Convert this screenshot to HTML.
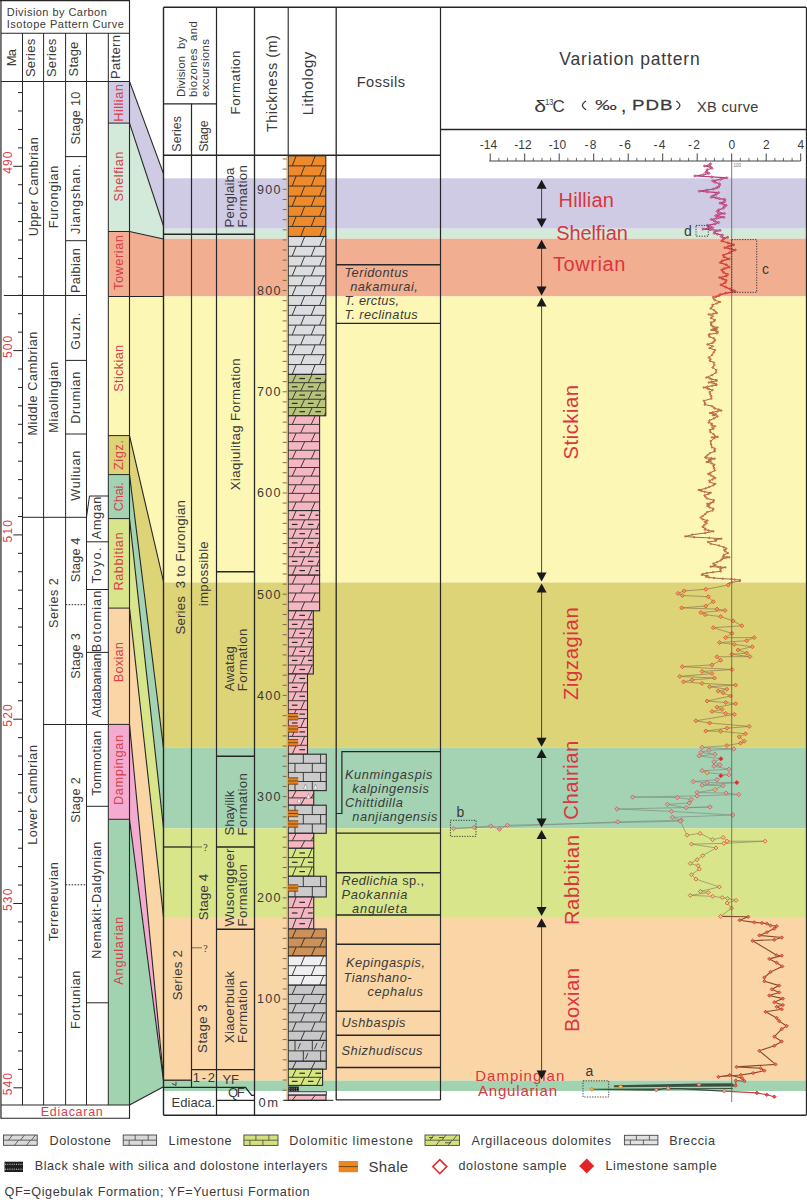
<!DOCTYPE html>
<html><head><meta charset="utf-8"><style>
html,body{margin:0;padding:0;background:#fff;}
svg{display:block;font-family:"Liberation Sans",sans-serif;}
</style></head><body>
<svg width="807" height="1200" viewBox="0 0 807 1200">
<rect width="807" height="1200" fill="#fff"/>
<rect x="163.50" y="178.30" width="642.50" height="50.40" fill="#cfcbe5" />
<rect x="163.50" y="228.70" width="642.50" height="10.00" fill="#d3eadb" />
<rect x="163.50" y="238.70" width="642.50" height="57.70" fill="#f2ae90" />
<rect x="163.50" y="296.40" width="642.50" height="286.10" fill="#fdf7b5" />
<rect x="163.50" y="582.50" width="642.50" height="165.30" fill="#ddd377" />
<rect x="163.50" y="747.80" width="642.50" height="80.50" fill="#a3d3b3" />
<rect x="163.50" y="828.30" width="642.50" height="88.70" fill="#d9e58b" />
<rect x="163.50" y="917.00" width="642.50" height="163.60" fill="#fad5a6" />
<rect x="163.50" y="1080.60" width="642.50" height="10.40" fill="#a2d3b0" />
<rect x="108.30" y="81.40" width="21.20" height="41.70" fill="#cfcbe5" />
<rect x="108.30" y="123.10" width="21.20" height="108.40" fill="#d3eadb" />
<rect x="108.30" y="231.50" width="21.20" height="65.00" fill="#f2ae90" />
<rect x="108.30" y="296.50" width="21.20" height="139.10" fill="#fdf7b5" />
<rect x="108.30" y="435.60" width="21.20" height="39.00" fill="#ddd377" />
<rect x="108.30" y="474.60" width="21.20" height="44.00" fill="#a3d3b3" />
<rect x="108.30" y="518.60" width="21.20" height="89.50" fill="#d9e58b" />
<rect x="108.30" y="608.10" width="21.20" height="116.30" fill="#fad5a6" />
<rect x="108.30" y="724.40" width="21.20" height="94.90" fill="#f3acd0" />
<rect x="108.30" y="819.30" width="21.20" height="285.70" fill="#a2d3b0" />
<polygon points="129.5,81.4 163.5,173.6 163.5,226.0 129.5,123.1" fill="#cfcbe5"/>
<polygon points="129.5,123.1 163.5,226.0 163.5,239.0 129.5,231.5" fill="#d3eadb"/>
<polygon points="129.5,231.5 163.5,239.0 163.5,296.5 129.5,296.5" fill="#f2ae90"/>
<polygon points="129.5,296.5 163.5,296.5 163.5,581.5 129.5,435.6" fill="#fdf7b5"/>
<polygon points="129.5,435.6 163.5,581.5 163.5,748.0 129.5,474.6" fill="#ddd377"/>
<polygon points="129.5,474.6 163.5,748.0 163.5,828.0 129.5,518.6" fill="#a3d3b3"/>
<polygon points="129.5,518.6 163.5,828.0 163.5,917.0 129.5,608.1" fill="#d9e58b"/>
<polygon points="129.5,608.1 163.5,917.0 163.5,1078.0 129.5,724.4" fill="#fad5a6"/>
<polygon points="129.5,724.4 163.5,1078.0 163.5,1081.0 129.5,819.3" fill="#f3acd0"/>
<polygon points="129.5,819.3 163.5,1081.0 163.5,1086.7 129.5,1105" fill="#a2d3b0"/>
<line x1="129.50" y1="81.40" x2="163.50" y2="173.60" stroke="#262626" stroke-width="1.1" />
<line x1="129.50" y1="123.10" x2="163.50" y2="226.00" stroke="#262626" stroke-width="1.1" />
<line x1="129.50" y1="231.50" x2="163.50" y2="239.00" stroke="#262626" stroke-width="1.1" />
<line x1="129.50" y1="296.50" x2="163.50" y2="296.50" stroke="#262626" stroke-width="1.1" />
<line x1="129.50" y1="435.60" x2="163.50" y2="581.50" stroke="#262626" stroke-width="1.1" />
<line x1="129.50" y1="474.60" x2="163.50" y2="748.00" stroke="#262626" stroke-width="1.1" />
<line x1="129.50" y1="518.60" x2="163.50" y2="828.00" stroke="#262626" stroke-width="1.1" />
<line x1="129.50" y1="608.10" x2="163.50" y2="917.00" stroke="#262626" stroke-width="1.1" />
<line x1="129.50" y1="724.40" x2="163.50" y2="1078.00" stroke="#262626" stroke-width="1.1" />
<line x1="129.50" y1="819.30" x2="163.50" y2="1081.00" stroke="#262626" stroke-width="1.1" />
<line x1="129.50" y1="1105.00" x2="163.50" y2="1086.70" stroke="#262626" stroke-width="1.1" />
<line x1="108.30" y1="123.10" x2="129.50" y2="123.10" stroke="#262626" stroke-width="1.0" />
<line x1="108.30" y1="231.50" x2="129.50" y2="231.50" stroke="#262626" stroke-width="1.0" />
<line x1="108.30" y1="296.50" x2="129.50" y2="296.50" stroke="#262626" stroke-width="1.0" />
<line x1="108.30" y1="435.60" x2="129.50" y2="435.60" stroke="#262626" stroke-width="1.0" />
<line x1="108.30" y1="474.60" x2="129.50" y2="474.60" stroke="#262626" stroke-width="1.0" />
<line x1="108.30" y1="518.60" x2="129.50" y2="518.60" stroke="#262626" stroke-width="1.0" />
<line x1="108.30" y1="608.10" x2="129.50" y2="608.10" stroke="#262626" stroke-width="1.0" />
<line x1="108.30" y1="724.40" x2="129.50" y2="724.40" stroke="#262626" stroke-width="1.0" />
<line x1="108.30" y1="819.30" x2="129.50" y2="819.30" stroke="#262626" stroke-width="1.0" />
<line x1="0.90" y1="0.00" x2="0.90" y2="1118.80" stroke="#707070" stroke-width="1.9" />
<line x1="0.00" y1="0.60" x2="130.00" y2="0.60" stroke="#262626" stroke-width="1.2" />
<line x1="1.00" y1="33.20" x2="130.00" y2="33.20" stroke="#262626" stroke-width="1.1" />
<line x1="1.00" y1="81.50" x2="130.00" y2="81.50" stroke="#262626" stroke-width="1.1" />
<line x1="129.50" y1="0.00" x2="129.50" y2="1118.80" stroke="#262626" stroke-width="1.1" />
<line x1="22.50" y1="33.20" x2="22.50" y2="1105.00" stroke="#262626" stroke-width="1.0" />
<line x1="43.60" y1="33.20" x2="43.60" y2="1105.00" stroke="#262626" stroke-width="1.0" />
<line x1="65.60" y1="33.20" x2="65.60" y2="1105.00" stroke="#262626" stroke-width="1.0" />
<line x1="86.50" y1="33.20" x2="86.50" y2="1105.00" stroke="#262626" stroke-width="1.0" />
<line x1="108.30" y1="33.20" x2="108.30" y2="1105.00" stroke="#262626" stroke-width="1.0" />
<line x1="1.00" y1="1105.00" x2="130.00" y2="1105.00" stroke="#262626" stroke-width="1.1" />
<line x1="1.00" y1="1118.20" x2="130.00" y2="1118.20" stroke="#262626" stroke-width="1.1" />
<text x="6.80" y="16.10" text-anchor="start" font-size="11" fill="#3a3a3a" letter-spacing="0.452" >Division by Carbon</text>
<text x="6.80" y="28.30" text-anchor="start" font-size="11" fill="#3a3a3a" letter-spacing="0.5" >Isotope Pattern Curve</text>
<text transform="translate(11.60,57.97) rotate(-90)" text-anchor="middle" dominant-baseline="central" font-size="13" fill="#3a3a3a" letter-spacing="-0.658" >Ma</text>
<text transform="translate(30.60,57.76) rotate(-90)" text-anchor="middle" dominant-baseline="central" font-size="13" fill="#3a3a3a" letter-spacing="0.311" >Series</text>
<text transform="translate(51.00,57.76) rotate(-90)" text-anchor="middle" dominant-baseline="central" font-size="13" fill="#3a3a3a" letter-spacing="0.311" >Series</text>
<text transform="translate(73.30,58.99) rotate(-90)" text-anchor="middle" dominant-baseline="central" font-size="13" fill="#3a3a3a" letter-spacing="0.182" >Stage</text>
<text transform="translate(115.50,56.87) rotate(-90)" text-anchor="middle" dominant-baseline="central" font-size="13" fill="#3a3a3a" letter-spacing="0.348" >Pattern</text>
<line x1="18.00" y1="92.58" x2="22.50" y2="92.58" stroke="#262626" stroke-width="1.0" />
<line x1="18.00" y1="111.01" x2="22.50" y2="111.01" stroke="#262626" stroke-width="1.0" />
<line x1="18.00" y1="129.44" x2="22.50" y2="129.44" stroke="#262626" stroke-width="1.0" />
<line x1="18.00" y1="147.87" x2="22.50" y2="147.87" stroke="#262626" stroke-width="1.0" />
<line x1="13.30" y1="166.30" x2="22.50" y2="166.30" stroke="#262626" stroke-width="1.0" />
<text transform="translate(7.90,162.07) rotate(-90)" text-anchor="middle" dominant-baseline="central" font-size="12" fill="#d9404c" letter-spacing="1.14" >490</text>
<line x1="18.00" y1="184.73" x2="22.50" y2="184.73" stroke="#262626" stroke-width="1.0" />
<line x1="18.00" y1="203.16" x2="22.50" y2="203.16" stroke="#262626" stroke-width="1.0" />
<line x1="18.00" y1="221.59" x2="22.50" y2="221.59" stroke="#262626" stroke-width="1.0" />
<line x1="18.00" y1="240.02" x2="22.50" y2="240.02" stroke="#262626" stroke-width="1.0" />
<line x1="18.00" y1="258.45" x2="22.50" y2="258.45" stroke="#262626" stroke-width="1.0" />
<line x1="18.00" y1="276.88" x2="22.50" y2="276.88" stroke="#262626" stroke-width="1.0" />
<line x1="18.00" y1="295.31" x2="22.50" y2="295.31" stroke="#262626" stroke-width="1.0" />
<line x1="18.00" y1="313.74" x2="22.50" y2="313.74" stroke="#262626" stroke-width="1.0" />
<line x1="18.00" y1="332.17" x2="22.50" y2="332.17" stroke="#262626" stroke-width="1.0" />
<line x1="13.30" y1="350.60" x2="22.50" y2="350.60" stroke="#262626" stroke-width="1.0" />
<text transform="translate(7.90,346.37) rotate(-90)" text-anchor="middle" dominant-baseline="central" font-size="12" fill="#d9404c" letter-spacing="1.14" >500</text>
<line x1="18.00" y1="369.03" x2="22.50" y2="369.03" stroke="#262626" stroke-width="1.0" />
<line x1="18.00" y1="387.46" x2="22.50" y2="387.46" stroke="#262626" stroke-width="1.0" />
<line x1="18.00" y1="405.89" x2="22.50" y2="405.89" stroke="#262626" stroke-width="1.0" />
<line x1="18.00" y1="424.32" x2="22.50" y2="424.32" stroke="#262626" stroke-width="1.0" />
<line x1="18.00" y1="442.75" x2="22.50" y2="442.75" stroke="#262626" stroke-width="1.0" />
<line x1="18.00" y1="461.18" x2="22.50" y2="461.18" stroke="#262626" stroke-width="1.0" />
<line x1="18.00" y1="479.61" x2="22.50" y2="479.61" stroke="#262626" stroke-width="1.0" />
<line x1="18.00" y1="498.04" x2="22.50" y2="498.04" stroke="#262626" stroke-width="1.0" />
<line x1="18.00" y1="516.47" x2="22.50" y2="516.47" stroke="#262626" stroke-width="1.0" />
<line x1="13.30" y1="534.90" x2="22.50" y2="534.90" stroke="#262626" stroke-width="1.0" />
<text transform="translate(7.90,530.67) rotate(-90)" text-anchor="middle" dominant-baseline="central" font-size="12" fill="#d9404c" letter-spacing="1.14" >510</text>
<line x1="18.00" y1="553.33" x2="22.50" y2="553.33" stroke="#262626" stroke-width="1.0" />
<line x1="18.00" y1="571.76" x2="22.50" y2="571.76" stroke="#262626" stroke-width="1.0" />
<line x1="18.00" y1="590.19" x2="22.50" y2="590.19" stroke="#262626" stroke-width="1.0" />
<line x1="18.00" y1="608.62" x2="22.50" y2="608.62" stroke="#262626" stroke-width="1.0" />
<line x1="18.00" y1="627.05" x2="22.50" y2="627.05" stroke="#262626" stroke-width="1.0" />
<line x1="18.00" y1="645.48" x2="22.50" y2="645.48" stroke="#262626" stroke-width="1.0" />
<line x1="18.00" y1="663.91" x2="22.50" y2="663.91" stroke="#262626" stroke-width="1.0" />
<line x1="18.00" y1="682.34" x2="22.50" y2="682.34" stroke="#262626" stroke-width="1.0" />
<line x1="18.00" y1="700.77" x2="22.50" y2="700.77" stroke="#262626" stroke-width="1.0" />
<line x1="13.30" y1="719.20" x2="22.50" y2="719.20" stroke="#262626" stroke-width="1.0" />
<text transform="translate(7.90,714.97) rotate(-90)" text-anchor="middle" dominant-baseline="central" font-size="12" fill="#d9404c" letter-spacing="1.14" >520</text>
<line x1="18.00" y1="737.63" x2="22.50" y2="737.63" stroke="#262626" stroke-width="1.0" />
<line x1="18.00" y1="756.06" x2="22.50" y2="756.06" stroke="#262626" stroke-width="1.0" />
<line x1="18.00" y1="774.49" x2="22.50" y2="774.49" stroke="#262626" stroke-width="1.0" />
<line x1="18.00" y1="792.92" x2="22.50" y2="792.92" stroke="#262626" stroke-width="1.0" />
<line x1="18.00" y1="811.35" x2="22.50" y2="811.35" stroke="#262626" stroke-width="1.0" />
<line x1="18.00" y1="829.78" x2="22.50" y2="829.78" stroke="#262626" stroke-width="1.0" />
<line x1="18.00" y1="848.21" x2="22.50" y2="848.21" stroke="#262626" stroke-width="1.0" />
<line x1="18.00" y1="866.64" x2="22.50" y2="866.64" stroke="#262626" stroke-width="1.0" />
<line x1="18.00" y1="885.07" x2="22.50" y2="885.07" stroke="#262626" stroke-width="1.0" />
<line x1="13.30" y1="903.50" x2="22.50" y2="903.50" stroke="#262626" stroke-width="1.0" />
<text transform="translate(7.90,899.27) rotate(-90)" text-anchor="middle" dominant-baseline="central" font-size="12" fill="#d9404c" letter-spacing="1.14" >530</text>
<line x1="18.00" y1="921.93" x2="22.50" y2="921.93" stroke="#262626" stroke-width="1.0" />
<line x1="18.00" y1="940.36" x2="22.50" y2="940.36" stroke="#262626" stroke-width="1.0" />
<line x1="18.00" y1="958.79" x2="22.50" y2="958.79" stroke="#262626" stroke-width="1.0" />
<line x1="18.00" y1="977.22" x2="22.50" y2="977.22" stroke="#262626" stroke-width="1.0" />
<line x1="18.00" y1="995.65" x2="22.50" y2="995.65" stroke="#262626" stroke-width="1.0" />
<line x1="18.00" y1="1014.08" x2="22.50" y2="1014.08" stroke="#262626" stroke-width="1.0" />
<line x1="18.00" y1="1032.51" x2="22.50" y2="1032.51" stroke="#262626" stroke-width="1.0" />
<line x1="18.00" y1="1050.94" x2="22.50" y2="1050.94" stroke="#262626" stroke-width="1.0" />
<line x1="18.00" y1="1069.37" x2="22.50" y2="1069.37" stroke="#262626" stroke-width="1.0" />
<line x1="13.30" y1="1087.80" x2="22.50" y2="1087.80" stroke="#262626" stroke-width="1.0" />
<text transform="translate(7.90,1083.57) rotate(-90)" text-anchor="middle" dominant-baseline="central" font-size="12" fill="#d9404c" letter-spacing="1.14" >540</text>
<line x1="3.80" y1="295.50" x2="86.50" y2="295.50" stroke="#262626" stroke-width="1.0" />
<line x1="22.50" y1="517.30" x2="86.50" y2="517.30" stroke="#262626" stroke-width="1.0" />
<line x1="43.60" y1="724.50" x2="108.30" y2="724.50" stroke="#262626" stroke-width="1.0" />
<line x1="65.60" y1="156.60" x2="86.50" y2="156.60" stroke="#262626" stroke-width="1.0" />
<line x1="65.60" y1="240.70" x2="86.50" y2="240.70" stroke="#262626" stroke-width="1.0" />
<line x1="65.60" y1="360.40" x2="86.50" y2="360.40" stroke="#262626" stroke-width="1.0" />
<line x1="65.60" y1="434.00" x2="86.50" y2="434.00" stroke="#262626" stroke-width="1.0" />
<line x1="65.60" y1="604.70" x2="86.50" y2="604.70" stroke="#262626" stroke-width="1.0" stroke-dasharray="1.6,1.4"/>
<line x1="65.60" y1="884.80" x2="86.50" y2="884.80" stroke="#262626" stroke-width="1.0" stroke-dasharray="1.6,1.4"/>
<polyline points="86.5,517.3 89.5,496 108.3,496" fill="none" stroke="#262626" stroke-width="1"/>
<line x1="86.50" y1="541.80" x2="108.30" y2="541.80" stroke="#262626" stroke-width="1.0" />
<line x1="86.50" y1="589.50" x2="108.30" y2="589.50" stroke="#262626" stroke-width="1.0" />
<line x1="86.50" y1="652.40" x2="108.30" y2="652.40" stroke="#262626" stroke-width="1.0" />
<line x1="86.50" y1="806.30" x2="108.30" y2="806.30" stroke="#262626" stroke-width="1.0" />
<line x1="86.50" y1="1002.80" x2="108.30" y2="1002.80" stroke="#262626" stroke-width="1.0" />
<text transform="translate(33.60,186.55) rotate(-90)" text-anchor="middle" dominant-baseline="central" font-size="12.6" fill="#3a3a3a" letter-spacing="0.505" >Upper Cambrian</text>
<text transform="translate(53.60,196.61) rotate(-90)" text-anchor="middle" dominant-baseline="central" font-size="12.6" fill="#3a3a3a" letter-spacing="0.721" >Furongian</text>
<text transform="translate(75.60,117.91) rotate(-90)" text-anchor="middle" dominant-baseline="central" font-size="12.6" fill="#3a3a3a" letter-spacing="0.323" >Stage 10</text>
<text transform="translate(75.60,198.68) rotate(-90)" text-anchor="middle" dominant-baseline="central" font-size="12.6" fill="#3a3a3a" letter-spacing="0.962" >Jiangshan.</text>
<text transform="translate(75.60,270.39) rotate(-90)" text-anchor="middle" dominant-baseline="central" font-size="12.6" fill="#3a3a3a" letter-spacing="0.478" >Paibian</text>
<text transform="translate(32.60,383.31) rotate(-90)" text-anchor="middle" dominant-baseline="central" font-size="12.6" fill="#3a3a3a" letter-spacing="0.626" >Middle Cambrian</text>
<text transform="translate(53.60,396.86) rotate(-90)" text-anchor="middle" dominant-baseline="central" font-size="12.6" fill="#3a3a3a" letter-spacing="0.727" >Miaolingian</text>
<text transform="translate(75.60,330.92) rotate(-90)" text-anchor="middle" dominant-baseline="central" font-size="12.6" fill="#3a3a3a" letter-spacing="0.846" >Guzh.</text>
<text transform="translate(75.60,397.37) rotate(-90)" text-anchor="middle" dominant-baseline="central" font-size="12.6" fill="#3a3a3a" letter-spacing="0.732" >Drumian</text>
<text transform="translate(75.60,475.39) rotate(-90)" text-anchor="middle" dominant-baseline="central" font-size="12.6" fill="#3a3a3a" letter-spacing="0.785" >Wuliuan</text>
<text transform="translate(53.60,602.81) rotate(-90)" text-anchor="middle" dominant-baseline="central" font-size="12.6" fill="#3a3a3a" letter-spacing="0.526" >Series 2</text>
<text transform="translate(75.60,559.84) rotate(-90)" text-anchor="middle" dominant-baseline="central" font-size="12.6" fill="#3a3a3a" letter-spacing="0.178" >Stage 4</text>
<text transform="translate(75.60,655.86) rotate(-90)" text-anchor="middle" dominant-baseline="central" font-size="12.6" fill="#3a3a3a" letter-spacing="0.328" >Stage 3</text>
<text transform="translate(96.80,517.57) rotate(-90)" text-anchor="middle" dominant-baseline="central" font-size="12.6" fill="#3a3a3a" letter-spacing="0.645" >Amgan</text>
<text transform="translate(96.80,564.74) rotate(-90)" text-anchor="middle" dominant-baseline="central" font-size="12.6" fill="#3a3a3a" letter-spacing="1.471" >Toyo.</text>
<text transform="translate(96.80,620.84) rotate(-90)" text-anchor="middle" dominant-baseline="central" font-size="12.6" fill="#3a3a3a" letter-spacing="1.182" >Botomian</text>
<text transform="translate(96.80,685.51) rotate(-90)" text-anchor="middle" dominant-baseline="central" font-size="12.6" fill="#3a3a3a" letter-spacing="0.028" >Atdabanian</text>
<text transform="translate(32.60,794.63) rotate(-90)" text-anchor="middle" dominant-baseline="central" font-size="12.6" fill="#3a3a3a" letter-spacing="0.559" >Lower Cambrian</text>
<text transform="translate(54.40,901.43) rotate(-90)" text-anchor="middle" dominant-baseline="central" font-size="12.6" fill="#3a3a3a" letter-spacing="0.569" >Terreneuvian</text>
<text transform="translate(75.60,799.92) rotate(-90)" text-anchor="middle" dominant-baseline="central" font-size="12.6" fill="#3a3a3a" letter-spacing="0.345" >Stage 2</text>
<text transform="translate(96.80,763.11) rotate(-90)" text-anchor="middle" dominant-baseline="central" font-size="12.6" fill="#3a3a3a" letter-spacing="0.423" >Tommotian</text>
<text transform="translate(96.80,899.83) rotate(-90)" text-anchor="middle" dominant-baseline="central" font-size="12.6" fill="#3a3a3a" letter-spacing="0.66" >Nemakit-Daldynian</text>
<text transform="translate(75.80,999.52) rotate(-90)" text-anchor="middle" dominant-baseline="central" font-size="12.6" fill="#3a3a3a" letter-spacing="0.647" >Fortunian</text>
<text x="72.14" y="1116.20" text-anchor="middle" font-size="12.5" fill="#d9404c" letter-spacing="0.715" >Ediacaran</text>
<text transform="translate(118.80,102.72) rotate(-90)" text-anchor="middle" dominant-baseline="central" font-size="12.8" fill="#d9404c" letter-spacing="0.441" >Hillian</text>
<text transform="translate(118.80,176.27) rotate(-90)" text-anchor="middle" dominant-baseline="central" font-size="12.8" fill="#d9404c" letter-spacing="0.535" >Shelfian</text>
<text transform="translate(118.80,262.27) rotate(-90)" text-anchor="middle" dominant-baseline="central" font-size="12.8" fill="#d9404c" letter-spacing="0.54" >Towerian</text>
<text transform="translate(118.80,368.16) rotate(-90)" text-anchor="middle" dominant-baseline="central" font-size="12.8" fill="#d9404c" letter-spacing="0.312" >Stickian</text>
<text transform="translate(118.80,454.78) rotate(-90)" text-anchor="middle" dominant-baseline="central" font-size="12.8" fill="#d9404c" letter-spacing="0.566" >Zigz.</text>
<text transform="translate(118.80,496.89) rotate(-90)" text-anchor="middle" dominant-baseline="central" font-size="12.8" fill="#d9404c" letter-spacing="-0.22" >Chai.</text>
<text transform="translate(118.80,561.25) rotate(-90)" text-anchor="middle" dominant-baseline="central" font-size="12.8" fill="#d9404c" letter-spacing="0.49" >Rabbitian</text>
<text transform="translate(118.80,662.09) rotate(-90)" text-anchor="middle" dominant-baseline="central" font-size="12.8" fill="#d9404c" letter-spacing="0.173" >Boxian</text>
<text transform="translate(118.80,769.68) rotate(-90)" text-anchor="middle" dominant-baseline="central" font-size="12.8" fill="#d9404c" letter-spacing="0.568" >Dampingan</text>
<text transform="translate(118.80,950.38) rotate(-90)" text-anchor="middle" dominant-baseline="central" font-size="12.8" fill="#d9404c" letter-spacing="0.756" >Angularian</text>
<rect x="288.2" y="155.80" width="37.60" height="80.70" fill="#ef8a2a"/>
<line x1="292.20" y1="165.89" x2="296.20" y2="155.80" stroke="#2a2a2a" stroke-width="0.9"/>
<line x1="311.20" y1="165.89" x2="315.20" y2="155.80" stroke="#2a2a2a" stroke-width="0.9"/>
<line x1="288.20" y1="165.89" x2="325.80" y2="165.89" stroke="#2a2a2a" stroke-width="0.9"/>
<line x1="300.70" y1="175.98" x2="304.70" y2="165.89" stroke="#2a2a2a" stroke-width="0.9"/>
<line x1="319.70" y1="175.98" x2="323.70" y2="165.89" stroke="#2a2a2a" stroke-width="0.9"/>
<line x1="288.20" y1="175.98" x2="325.80" y2="175.98" stroke="#2a2a2a" stroke-width="0.9"/>
<line x1="292.20" y1="186.06" x2="296.20" y2="175.98" stroke="#2a2a2a" stroke-width="0.9"/>
<line x1="311.20" y1="186.06" x2="315.20" y2="175.98" stroke="#2a2a2a" stroke-width="0.9"/>
<line x1="288.20" y1="186.06" x2="325.80" y2="186.06" stroke="#2a2a2a" stroke-width="0.9"/>
<line x1="300.70" y1="196.15" x2="304.70" y2="186.06" stroke="#2a2a2a" stroke-width="0.9"/>
<line x1="319.70" y1="196.15" x2="323.70" y2="186.06" stroke="#2a2a2a" stroke-width="0.9"/>
<line x1="288.20" y1="196.15" x2="325.80" y2="196.15" stroke="#2a2a2a" stroke-width="0.9"/>
<line x1="292.20" y1="206.24" x2="296.20" y2="196.15" stroke="#2a2a2a" stroke-width="0.9"/>
<line x1="311.20" y1="206.24" x2="315.20" y2="196.15" stroke="#2a2a2a" stroke-width="0.9"/>
<line x1="288.20" y1="206.24" x2="325.80" y2="206.24" stroke="#2a2a2a" stroke-width="0.9"/>
<line x1="300.70" y1="216.32" x2="304.70" y2="206.24" stroke="#2a2a2a" stroke-width="0.9"/>
<line x1="319.70" y1="216.32" x2="323.70" y2="206.24" stroke="#2a2a2a" stroke-width="0.9"/>
<line x1="288.20" y1="216.32" x2="325.80" y2="216.32" stroke="#2a2a2a" stroke-width="0.9"/>
<line x1="292.20" y1="226.41" x2="296.20" y2="216.32" stroke="#2a2a2a" stroke-width="0.9"/>
<line x1="311.20" y1="226.41" x2="315.20" y2="216.32" stroke="#2a2a2a" stroke-width="0.9"/>
<line x1="288.20" y1="226.41" x2="325.80" y2="226.41" stroke="#2a2a2a" stroke-width="0.9"/>
<line x1="300.70" y1="236.50" x2="304.70" y2="226.41" stroke="#2a2a2a" stroke-width="0.9"/>
<line x1="319.70" y1="236.50" x2="323.70" y2="226.41" stroke="#2a2a2a" stroke-width="0.9"/>
<rect x="288.2" y="155.80" width="37.60" height="80.70" fill="none" stroke="#2a2a2a" stroke-width="1.1"/>
<rect x="288.2" y="236.50" width="37.60" height="137.90" fill="#dcdde1"/>
<line x1="300.70" y1="246.35" x2="304.70" y2="236.50" stroke="#2a2a2a" stroke-width="0.9"/>
<line x1="319.70" y1="246.35" x2="323.70" y2="236.50" stroke="#2a2a2a" stroke-width="0.9"/>
<line x1="288.20" y1="246.35" x2="325.80" y2="246.35" stroke="#2a2a2a" stroke-width="0.9"/>
<line x1="292.20" y1="256.20" x2="296.20" y2="246.35" stroke="#2a2a2a" stroke-width="0.9"/>
<line x1="311.20" y1="256.20" x2="315.20" y2="246.35" stroke="#2a2a2a" stroke-width="0.9"/>
<line x1="288.20" y1="256.20" x2="325.80" y2="256.20" stroke="#2a2a2a" stroke-width="0.9"/>
<line x1="300.70" y1="266.05" x2="304.70" y2="256.20" stroke="#2a2a2a" stroke-width="0.9"/>
<line x1="319.70" y1="266.05" x2="323.70" y2="256.20" stroke="#2a2a2a" stroke-width="0.9"/>
<line x1="288.20" y1="266.05" x2="325.80" y2="266.05" stroke="#2a2a2a" stroke-width="0.9"/>
<line x1="292.20" y1="275.90" x2="296.20" y2="266.05" stroke="#2a2a2a" stroke-width="0.9"/>
<line x1="311.20" y1="275.90" x2="315.20" y2="266.05" stroke="#2a2a2a" stroke-width="0.9"/>
<line x1="288.20" y1="275.90" x2="325.80" y2="275.90" stroke="#2a2a2a" stroke-width="0.9"/>
<line x1="300.70" y1="285.75" x2="304.70" y2="275.90" stroke="#2a2a2a" stroke-width="0.9"/>
<line x1="319.70" y1="285.75" x2="323.70" y2="275.90" stroke="#2a2a2a" stroke-width="0.9"/>
<line x1="288.20" y1="285.75" x2="325.80" y2="285.75" stroke="#2a2a2a" stroke-width="0.9"/>
<line x1="292.20" y1="295.60" x2="296.20" y2="285.75" stroke="#2a2a2a" stroke-width="0.9"/>
<line x1="311.20" y1="295.60" x2="315.20" y2="285.75" stroke="#2a2a2a" stroke-width="0.9"/>
<line x1="288.20" y1="295.60" x2="325.80" y2="295.60" stroke="#2a2a2a" stroke-width="0.9"/>
<line x1="300.70" y1="305.45" x2="304.70" y2="295.60" stroke="#2a2a2a" stroke-width="0.9"/>
<line x1="319.70" y1="305.45" x2="323.70" y2="295.60" stroke="#2a2a2a" stroke-width="0.9"/>
<line x1="288.20" y1="305.45" x2="325.80" y2="305.45" stroke="#2a2a2a" stroke-width="0.9"/>
<line x1="292.20" y1="315.30" x2="296.20" y2="305.45" stroke="#2a2a2a" stroke-width="0.9"/>
<line x1="311.20" y1="315.30" x2="315.20" y2="305.45" stroke="#2a2a2a" stroke-width="0.9"/>
<line x1="288.20" y1="315.30" x2="325.80" y2="315.30" stroke="#2a2a2a" stroke-width="0.9"/>
<line x1="300.70" y1="325.15" x2="304.70" y2="315.30" stroke="#2a2a2a" stroke-width="0.9"/>
<line x1="319.70" y1="325.15" x2="323.70" y2="315.30" stroke="#2a2a2a" stroke-width="0.9"/>
<line x1="288.20" y1="325.15" x2="325.80" y2="325.15" stroke="#2a2a2a" stroke-width="0.9"/>
<line x1="292.20" y1="335.00" x2="296.20" y2="325.15" stroke="#2a2a2a" stroke-width="0.9"/>
<line x1="311.20" y1="335.00" x2="315.20" y2="325.15" stroke="#2a2a2a" stroke-width="0.9"/>
<line x1="288.20" y1="335.00" x2="325.80" y2="335.00" stroke="#2a2a2a" stroke-width="0.9"/>
<line x1="300.70" y1="344.85" x2="304.70" y2="335.00" stroke="#2a2a2a" stroke-width="0.9"/>
<line x1="319.70" y1="344.85" x2="323.70" y2="335.00" stroke="#2a2a2a" stroke-width="0.9"/>
<line x1="288.20" y1="344.85" x2="325.80" y2="344.85" stroke="#2a2a2a" stroke-width="0.9"/>
<line x1="292.20" y1="354.70" x2="296.20" y2="344.85" stroke="#2a2a2a" stroke-width="0.9"/>
<line x1="311.20" y1="354.70" x2="315.20" y2="344.85" stroke="#2a2a2a" stroke-width="0.9"/>
<line x1="288.20" y1="354.70" x2="325.80" y2="354.70" stroke="#2a2a2a" stroke-width="0.9"/>
<line x1="300.70" y1="364.55" x2="304.70" y2="354.70" stroke="#2a2a2a" stroke-width="0.9"/>
<line x1="319.70" y1="364.55" x2="323.70" y2="354.70" stroke="#2a2a2a" stroke-width="0.9"/>
<line x1="288.20" y1="364.55" x2="325.80" y2="364.55" stroke="#2a2a2a" stroke-width="0.9"/>
<line x1="292.20" y1="374.40" x2="296.20" y2="364.55" stroke="#2a2a2a" stroke-width="0.9"/>
<line x1="311.20" y1="374.40" x2="315.20" y2="364.55" stroke="#2a2a2a" stroke-width="0.9"/>
<rect x="288.2" y="236.50" width="37.60" height="137.90" fill="none" stroke="#2a2a2a" stroke-width="1.1"/>
<rect x="288.2" y="374.40" width="37.60" height="41.40" fill="#b8c47b"/>
<line x1="292.20" y1="382.68" x2="296.20" y2="374.40" stroke="#2a2a2a" stroke-width="0.9"/>
<line x1="308.20" y1="382.68" x2="312.20" y2="374.40" stroke="#2a2a2a" stroke-width="0.9"/>
<line x1="324.20" y1="382.68" x2="325.80" y2="379.37" stroke="#2a2a2a" stroke-width="0.9"/>
<line x1="299.40" y1="378.54" x2="305.00" y2="378.54" stroke="#2a2a2a" stroke-width="1.2"/>
<line x1="315.40" y1="378.54" x2="321.00" y2="378.54" stroke="#2a2a2a" stroke-width="1.2"/>
<line x1="288.20" y1="382.68" x2="325.80" y2="382.68" stroke="#2a2a2a" stroke-width="0.9"/>
<line x1="300.70" y1="390.96" x2="304.70" y2="382.68" stroke="#2a2a2a" stroke-width="0.9"/>
<line x1="316.70" y1="390.96" x2="320.70" y2="382.68" stroke="#2a2a2a" stroke-width="0.9"/>
<line x1="291.90" y1="386.82" x2="297.50" y2="386.82" stroke="#2a2a2a" stroke-width="1.2"/>
<line x1="307.90" y1="386.82" x2="313.50" y2="386.82" stroke="#2a2a2a" stroke-width="1.2"/>
<line x1="288.20" y1="390.96" x2="325.80" y2="390.96" stroke="#2a2a2a" stroke-width="0.9"/>
<line x1="292.20" y1="399.24" x2="296.20" y2="390.96" stroke="#2a2a2a" stroke-width="0.9"/>
<line x1="308.20" y1="399.24" x2="312.20" y2="390.96" stroke="#2a2a2a" stroke-width="0.9"/>
<line x1="324.20" y1="399.24" x2="325.80" y2="395.93" stroke="#2a2a2a" stroke-width="0.9"/>
<line x1="299.40" y1="395.10" x2="305.00" y2="395.10" stroke="#2a2a2a" stroke-width="1.2"/>
<line x1="315.40" y1="395.10" x2="321.00" y2="395.10" stroke="#2a2a2a" stroke-width="1.2"/>
<line x1="288.20" y1="399.24" x2="325.80" y2="399.24" stroke="#2a2a2a" stroke-width="0.9"/>
<line x1="300.70" y1="407.52" x2="304.70" y2="399.24" stroke="#2a2a2a" stroke-width="0.9"/>
<line x1="316.70" y1="407.52" x2="320.70" y2="399.24" stroke="#2a2a2a" stroke-width="0.9"/>
<line x1="291.90" y1="403.38" x2="297.50" y2="403.38" stroke="#2a2a2a" stroke-width="1.2"/>
<line x1="307.90" y1="403.38" x2="313.50" y2="403.38" stroke="#2a2a2a" stroke-width="1.2"/>
<line x1="288.20" y1="407.52" x2="325.80" y2="407.52" stroke="#2a2a2a" stroke-width="0.9"/>
<line x1="292.20" y1="415.80" x2="296.20" y2="407.52" stroke="#2a2a2a" stroke-width="0.9"/>
<line x1="308.20" y1="415.80" x2="312.20" y2="407.52" stroke="#2a2a2a" stroke-width="0.9"/>
<line x1="324.20" y1="415.80" x2="325.80" y2="412.49" stroke="#2a2a2a" stroke-width="0.9"/>
<line x1="299.40" y1="411.66" x2="305.00" y2="411.66" stroke="#2a2a2a" stroke-width="1.2"/>
<line x1="315.40" y1="411.66" x2="321.00" y2="411.66" stroke="#2a2a2a" stroke-width="1.2"/>
<rect x="288.2" y="374.40" width="37.60" height="41.40" fill="none" stroke="#2a2a2a" stroke-width="1.1"/>
<rect x="288.2" y="415.80" width="31.40" height="94.80" fill="#f4b7c1"/>
<line x1="292.20" y1="424.42" x2="296.20" y2="415.80" stroke="#2a2a2a" stroke-width="0.9"/>
<line x1="311.20" y1="424.42" x2="315.20" y2="415.80" stroke="#2a2a2a" stroke-width="0.9"/>
<line x1="288.20" y1="424.42" x2="319.60" y2="424.42" stroke="#2a2a2a" stroke-width="0.9"/>
<line x1="300.70" y1="433.04" x2="304.70" y2="424.42" stroke="#2a2a2a" stroke-width="0.9"/>
<line x1="288.20" y1="433.04" x2="319.60" y2="433.04" stroke="#2a2a2a" stroke-width="0.9"/>
<line x1="292.20" y1="441.65" x2="296.20" y2="433.04" stroke="#2a2a2a" stroke-width="0.9"/>
<line x1="311.20" y1="441.65" x2="315.20" y2="433.04" stroke="#2a2a2a" stroke-width="0.9"/>
<line x1="288.20" y1="441.65" x2="319.60" y2="441.65" stroke="#2a2a2a" stroke-width="0.9"/>
<line x1="300.70" y1="450.27" x2="304.70" y2="441.65" stroke="#2a2a2a" stroke-width="0.9"/>
<line x1="288.20" y1="450.27" x2="319.60" y2="450.27" stroke="#2a2a2a" stroke-width="0.9"/>
<line x1="292.20" y1="458.89" x2="296.20" y2="450.27" stroke="#2a2a2a" stroke-width="0.9"/>
<line x1="311.20" y1="458.89" x2="315.20" y2="450.27" stroke="#2a2a2a" stroke-width="0.9"/>
<line x1="288.20" y1="458.89" x2="319.60" y2="458.89" stroke="#2a2a2a" stroke-width="0.9"/>
<line x1="300.70" y1="467.51" x2="304.70" y2="458.89" stroke="#2a2a2a" stroke-width="0.9"/>
<line x1="288.20" y1="467.51" x2="319.60" y2="467.51" stroke="#2a2a2a" stroke-width="0.9"/>
<line x1="292.20" y1="476.13" x2="296.20" y2="467.51" stroke="#2a2a2a" stroke-width="0.9"/>
<line x1="311.20" y1="476.13" x2="315.20" y2="467.51" stroke="#2a2a2a" stroke-width="0.9"/>
<line x1="288.20" y1="476.13" x2="319.60" y2="476.13" stroke="#2a2a2a" stroke-width="0.9"/>
<line x1="300.70" y1="484.75" x2="304.70" y2="476.13" stroke="#2a2a2a" stroke-width="0.9"/>
<line x1="288.20" y1="484.75" x2="319.60" y2="484.75" stroke="#2a2a2a" stroke-width="0.9"/>
<line x1="292.20" y1="493.36" x2="296.20" y2="484.75" stroke="#2a2a2a" stroke-width="0.9"/>
<line x1="311.20" y1="493.36" x2="315.20" y2="484.75" stroke="#2a2a2a" stroke-width="0.9"/>
<line x1="288.20" y1="493.36" x2="319.60" y2="493.36" stroke="#2a2a2a" stroke-width="0.9"/>
<line x1="300.70" y1="501.98" x2="304.70" y2="493.36" stroke="#2a2a2a" stroke-width="0.9"/>
<line x1="288.20" y1="501.98" x2="319.60" y2="501.98" stroke="#2a2a2a" stroke-width="0.9"/>
<line x1="292.20" y1="510.60" x2="296.20" y2="501.98" stroke="#2a2a2a" stroke-width="0.9"/>
<line x1="311.20" y1="510.60" x2="315.20" y2="501.98" stroke="#2a2a2a" stroke-width="0.9"/>
<rect x="288.2" y="415.80" width="31.40" height="94.80" fill="none" stroke="#2a2a2a" stroke-width="1.1"/>
<rect x="288.2" y="510.60" width="31.40" height="64.60" fill="#f4b7c1"/>
<line x1="292.20" y1="519.83" x2="296.20" y2="510.60" stroke="#2a2a2a" stroke-width="0.9"/>
<line x1="308.20" y1="519.83" x2="312.20" y2="510.60" stroke="#2a2a2a" stroke-width="0.9"/>
<line x1="299.40" y1="515.21" x2="305.00" y2="515.21" stroke="#2a2a2a" stroke-width="1.2"/>
<line x1="315.40" y1="515.21" x2="318.60" y2="515.21" stroke="#2a2a2a" stroke-width="1.2"/>
<line x1="288.20" y1="519.83" x2="319.60" y2="519.83" stroke="#2a2a2a" stroke-width="0.9"/>
<line x1="300.70" y1="529.06" x2="304.70" y2="519.83" stroke="#2a2a2a" stroke-width="0.9"/>
<line x1="316.70" y1="529.06" x2="319.60" y2="522.37" stroke="#2a2a2a" stroke-width="0.9"/>
<line x1="291.90" y1="524.44" x2="297.50" y2="524.44" stroke="#2a2a2a" stroke-width="1.2"/>
<line x1="307.90" y1="524.44" x2="313.50" y2="524.44" stroke="#2a2a2a" stroke-width="1.2"/>
<line x1="288.20" y1="529.06" x2="319.60" y2="529.06" stroke="#2a2a2a" stroke-width="0.9"/>
<line x1="292.20" y1="538.29" x2="296.20" y2="529.06" stroke="#2a2a2a" stroke-width="0.9"/>
<line x1="308.20" y1="538.29" x2="312.20" y2="529.06" stroke="#2a2a2a" stroke-width="0.9"/>
<line x1="299.40" y1="533.67" x2="305.00" y2="533.67" stroke="#2a2a2a" stroke-width="1.2"/>
<line x1="315.40" y1="533.67" x2="318.60" y2="533.67" stroke="#2a2a2a" stroke-width="1.2"/>
<line x1="288.20" y1="538.29" x2="319.60" y2="538.29" stroke="#2a2a2a" stroke-width="0.9"/>
<line x1="300.70" y1="547.51" x2="304.70" y2="538.29" stroke="#2a2a2a" stroke-width="0.9"/>
<line x1="316.70" y1="547.51" x2="319.60" y2="540.82" stroke="#2a2a2a" stroke-width="0.9"/>
<line x1="291.90" y1="542.90" x2="297.50" y2="542.90" stroke="#2a2a2a" stroke-width="1.2"/>
<line x1="307.90" y1="542.90" x2="313.50" y2="542.90" stroke="#2a2a2a" stroke-width="1.2"/>
<line x1="288.20" y1="547.51" x2="319.60" y2="547.51" stroke="#2a2a2a" stroke-width="0.9"/>
<line x1="292.20" y1="556.74" x2="296.20" y2="547.51" stroke="#2a2a2a" stroke-width="0.9"/>
<line x1="308.20" y1="556.74" x2="312.20" y2="547.51" stroke="#2a2a2a" stroke-width="0.9"/>
<line x1="299.40" y1="552.13" x2="305.00" y2="552.13" stroke="#2a2a2a" stroke-width="1.2"/>
<line x1="315.40" y1="552.13" x2="318.60" y2="552.13" stroke="#2a2a2a" stroke-width="1.2"/>
<line x1="288.20" y1="556.74" x2="319.60" y2="556.74" stroke="#2a2a2a" stroke-width="0.9"/>
<line x1="300.70" y1="565.97" x2="304.70" y2="556.74" stroke="#2a2a2a" stroke-width="0.9"/>
<line x1="316.70" y1="565.97" x2="319.60" y2="559.28" stroke="#2a2a2a" stroke-width="0.9"/>
<line x1="291.90" y1="561.36" x2="297.50" y2="561.36" stroke="#2a2a2a" stroke-width="1.2"/>
<line x1="307.90" y1="561.36" x2="313.50" y2="561.36" stroke="#2a2a2a" stroke-width="1.2"/>
<line x1="288.20" y1="565.97" x2="319.60" y2="565.97" stroke="#2a2a2a" stroke-width="0.9"/>
<line x1="292.20" y1="575.20" x2="296.20" y2="565.97" stroke="#2a2a2a" stroke-width="0.9"/>
<line x1="308.20" y1="575.20" x2="312.20" y2="565.97" stroke="#2a2a2a" stroke-width="0.9"/>
<line x1="299.40" y1="570.59" x2="305.00" y2="570.59" stroke="#2a2a2a" stroke-width="1.2"/>
<line x1="315.40" y1="570.59" x2="318.60" y2="570.59" stroke="#2a2a2a" stroke-width="1.2"/>
<rect x="288.2" y="510.60" width="31.40" height="64.60" fill="none" stroke="#2a2a2a" stroke-width="1.1"/>
<rect x="288.2" y="575.20" width="31.40" height="35.60" fill="#f4b7c1"/>
<line x1="292.20" y1="584.10" x2="296.20" y2="575.20" stroke="#2a2a2a" stroke-width="0.9"/>
<line x1="311.20" y1="584.10" x2="315.20" y2="575.20" stroke="#2a2a2a" stroke-width="0.9"/>
<line x1="288.20" y1="584.10" x2="319.60" y2="584.10" stroke="#2a2a2a" stroke-width="0.9"/>
<line x1="300.70" y1="593.00" x2="304.70" y2="584.10" stroke="#2a2a2a" stroke-width="0.9"/>
<line x1="288.20" y1="593.00" x2="319.60" y2="593.00" stroke="#2a2a2a" stroke-width="0.9"/>
<line x1="292.20" y1="601.90" x2="296.20" y2="593.00" stroke="#2a2a2a" stroke-width="0.9"/>
<line x1="311.20" y1="601.90" x2="315.20" y2="593.00" stroke="#2a2a2a" stroke-width="0.9"/>
<line x1="288.20" y1="601.90" x2="319.60" y2="601.90" stroke="#2a2a2a" stroke-width="0.9"/>
<line x1="300.70" y1="610.80" x2="304.70" y2="601.90" stroke="#2a2a2a" stroke-width="0.9"/>
<rect x="288.2" y="575.20" width="31.40" height="35.60" fill="none" stroke="#2a2a2a" stroke-width="1.1"/>
<rect x="288.2" y="610.80" width="25.10" height="63.20" fill="#f4b7c1"/>
<line x1="292.20" y1="619.83" x2="296.20" y2="610.80" stroke="#2a2a2a" stroke-width="0.9"/>
<line x1="308.20" y1="619.83" x2="312.20" y2="610.80" stroke="#2a2a2a" stroke-width="0.9"/>
<line x1="299.40" y1="615.31" x2="305.00" y2="615.31" stroke="#2a2a2a" stroke-width="1.2"/>
<line x1="288.20" y1="619.83" x2="313.30" y2="619.83" stroke="#2a2a2a" stroke-width="0.9"/>
<line x1="300.70" y1="628.86" x2="304.70" y2="619.83" stroke="#2a2a2a" stroke-width="0.9"/>
<line x1="291.90" y1="624.34" x2="297.50" y2="624.34" stroke="#2a2a2a" stroke-width="1.2"/>
<line x1="307.90" y1="624.34" x2="312.30" y2="624.34" stroke="#2a2a2a" stroke-width="1.2"/>
<line x1="288.20" y1="628.86" x2="313.30" y2="628.86" stroke="#2a2a2a" stroke-width="0.9"/>
<line x1="292.20" y1="637.89" x2="296.20" y2="628.86" stroke="#2a2a2a" stroke-width="0.9"/>
<line x1="308.20" y1="637.89" x2="312.20" y2="628.86" stroke="#2a2a2a" stroke-width="0.9"/>
<line x1="299.40" y1="633.37" x2="305.00" y2="633.37" stroke="#2a2a2a" stroke-width="1.2"/>
<line x1="288.20" y1="637.89" x2="313.30" y2="637.89" stroke="#2a2a2a" stroke-width="0.9"/>
<line x1="300.70" y1="646.91" x2="304.70" y2="637.89" stroke="#2a2a2a" stroke-width="0.9"/>
<line x1="291.90" y1="642.40" x2="297.50" y2="642.40" stroke="#2a2a2a" stroke-width="1.2"/>
<line x1="307.90" y1="642.40" x2="312.30" y2="642.40" stroke="#2a2a2a" stroke-width="1.2"/>
<line x1="288.20" y1="646.91" x2="313.30" y2="646.91" stroke="#2a2a2a" stroke-width="0.9"/>
<line x1="292.20" y1="655.94" x2="296.20" y2="646.91" stroke="#2a2a2a" stroke-width="0.9"/>
<line x1="308.20" y1="655.94" x2="312.20" y2="646.91" stroke="#2a2a2a" stroke-width="0.9"/>
<line x1="299.40" y1="651.43" x2="305.00" y2="651.43" stroke="#2a2a2a" stroke-width="1.2"/>
<line x1="288.20" y1="655.94" x2="313.30" y2="655.94" stroke="#2a2a2a" stroke-width="0.9"/>
<line x1="300.70" y1="664.97" x2="304.70" y2="655.94" stroke="#2a2a2a" stroke-width="0.9"/>
<line x1="291.90" y1="660.46" x2="297.50" y2="660.46" stroke="#2a2a2a" stroke-width="1.2"/>
<line x1="307.90" y1="660.46" x2="312.30" y2="660.46" stroke="#2a2a2a" stroke-width="1.2"/>
<line x1="288.20" y1="664.97" x2="313.30" y2="664.97" stroke="#2a2a2a" stroke-width="0.9"/>
<line x1="292.20" y1="674.00" x2="296.20" y2="664.97" stroke="#2a2a2a" stroke-width="0.9"/>
<line x1="308.20" y1="674.00" x2="312.20" y2="664.97" stroke="#2a2a2a" stroke-width="0.9"/>
<line x1="299.40" y1="669.49" x2="305.00" y2="669.49" stroke="#2a2a2a" stroke-width="1.2"/>
<rect x="288.2" y="610.80" width="25.10" height="63.20" fill="none" stroke="#2a2a2a" stroke-width="1.1"/>
<rect x="288.2" y="674.00" width="19.30" height="80.20" fill="#f4b7c1"/>
<line x1="292.20" y1="682.91" x2="296.20" y2="674.00" stroke="#2a2a2a" stroke-width="0.9"/>
<line x1="299.40" y1="678.46" x2="305.00" y2="678.46" stroke="#2a2a2a" stroke-width="1.2"/>
<line x1="288.20" y1="682.91" x2="307.50" y2="682.91" stroke="#2a2a2a" stroke-width="0.9"/>
<line x1="300.70" y1="691.82" x2="304.70" y2="682.91" stroke="#2a2a2a" stroke-width="0.9"/>
<line x1="291.90" y1="687.37" x2="297.50" y2="687.37" stroke="#2a2a2a" stroke-width="1.2"/>
<line x1="288.20" y1="691.82" x2="307.50" y2="691.82" stroke="#2a2a2a" stroke-width="0.9"/>
<line x1="292.20" y1="700.73" x2="296.20" y2="691.82" stroke="#2a2a2a" stroke-width="0.9"/>
<line x1="299.40" y1="696.28" x2="305.00" y2="696.28" stroke="#2a2a2a" stroke-width="1.2"/>
<line x1="288.20" y1="700.73" x2="307.50" y2="700.73" stroke="#2a2a2a" stroke-width="0.9"/>
<line x1="300.70" y1="709.64" x2="304.70" y2="700.73" stroke="#2a2a2a" stroke-width="0.9"/>
<line x1="291.90" y1="705.19" x2="297.50" y2="705.19" stroke="#2a2a2a" stroke-width="1.2"/>
<line x1="288.20" y1="709.64" x2="307.50" y2="709.64" stroke="#2a2a2a" stroke-width="0.9"/>
<line x1="292.20" y1="718.56" x2="296.20" y2="709.64" stroke="#2a2a2a" stroke-width="0.9"/>
<line x1="299.40" y1="714.10" x2="305.00" y2="714.10" stroke="#2a2a2a" stroke-width="1.2"/>
<line x1="288.20" y1="718.56" x2="307.50" y2="718.56" stroke="#2a2a2a" stroke-width="0.9"/>
<line x1="300.70" y1="727.47" x2="304.70" y2="718.56" stroke="#2a2a2a" stroke-width="0.9"/>
<line x1="291.90" y1="723.01" x2="297.50" y2="723.01" stroke="#2a2a2a" stroke-width="1.2"/>
<line x1="288.20" y1="727.47" x2="307.50" y2="727.47" stroke="#2a2a2a" stroke-width="0.9"/>
<line x1="292.20" y1="736.38" x2="296.20" y2="727.47" stroke="#2a2a2a" stroke-width="0.9"/>
<line x1="299.40" y1="731.92" x2="305.00" y2="731.92" stroke="#2a2a2a" stroke-width="1.2"/>
<line x1="288.20" y1="736.38" x2="307.50" y2="736.38" stroke="#2a2a2a" stroke-width="0.9"/>
<line x1="300.70" y1="745.29" x2="304.70" y2="736.38" stroke="#2a2a2a" stroke-width="0.9"/>
<line x1="291.90" y1="740.83" x2="297.50" y2="740.83" stroke="#2a2a2a" stroke-width="1.2"/>
<line x1="288.20" y1="745.29" x2="307.50" y2="745.29" stroke="#2a2a2a" stroke-width="0.9"/>
<line x1="292.20" y1="754.20" x2="296.20" y2="745.29" stroke="#2a2a2a" stroke-width="0.9"/>
<line x1="299.40" y1="749.74" x2="305.00" y2="749.74" stroke="#2a2a2a" stroke-width="1.2"/>
<rect x="288.2" y="674.00" width="19.30" height="80.20" fill="none" stroke="#2a2a2a" stroke-width="1.1"/>
<rect x="288.2" y="713.50" width="10" height="6.4" fill="#e8821e"/>
<line x1="288.20" y1="713.50" x2="298.20" y2="713.50" stroke="#5a3a10" stroke-width="0.8"/>
<line x1="288.20" y1="716.70" x2="298.20" y2="716.70" stroke="#5a3a10" stroke-width="0.8"/>
<line x1="288.20" y1="719.90" x2="298.20" y2="719.90" stroke="#5a3a10" stroke-width="0.8"/>
<rect x="288.2" y="725.80" width="10" height="6.4" fill="#e8821e"/>
<line x1="288.20" y1="725.80" x2="298.20" y2="725.80" stroke="#5a3a10" stroke-width="0.8"/>
<line x1="288.20" y1="729.00" x2="298.20" y2="729.00" stroke="#5a3a10" stroke-width="0.8"/>
<line x1="288.20" y1="732.20" x2="298.20" y2="732.20" stroke="#5a3a10" stroke-width="0.8"/>
<rect x="288.2" y="739.50" width="10" height="6.4" fill="#e8821e"/>
<line x1="288.20" y1="739.50" x2="298.20" y2="739.50" stroke="#5a3a10" stroke-width="0.8"/>
<line x1="288.20" y1="742.70" x2="298.20" y2="742.70" stroke="#5a3a10" stroke-width="0.8"/>
<line x1="288.20" y1="745.90" x2="298.20" y2="745.90" stroke="#5a3a10" stroke-width="0.8"/>
<rect x="288.2" y="754.20" width="38.05" height="36.40" fill="#cbcbcc"/>
<line x1="303.30" y1="754.20" x2="303.30" y2="763.30" stroke="#2a2a2a" stroke-width="0.9"/>
<line x1="320.60" y1="754.20" x2="320.60" y2="763.30" stroke="#2a2a2a" stroke-width="0.9"/>
<line x1="288.20" y1="763.30" x2="326.25" y2="763.30" stroke="#2a2a2a" stroke-width="0.9"/>
<line x1="295.00" y1="763.30" x2="295.00" y2="772.40" stroke="#2a2a2a" stroke-width="0.9"/>
<line x1="312.30" y1="763.30" x2="312.30" y2="772.40" stroke="#2a2a2a" stroke-width="0.9"/>
<line x1="288.20" y1="772.40" x2="326.25" y2="772.40" stroke="#2a2a2a" stroke-width="0.9"/>
<line x1="303.30" y1="772.40" x2="303.30" y2="781.50" stroke="#2a2a2a" stroke-width="0.9"/>
<line x1="320.60" y1="772.40" x2="320.60" y2="781.50" stroke="#2a2a2a" stroke-width="0.9"/>
<line x1="288.20" y1="781.50" x2="326.25" y2="781.50" stroke="#2a2a2a" stroke-width="0.9"/>
<line x1="295.00" y1="781.50" x2="295.00" y2="790.60" stroke="#2a2a2a" stroke-width="0.9"/>
<line x1="312.30" y1="781.50" x2="312.30" y2="790.60" stroke="#2a2a2a" stroke-width="0.9"/>
<rect x="288.2" y="754.20" width="38.05" height="36.40" fill="none" stroke="#2a2a2a" stroke-width="1.1"/>
<rect x="288.2" y="777.80" width="10" height="6.4" fill="#e8821e"/>
<line x1="288.20" y1="777.80" x2="298.20" y2="777.80" stroke="#5a3a10" stroke-width="0.8"/>
<line x1="288.20" y1="781.00" x2="298.20" y2="781.00" stroke="#5a3a10" stroke-width="0.8"/>
<line x1="288.20" y1="784.20" x2="298.20" y2="784.20" stroke="#5a3a10" stroke-width="0.8"/>
<rect x="288.2" y="790.60" width="25.55" height="14.60" fill="#f4b7c1"/>
<line x1="292.20" y1="797.90" x2="296.20" y2="790.60" stroke="#2a2a2a" stroke-width="0.9"/>
<line x1="311.20" y1="797.90" x2="313.75" y2="793.25" stroke="#2a2a2a" stroke-width="0.9"/>
<line x1="288.20" y1="797.90" x2="313.75" y2="797.90" stroke="#2a2a2a" stroke-width="0.9"/>
<line x1="300.70" y1="805.20" x2="304.70" y2="797.90" stroke="#2a2a2a" stroke-width="0.9"/>
<rect x="288.2" y="790.60" width="25.55" height="14.60" fill="none" stroke="#2a2a2a" stroke-width="1.1"/>
<rect x="288.2" y="805.20" width="38.05" height="28.10" fill="#cbcbcc"/>
<line x1="295.00" y1="805.20" x2="295.00" y2="814.57" stroke="#2a2a2a" stroke-width="0.9"/>
<line x1="312.30" y1="805.20" x2="312.30" y2="814.57" stroke="#2a2a2a" stroke-width="0.9"/>
<line x1="288.20" y1="814.57" x2="326.25" y2="814.57" stroke="#2a2a2a" stroke-width="0.9"/>
<line x1="303.30" y1="814.57" x2="303.30" y2="823.93" stroke="#2a2a2a" stroke-width="0.9"/>
<line x1="320.60" y1="814.57" x2="320.60" y2="823.93" stroke="#2a2a2a" stroke-width="0.9"/>
<line x1="288.20" y1="823.93" x2="326.25" y2="823.93" stroke="#2a2a2a" stroke-width="0.9"/>
<line x1="295.00" y1="823.93" x2="295.00" y2="833.30" stroke="#2a2a2a" stroke-width="0.9"/>
<line x1="312.30" y1="823.93" x2="312.30" y2="833.30" stroke="#2a2a2a" stroke-width="0.9"/>
<rect x="288.2" y="805.20" width="38.05" height="28.10" fill="none" stroke="#2a2a2a" stroke-width="1.1"/>
<rect x="288.2" y="810.30" width="10" height="6.4" fill="#e8821e"/>
<line x1="288.20" y1="810.30" x2="298.20" y2="810.30" stroke="#5a3a10" stroke-width="0.8"/>
<line x1="288.20" y1="813.50" x2="298.20" y2="813.50" stroke="#5a3a10" stroke-width="0.8"/>
<line x1="288.20" y1="816.70" x2="298.20" y2="816.70" stroke="#5a3a10" stroke-width="0.8"/>
<rect x="288.2" y="820.80" width="10" height="6.4" fill="#e8821e"/>
<line x1="288.20" y1="820.80" x2="298.20" y2="820.80" stroke="#5a3a10" stroke-width="0.8"/>
<line x1="288.20" y1="824.00" x2="298.20" y2="824.00" stroke="#5a3a10" stroke-width="0.8"/>
<line x1="288.20" y1="827.20" x2="298.20" y2="827.20" stroke="#5a3a10" stroke-width="0.8"/>
<path d="M305.5,784.0 L307.3,788.7 Q305.5,790.1 303.7,788.7 Z" fill="#fff" stroke="#555" stroke-width="0.4"/>
<path d="M315.5,784.0 L317.3,788.7 Q315.5,790.1 313.7,788.7 Z" fill="#fff" stroke="#555" stroke-width="0.4"/>
<path d="M299,797.5 L300.8,802.2 Q299,803.6 297.2,802.2 Z" fill="#fff" stroke="#555" stroke-width="0.4"/>
<path d="M308.5,793.5 L310.3,798.2 Q308.5,799.6 306.7,798.2 Z" fill="#fff" stroke="#555" stroke-width="0.4"/>
<rect x="288.2" y="833.30" width="25.55" height="15.00" fill="#f4b7c1"/>
<line x1="292.20" y1="840.80" x2="296.20" y2="833.30" stroke="#2a2a2a" stroke-width="0.9"/>
<line x1="311.20" y1="840.80" x2="313.75" y2="836.02" stroke="#2a2a2a" stroke-width="0.9"/>
<line x1="288.20" y1="840.80" x2="313.75" y2="840.80" stroke="#2a2a2a" stroke-width="0.9"/>
<line x1="300.70" y1="848.30" x2="304.70" y2="840.80" stroke="#2a2a2a" stroke-width="0.9"/>
<rect x="288.2" y="833.30" width="25.55" height="15.00" fill="none" stroke="#2a2a2a" stroke-width="1.1"/>
<rect x="288.2" y="848.30" width="25.55" height="27.95" fill="#d6e683"/>
<line x1="292.20" y1="857.62" x2="296.20" y2="848.30" stroke="#2a2a2a" stroke-width="0.9"/>
<line x1="308.20" y1="857.62" x2="312.20" y2="848.30" stroke="#2a2a2a" stroke-width="0.9"/>
<line x1="299.40" y1="852.96" x2="305.00" y2="852.96" stroke="#2a2a2a" stroke-width="1.2"/>
<line x1="288.20" y1="857.62" x2="313.75" y2="857.62" stroke="#2a2a2a" stroke-width="0.9"/>
<line x1="300.70" y1="866.93" x2="304.70" y2="857.62" stroke="#2a2a2a" stroke-width="0.9"/>
<line x1="291.90" y1="862.27" x2="297.50" y2="862.27" stroke="#2a2a2a" stroke-width="1.2"/>
<line x1="307.90" y1="862.27" x2="312.75" y2="862.27" stroke="#2a2a2a" stroke-width="1.2"/>
<line x1="288.20" y1="866.93" x2="313.75" y2="866.93" stroke="#2a2a2a" stroke-width="0.9"/>
<line x1="292.20" y1="876.25" x2="296.20" y2="866.93" stroke="#2a2a2a" stroke-width="0.9"/>
<line x1="308.20" y1="876.25" x2="312.20" y2="866.93" stroke="#2a2a2a" stroke-width="0.9"/>
<line x1="299.40" y1="871.59" x2="305.00" y2="871.59" stroke="#2a2a2a" stroke-width="1.2"/>
<rect x="288.2" y="848.30" width="25.55" height="27.95" fill="none" stroke="#2a2a2a" stroke-width="1.1"/>
<rect x="288.2" y="876.25" width="38.05" height="20.75" fill="#cbcbcc"/>
<line x1="303.30" y1="876.25" x2="303.30" y2="886.62" stroke="#2a2a2a" stroke-width="0.9"/>
<line x1="320.60" y1="876.25" x2="320.60" y2="886.62" stroke="#2a2a2a" stroke-width="0.9"/>
<line x1="288.20" y1="886.62" x2="326.25" y2="886.62" stroke="#2a2a2a" stroke-width="0.9"/>
<line x1="295.00" y1="886.62" x2="295.00" y2="897.00" stroke="#2a2a2a" stroke-width="0.9"/>
<line x1="312.30" y1="886.62" x2="312.30" y2="897.00" stroke="#2a2a2a" stroke-width="0.9"/>
<rect x="288.2" y="876.25" width="38.05" height="20.75" fill="none" stroke="#2a2a2a" stroke-width="1.1"/>
<rect x="288.2" y="884.80" width="10" height="6.4" fill="#e8821e"/>
<line x1="288.20" y1="884.80" x2="298.20" y2="884.80" stroke="#5a3a10" stroke-width="0.8"/>
<line x1="288.20" y1="888.00" x2="298.20" y2="888.00" stroke="#5a3a10" stroke-width="0.8"/>
<line x1="288.20" y1="891.20" x2="298.20" y2="891.20" stroke="#5a3a10" stroke-width="0.8"/>
<rect x="288.2" y="897.00" width="25.55" height="32.00" fill="#f4b7c1"/>
<line x1="292.20" y1="907.67" x2="296.20" y2="897.00" stroke="#2a2a2a" stroke-width="0.9"/>
<line x1="308.20" y1="907.67" x2="312.20" y2="897.00" stroke="#2a2a2a" stroke-width="0.9"/>
<line x1="299.40" y1="902.33" x2="305.00" y2="902.33" stroke="#2a2a2a" stroke-width="1.2"/>
<line x1="288.20" y1="907.67" x2="313.75" y2="907.67" stroke="#2a2a2a" stroke-width="0.9"/>
<line x1="300.70" y1="918.33" x2="304.70" y2="907.67" stroke="#2a2a2a" stroke-width="0.9"/>
<line x1="291.90" y1="913.00" x2="297.50" y2="913.00" stroke="#2a2a2a" stroke-width="1.2"/>
<line x1="307.90" y1="913.00" x2="312.75" y2="913.00" stroke="#2a2a2a" stroke-width="1.2"/>
<line x1="288.20" y1="918.33" x2="313.75" y2="918.33" stroke="#2a2a2a" stroke-width="0.9"/>
<line x1="292.20" y1="929.00" x2="296.20" y2="918.33" stroke="#2a2a2a" stroke-width="0.9"/>
<line x1="308.20" y1="929.00" x2="312.20" y2="918.33" stroke="#2a2a2a" stroke-width="0.9"/>
<line x1="299.40" y1="923.67" x2="305.00" y2="923.67" stroke="#2a2a2a" stroke-width="1.2"/>
<rect x="288.2" y="897.00" width="25.55" height="32.00" fill="none" stroke="#2a2a2a" stroke-width="1.1"/>
<rect x="288.2" y="929.00" width="38.05" height="27.00" fill="#cd9058"/>
<line x1="292.20" y1="938.00" x2="296.20" y2="929.00" stroke="#2a2a2a" stroke-width="0.9"/>
<line x1="311.20" y1="938.00" x2="315.20" y2="929.00" stroke="#2a2a2a" stroke-width="0.9"/>
<line x1="288.20" y1="938.00" x2="326.25" y2="938.00" stroke="#2a2a2a" stroke-width="0.9"/>
<line x1="300.70" y1="947.00" x2="304.70" y2="938.00" stroke="#2a2a2a" stroke-width="0.9"/>
<line x1="319.70" y1="947.00" x2="323.70" y2="938.00" stroke="#2a2a2a" stroke-width="0.9"/>
<line x1="288.20" y1="947.00" x2="326.25" y2="947.00" stroke="#2a2a2a" stroke-width="0.9"/>
<line x1="292.20" y1="956.00" x2="296.20" y2="947.00" stroke="#2a2a2a" stroke-width="0.9"/>
<line x1="311.20" y1="956.00" x2="315.20" y2="947.00" stroke="#2a2a2a" stroke-width="0.9"/>
<rect x="288.2" y="929.00" width="38.05" height="27.00" fill="none" stroke="#2a2a2a" stroke-width="1.1"/>
<rect x="288.2" y="956.00" width="38.05" height="29.20" fill="#efeff1"/>
<line x1="300.70" y1="965.73" x2="304.70" y2="956.00" stroke="#2a2a2a" stroke-width="0.9"/>
<line x1="319.70" y1="965.73" x2="323.70" y2="956.00" stroke="#2a2a2a" stroke-width="0.9"/>
<line x1="288.20" y1="965.73" x2="326.25" y2="965.73" stroke="#2a2a2a" stroke-width="0.9"/>
<line x1="292.20" y1="975.47" x2="296.20" y2="965.73" stroke="#2a2a2a" stroke-width="0.9"/>
<line x1="311.20" y1="975.47" x2="315.20" y2="965.73" stroke="#2a2a2a" stroke-width="0.9"/>
<line x1="288.20" y1="975.47" x2="326.25" y2="975.47" stroke="#2a2a2a" stroke-width="0.9"/>
<line x1="300.70" y1="985.20" x2="304.70" y2="975.47" stroke="#2a2a2a" stroke-width="0.9"/>
<line x1="319.70" y1="985.20" x2="323.70" y2="975.47" stroke="#2a2a2a" stroke-width="0.9"/>
<rect x="288.2" y="956.00" width="38.05" height="29.20" fill="none" stroke="#2a2a2a" stroke-width="1.1"/>
<rect x="288.2" y="985.20" width="38.05" height="55.20" fill="#c7c7c9"/>
<line x1="292.20" y1="994.40" x2="296.20" y2="985.20" stroke="#2a2a2a" stroke-width="0.9"/>
<line x1="311.20" y1="994.40" x2="315.20" y2="985.20" stroke="#2a2a2a" stroke-width="0.9"/>
<line x1="288.20" y1="994.40" x2="326.25" y2="994.40" stroke="#2a2a2a" stroke-width="0.9"/>
<line x1="300.70" y1="1003.60" x2="304.70" y2="994.40" stroke="#2a2a2a" stroke-width="0.9"/>
<line x1="319.70" y1="1003.60" x2="323.70" y2="994.40" stroke="#2a2a2a" stroke-width="0.9"/>
<line x1="288.20" y1="1003.60" x2="326.25" y2="1003.60" stroke="#2a2a2a" stroke-width="0.9"/>
<line x1="292.20" y1="1012.80" x2="296.20" y2="1003.60" stroke="#2a2a2a" stroke-width="0.9"/>
<line x1="311.20" y1="1012.80" x2="315.20" y2="1003.60" stroke="#2a2a2a" stroke-width="0.9"/>
<line x1="288.20" y1="1012.80" x2="326.25" y2="1012.80" stroke="#2a2a2a" stroke-width="0.9"/>
<line x1="300.70" y1="1022.00" x2="304.70" y2="1012.80" stroke="#2a2a2a" stroke-width="0.9"/>
<line x1="319.70" y1="1022.00" x2="323.70" y2="1012.80" stroke="#2a2a2a" stroke-width="0.9"/>
<line x1="288.20" y1="1022.00" x2="326.25" y2="1022.00" stroke="#2a2a2a" stroke-width="0.9"/>
<line x1="292.20" y1="1031.20" x2="296.20" y2="1022.00" stroke="#2a2a2a" stroke-width="0.9"/>
<line x1="311.20" y1="1031.20" x2="315.20" y2="1022.00" stroke="#2a2a2a" stroke-width="0.9"/>
<line x1="288.20" y1="1031.20" x2="326.25" y2="1031.20" stroke="#2a2a2a" stroke-width="0.9"/>
<line x1="300.70" y1="1040.40" x2="304.70" y2="1031.20" stroke="#2a2a2a" stroke-width="0.9"/>
<line x1="319.70" y1="1040.40" x2="323.70" y2="1031.20" stroke="#2a2a2a" stroke-width="0.9"/>
<rect x="288.2" y="985.20" width="38.05" height="55.20" fill="none" stroke="#2a2a2a" stroke-width="1.1"/>
<rect x="288.2" y="1040.40" width="38.05" height="20.85" fill="#c7c7c9"/>
<line x1="295.00" y1="1040.40" x2="295.00" y2="1050.83" stroke="#2a2a2a" stroke-width="0.9"/>
<line x1="312.30" y1="1040.40" x2="312.30" y2="1050.83" stroke="#2a2a2a" stroke-width="0.9"/>
<line x1="288.20" y1="1050.83" x2="326.25" y2="1050.83" stroke="#2a2a2a" stroke-width="0.9"/>
<line x1="303.30" y1="1050.83" x2="303.30" y2="1061.25" stroke="#2a2a2a" stroke-width="0.9"/>
<line x1="320.60" y1="1050.83" x2="320.60" y2="1061.25" stroke="#2a2a2a" stroke-width="0.9"/>
<rect x="288.2" y="1040.40" width="38.05" height="20.85" fill="none" stroke="#2a2a2a" stroke-width="1.1"/>
<line x1="298.00" y1="1049.00" x2="300.50" y2="1043.00" stroke="#2a2a2a" stroke-width="0.8"/>
<line x1="314.50" y1="1049.00" x2="317.00" y2="1043.00" stroke="#2a2a2a" stroke-width="0.8"/>
<line x1="305.50" y1="1059.00" x2="308.00" y2="1053.00" stroke="#2a2a2a" stroke-width="0.8"/>
<line x1="321.50" y1="1048.00" x2="324.00" y2="1042.00" stroke="#2a2a2a" stroke-width="0.8"/>
<rect x="288.2" y="1061.25" width="38.05" height="7.95" fill="#c7c7c9"/>
<line x1="292.20" y1="1069.20" x2="296.20" y2="1061.25" stroke="#2a2a2a" stroke-width="0.9"/>
<line x1="311.20" y1="1069.20" x2="315.20" y2="1061.25" stroke="#2a2a2a" stroke-width="0.9"/>
<rect x="288.2" y="1061.25" width="38.05" height="7.95" fill="none" stroke="#2a2a2a" stroke-width="1.1"/>
<rect x="288.2" y="1069.20" width="34.40" height="16.20" fill="#d6e683"/>
<line x1="292.20" y1="1077.30" x2="296.20" y2="1069.20" stroke="#2a2a2a" stroke-width="0.9"/>
<line x1="308.20" y1="1077.30" x2="312.20" y2="1069.20" stroke="#2a2a2a" stroke-width="0.9"/>
<line x1="299.40" y1="1073.25" x2="305.00" y2="1073.25" stroke="#2a2a2a" stroke-width="1.2"/>
<line x1="315.40" y1="1073.25" x2="321.00" y2="1073.25" stroke="#2a2a2a" stroke-width="1.2"/>
<line x1="288.20" y1="1077.30" x2="322.60" y2="1077.30" stroke="#2a2a2a" stroke-width="0.9"/>
<line x1="300.70" y1="1085.40" x2="304.70" y2="1077.30" stroke="#2a2a2a" stroke-width="0.9"/>
<line x1="316.70" y1="1085.40" x2="320.70" y2="1077.30" stroke="#2a2a2a" stroke-width="0.9"/>
<line x1="291.90" y1="1081.35" x2="297.50" y2="1081.35" stroke="#2a2a2a" stroke-width="1.2"/>
<line x1="307.90" y1="1081.35" x2="313.50" y2="1081.35" stroke="#2a2a2a" stroke-width="1.2"/>
<rect x="288.2" y="1069.20" width="34.40" height="16.20" fill="none" stroke="#2a2a2a" stroke-width="1.1"/>
<rect x="288.2" y="1086.5" width="10.6" height="4.9" fill="#1e1e1e"/>
<line x1="289.2" y1="1088.2" x2="298.2" y2="1088.2" stroke="#ddd" stroke-width="0.7" stroke-dasharray="1,1.3"/>
<line x1="289.2" y1="1090.2" x2="298.2" y2="1090.2" stroke="#ddd" stroke-width="0.7" stroke-dasharray="1,1.3"/>
<rect x="288.2" y="1091.7" width="38.10" height="3.3" fill="#e6e6e6" stroke="#2a2a2a" stroke-width="0.9"/>
<rect x="288.2" y="1095.20" width="37.80" height="5.20" fill="#f4b7c1"/>
<line x1="292.20" y1="1100.40" x2="296.20" y2="1095.20" stroke="#2a2a2a" stroke-width="0.9"/>
<line x1="311.20" y1="1100.40" x2="315.20" y2="1095.20" stroke="#2a2a2a" stroke-width="0.9"/>
<rect x="288.2" y="1095.20" width="37.80" height="5.20" fill="none" stroke="#2a2a2a" stroke-width="1.1"/>
<line x1="163.50" y1="7.30" x2="806.00" y2="7.30" stroke="#262626" stroke-width="1.4" />
<line x1="163.50" y1="7.30" x2="163.50" y2="1115.30" stroke="#262626" stroke-width="1.4" />
<line x1="806.50" y1="7.30" x2="806.50" y2="1115.30" stroke="#262626" stroke-width="1.3" />
<line x1="163.50" y1="1115.30" x2="806.00" y2="1115.30" stroke="#262626" stroke-width="1.4" />
<line x1="163.50" y1="103.80" x2="216.50" y2="103.80" stroke="#262626" stroke-width="1.3" />
<line x1="163.50" y1="155.20" x2="440.50" y2="155.20" stroke="#262626" stroke-width="1.5" />
<line x1="440.50" y1="129.50" x2="806.00" y2="129.50" stroke="#262626" stroke-width="1.5" />
<line x1="191.50" y1="103.80" x2="191.50" y2="1087.30" stroke="#262626" stroke-width="1.2" />
<line x1="216.50" y1="7.30" x2="216.50" y2="1115.30" stroke="#262626" stroke-width="1.2" />
<line x1="254.50" y1="7.30" x2="254.50" y2="1115.30" stroke="#262626" stroke-width="1.3" />
<line x1="288.20" y1="7.30" x2="288.20" y2="155.20" stroke="#262626" stroke-width="1.1" />
<line x1="336.20" y1="7.30" x2="336.20" y2="1100.00" stroke="#262626" stroke-width="1.3" />
<line x1="440.50" y1="7.30" x2="440.50" y2="1100.00" stroke="#262626" stroke-width="1.2" />
<text transform="translate(181.20,97.00) rotate(-90)" text-anchor="start" dominant-baseline="central" font-size="11.4" fill="#3a3a3a" letter-spacing="0.174" >Division&#160; by</text>
<text transform="translate(193.00,97.00) rotate(-90)" text-anchor="start" dominant-baseline="central" font-size="11.4" fill="#3a3a3a" letter-spacing="0.418" >biozones&#160; and</text>
<text transform="translate(204.60,97.00) rotate(-90)" text-anchor="start" dominant-baseline="central" font-size="11.4" fill="#3a3a3a" letter-spacing="0.39" >excursions</text>
<text transform="translate(177.40,151.70) rotate(-90)" text-anchor="start" dominant-baseline="central" font-size="12.3" fill="#3a3a3a" letter-spacing="0.167" >Series</text>
<text transform="translate(204.00,151.70) rotate(-90)" text-anchor="start" dominant-baseline="central" font-size="12.3" fill="#3a3a3a" letter-spacing="-0.235" >Stage</text>
<text transform="translate(235.80,82.27) rotate(-90)" text-anchor="middle" dominant-baseline="central" font-size="13.2" fill="#3a3a3a" letter-spacing="0.548" >Formation</text>
<text transform="translate(271.50,83.35) rotate(-90)" text-anchor="middle" dominant-baseline="central" font-size="14.5" fill="#3a3a3a" letter-spacing="0.497" >Thickness (m)</text>
<text transform="translate(307.20,83.32) rotate(-90)" text-anchor="middle" dominant-baseline="central" font-size="15" fill="#3a3a3a" letter-spacing="0.445" >Lithology</text>
<text x="356.70" y="86.60" text-anchor="start" font-size="14.6" fill="#3a3a3a" letter-spacing="0.479" >Fossils</text>
<text x="559.30" y="64.70" text-anchor="start" font-size="17.5" fill="#3a3a3a" letter-spacing="0.831" >Variation pattern</text>
<text transform="translate(534.2,111.6) scale(1.25,1)" font-size="17" fill="#3a3a3a">δ</text>
<text transform="translate(545.2,104.8) scale(0.8,1)" font-size="9" fill="#3a3a3a">13</text>
<text x="552.5" y="111.6" font-size="17" fill="#3a3a3a">C</text>
<path d="M586,100.9 Q578.8,105.3 586,109.7" fill="none" stroke="#3a3a3a" stroke-width="1.2"/>
<text transform="translate(595,110) scale(1.42,1)" font-size="15.5" fill="#3a3a3a">‰</text>
<text transform="translate(620.5,111.5) scale(1.3,1.2)" font-size="17" fill="#3a3a3a">,</text>
<text transform="translate(632,109.8) scale(1.36,1.05)" font-size="13.8" fill="#3a3a3a" letter-spacing="0.7" stroke="#3a3a3a" stroke-width="0.25">PDB</text>
<path d="M676.3,100.9 Q683.5,105.3 676.3,109.7" fill="none" stroke="#3a3a3a" stroke-width="1.2"/>
<text x="697.00" y="111.60" text-anchor="start" font-size="14.5" fill="#3a3a3a" letter-spacing="0.368" >XB curve</text>
<line x1="163.50" y1="234.20" x2="255.00" y2="234.20" stroke="#262626" stroke-width="1.5" />
<line x1="163.50" y1="847.00" x2="191.00" y2="847.00" stroke="#262626" stroke-width="1.3" />
<line x1="191.00" y1="847.00" x2="202.00" y2="847.00" stroke="#262626" stroke-width="0.6" />
<text x="205.50" y="851.00" text-anchor="middle" font-size="10" fill="#3a3a3a" letter-spacing="0" font-family="Liberation Serif">?</text>
<line x1="191.00" y1="947.80" x2="202.00" y2="947.80" stroke="#262626" stroke-width="0.6" />
<text x="205.50" y="951.50" text-anchor="middle" font-size="10" fill="#3a3a3a" letter-spacing="0" font-family="Liberation Serif">?</text>
<line x1="216.50" y1="571.80" x2="255.00" y2="571.80" stroke="#262626" stroke-width="1.5" />
<line x1="216.50" y1="756.30" x2="255.00" y2="756.30" stroke="#262626" stroke-width="1.5" />
<line x1="216.50" y1="847.00" x2="255.00" y2="847.00" stroke="#262626" stroke-width="1.5" />
<line x1="216.50" y1="929.20" x2="255.00" y2="929.20" stroke="#262626" stroke-width="1.5" />
<line x1="191.00" y1="1069.70" x2="255.00" y2="1069.70" stroke="#262626" stroke-width="1.3" />
<line x1="163.50" y1="1080.20" x2="191.00" y2="1080.20" stroke="#262626" stroke-width="1.3" />
<polyline points="172,1083.5 176,1085.5 176,1081.8" fill="none" stroke="#333" stroke-width="0.9"/>
<polyline points="163.5,1087.3 245.5,1087.3 251.7,1095.3 255,1095.3" fill="none" stroke="#262626" stroke-width="1.3"/>
<line x1="216.50" y1="1100.30" x2="255.00" y2="1100.30" stroke="#262626" stroke-width="1.3" />
<text transform="translate(180.50,567.29) rotate(-90)" text-anchor="middle" dominant-baseline="central" font-size="13.3" fill="#3a3a3a" letter-spacing="0.174" >Series&#160; 3 to Furongian</text>
<text transform="translate(203.80,573.62) rotate(-90)" text-anchor="middle" dominant-baseline="central" font-size="13.3" fill="#3a3a3a" letter-spacing="0.241" >impossible</text>
<text transform="translate(177.00,975.11) rotate(-90)" text-anchor="middle" dominant-baseline="central" font-size="13.3" fill="#3a3a3a" letter-spacing="0.216" >Series 2</text>
<text transform="translate(203.80,897.05) rotate(-90)" text-anchor="middle" dominant-baseline="central" font-size="13.3" fill="#3a3a3a" letter-spacing="0.109" >Stage 4</text>
<text transform="translate(202.80,1028.42) rotate(-90)" text-anchor="middle" dominant-baseline="central" font-size="13.3" fill="#3a3a3a" letter-spacing="0.442" >Stage 3</text>
<text x="192.80" y="1081.80" text-anchor="start" font-size="13" fill="#3a3a3a" letter-spacing="1.706" >1-2</text>
<text x="222.50" y="1083.60" text-anchor="start" font-size="13" fill="#3a3a3a" letter-spacing="-0.112" >YF</text>
<text x="228.00" y="1096.60" text-anchor="start" font-size="13" fill="#3a3a3a" letter-spacing="-1.252" >QF</text>
<text x="171.60" y="1107.20" text-anchor="start" font-size="13" fill="#3a3a3a" letter-spacing="0.007" >Ediaca.</text>
<text transform="translate(229.50,227.50) rotate(-90)" text-anchor="start" dominant-baseline="central" font-size="13.3" fill="#3a3a3a" letter-spacing="0.105" >Penglaiba</text>
<text transform="translate(242.50,227.50) rotate(-90)" text-anchor="start" dominant-baseline="central" font-size="13.3" fill="#3a3a3a" letter-spacing="0.329" >Formation</text>
<text transform="translate(235.80,424.18) rotate(-90)" text-anchor="middle" dominant-baseline="central" font-size="13.3" fill="#3a3a3a" letter-spacing="0.354" >Xiaqiulitag Formation</text>
<text transform="translate(229.50,691.20) rotate(-90)" text-anchor="start" dominant-baseline="central" font-size="13.3" fill="#3a3a3a" letter-spacing="0.216" >Awatag</text>
<text transform="translate(242.50,691.20) rotate(-90)" text-anchor="start" dominant-baseline="central" font-size="13.3" fill="#3a3a3a" letter-spacing="0.329" >Formation</text>
<text transform="translate(229.50,835.50) rotate(-90)" text-anchor="start" dominant-baseline="central" font-size="13.3" fill="#3a3a3a" letter-spacing="-0.118" >Shayilik</text>
<text transform="translate(242.50,835.50) rotate(-90)" text-anchor="start" dominant-baseline="central" font-size="13.3" fill="#3a3a3a" letter-spacing="0.329" >Formation</text>
<text transform="translate(229.50,926.50) rotate(-90)" text-anchor="start" dominant-baseline="central" font-size="13.3" fill="#3a3a3a" letter-spacing="0.315" >Wusonggeer</text>
<text transform="translate(242.50,926.50) rotate(-90)" text-anchor="start" dominant-baseline="central" font-size="13.3" fill="#3a3a3a" letter-spacing="0.329" >Formation</text>
<text transform="translate(229.50,1043.00) rotate(-90)" text-anchor="start" dominant-baseline="central" font-size="13.3" fill="#3a3a3a" letter-spacing="0.176" >Xiaoerbulak</text>
<text transform="translate(242.50,1043.00) rotate(-90)" text-anchor="start" dominant-baseline="central" font-size="13.3" fill="#3a3a3a" letter-spacing="0.329" >Formation</text>
<line x1="282.70" y1="1100.30" x2="288.20" y2="1100.30" stroke="#6a6040" stroke-width="0.9" />
<line x1="282.70" y1="1090.18" x2="288.20" y2="1090.18" stroke="#6a6040" stroke-width="0.9" />
<line x1="282.70" y1="1080.06" x2="288.20" y2="1080.06" stroke="#6a6040" stroke-width="0.9" />
<line x1="282.70" y1="1069.93" x2="288.20" y2="1069.93" stroke="#6a6040" stroke-width="0.9" />
<line x1="282.70" y1="1059.81" x2="288.20" y2="1059.81" stroke="#6a6040" stroke-width="0.9" />
<line x1="282.70" y1="1049.69" x2="288.20" y2="1049.69" stroke="#6a6040" stroke-width="0.9" />
<line x1="282.70" y1="1039.57" x2="288.20" y2="1039.57" stroke="#6a6040" stroke-width="0.9" />
<line x1="282.70" y1="1029.45" x2="288.20" y2="1029.45" stroke="#6a6040" stroke-width="0.9" />
<line x1="282.70" y1="1019.32" x2="288.20" y2="1019.32" stroke="#6a6040" stroke-width="0.9" />
<line x1="282.70" y1="1009.20" x2="288.20" y2="1009.20" stroke="#6a6040" stroke-width="0.9" />
<line x1="282.70" y1="999.08" x2="288.20" y2="999.08" stroke="#6a6040" stroke-width="0.9" />
<text x="281.80" y="1003.48" text-anchor="end" font-size="12.5" fill="#3a3a3a" letter-spacing="1.323" >100</text>
<line x1="282.70" y1="988.96" x2="288.20" y2="988.96" stroke="#6a6040" stroke-width="0.9" />
<line x1="282.70" y1="978.84" x2="288.20" y2="978.84" stroke="#6a6040" stroke-width="0.9" />
<line x1="282.70" y1="968.71" x2="288.20" y2="968.71" stroke="#6a6040" stroke-width="0.9" />
<line x1="282.70" y1="958.59" x2="288.20" y2="958.59" stroke="#6a6040" stroke-width="0.9" />
<line x1="282.70" y1="948.47" x2="288.20" y2="948.47" stroke="#6a6040" stroke-width="0.9" />
<line x1="282.70" y1="938.35" x2="288.20" y2="938.35" stroke="#6a6040" stroke-width="0.9" />
<line x1="282.70" y1="928.23" x2="288.20" y2="928.23" stroke="#6a6040" stroke-width="0.9" />
<line x1="282.70" y1="918.10" x2="288.20" y2="918.10" stroke="#6a6040" stroke-width="0.9" />
<line x1="282.70" y1="907.98" x2="288.20" y2="907.98" stroke="#6a6040" stroke-width="0.9" />
<line x1="282.70" y1="897.86" x2="288.20" y2="897.86" stroke="#6a6040" stroke-width="0.9" />
<text x="281.80" y="902.26" text-anchor="end" font-size="12.5" fill="#3a3a3a" letter-spacing="1.323" >200</text>
<line x1="282.70" y1="887.74" x2="288.20" y2="887.74" stroke="#6a6040" stroke-width="0.9" />
<line x1="282.70" y1="877.62" x2="288.20" y2="877.62" stroke="#6a6040" stroke-width="0.9" />
<line x1="282.70" y1="867.49" x2="288.20" y2="867.49" stroke="#6a6040" stroke-width="0.9" />
<line x1="282.70" y1="857.37" x2="288.20" y2="857.37" stroke="#6a6040" stroke-width="0.9" />
<line x1="282.70" y1="847.25" x2="288.20" y2="847.25" stroke="#6a6040" stroke-width="0.9" />
<line x1="282.70" y1="837.13" x2="288.20" y2="837.13" stroke="#6a6040" stroke-width="0.9" />
<line x1="282.70" y1="827.01" x2="288.20" y2="827.01" stroke="#6a6040" stroke-width="0.9" />
<line x1="282.70" y1="816.88" x2="288.20" y2="816.88" stroke="#6a6040" stroke-width="0.9" />
<line x1="282.70" y1="806.76" x2="288.20" y2="806.76" stroke="#6a6040" stroke-width="0.9" />
<line x1="282.70" y1="796.64" x2="288.20" y2="796.64" stroke="#6a6040" stroke-width="0.9" />
<text x="281.80" y="801.04" text-anchor="end" font-size="12.5" fill="#3a3a3a" letter-spacing="1.323" >300</text>
<line x1="282.70" y1="786.52" x2="288.20" y2="786.52" stroke="#6a6040" stroke-width="0.9" />
<line x1="282.70" y1="776.40" x2="288.20" y2="776.40" stroke="#6a6040" stroke-width="0.9" />
<line x1="282.70" y1="766.27" x2="288.20" y2="766.27" stroke="#6a6040" stroke-width="0.9" />
<line x1="282.70" y1="756.15" x2="288.20" y2="756.15" stroke="#6a6040" stroke-width="0.9" />
<line x1="282.70" y1="746.03" x2="288.20" y2="746.03" stroke="#6a6040" stroke-width="0.9" />
<line x1="282.70" y1="735.91" x2="288.20" y2="735.91" stroke="#6a6040" stroke-width="0.9" />
<line x1="282.70" y1="725.79" x2="288.20" y2="725.79" stroke="#6a6040" stroke-width="0.9" />
<line x1="282.70" y1="715.66" x2="288.20" y2="715.66" stroke="#6a6040" stroke-width="0.9" />
<line x1="282.70" y1="705.54" x2="288.20" y2="705.54" stroke="#6a6040" stroke-width="0.9" />
<line x1="282.70" y1="695.42" x2="288.20" y2="695.42" stroke="#6a6040" stroke-width="0.9" />
<text x="281.80" y="699.82" text-anchor="end" font-size="12.5" fill="#3a3a3a" letter-spacing="1.323" >400</text>
<line x1="282.70" y1="685.30" x2="288.20" y2="685.30" stroke="#6a6040" stroke-width="0.9" />
<line x1="282.70" y1="675.18" x2="288.20" y2="675.18" stroke="#6a6040" stroke-width="0.9" />
<line x1="282.70" y1="665.05" x2="288.20" y2="665.05" stroke="#6a6040" stroke-width="0.9" />
<line x1="282.70" y1="654.93" x2="288.20" y2="654.93" stroke="#6a6040" stroke-width="0.9" />
<line x1="282.70" y1="644.81" x2="288.20" y2="644.81" stroke="#6a6040" stroke-width="0.9" />
<line x1="282.70" y1="634.69" x2="288.20" y2="634.69" stroke="#6a6040" stroke-width="0.9" />
<line x1="282.70" y1="624.57" x2="288.20" y2="624.57" stroke="#6a6040" stroke-width="0.9" />
<line x1="282.70" y1="614.44" x2="288.20" y2="614.44" stroke="#6a6040" stroke-width="0.9" />
<line x1="282.70" y1="604.32" x2="288.20" y2="604.32" stroke="#6a6040" stroke-width="0.9" />
<line x1="282.70" y1="594.20" x2="288.20" y2="594.20" stroke="#6a6040" stroke-width="0.9" />
<text x="281.80" y="598.60" text-anchor="end" font-size="12.5" fill="#3a3a3a" letter-spacing="1.323" >500</text>
<line x1="282.70" y1="584.08" x2="288.20" y2="584.08" stroke="#6a6040" stroke-width="0.9" />
<line x1="282.70" y1="573.96" x2="288.20" y2="573.96" stroke="#6a6040" stroke-width="0.9" />
<line x1="282.70" y1="563.83" x2="288.20" y2="563.83" stroke="#6a6040" stroke-width="0.9" />
<line x1="282.70" y1="553.71" x2="288.20" y2="553.71" stroke="#6a6040" stroke-width="0.9" />
<line x1="282.70" y1="543.59" x2="288.20" y2="543.59" stroke="#6a6040" stroke-width="0.9" />
<line x1="282.70" y1="533.47" x2="288.20" y2="533.47" stroke="#6a6040" stroke-width="0.9" />
<line x1="282.70" y1="523.35" x2="288.20" y2="523.35" stroke="#6a6040" stroke-width="0.9" />
<line x1="282.70" y1="513.22" x2="288.20" y2="513.22" stroke="#6a6040" stroke-width="0.9" />
<line x1="282.70" y1="503.10" x2="288.20" y2="503.10" stroke="#6a6040" stroke-width="0.9" />
<line x1="282.70" y1="492.98" x2="288.20" y2="492.98" stroke="#6a6040" stroke-width="0.9" />
<text x="281.80" y="497.38" text-anchor="end" font-size="12.5" fill="#3a3a3a" letter-spacing="1.323" >600</text>
<line x1="282.70" y1="482.86" x2="288.20" y2="482.86" stroke="#6a6040" stroke-width="0.9" />
<line x1="282.70" y1="472.74" x2="288.20" y2="472.74" stroke="#6a6040" stroke-width="0.9" />
<line x1="282.70" y1="462.61" x2="288.20" y2="462.61" stroke="#6a6040" stroke-width="0.9" />
<line x1="282.70" y1="452.49" x2="288.20" y2="452.49" stroke="#6a6040" stroke-width="0.9" />
<line x1="282.70" y1="442.37" x2="288.20" y2="442.37" stroke="#6a6040" stroke-width="0.9" />
<line x1="282.70" y1="432.25" x2="288.20" y2="432.25" stroke="#6a6040" stroke-width="0.9" />
<line x1="282.70" y1="422.13" x2="288.20" y2="422.13" stroke="#6a6040" stroke-width="0.9" />
<line x1="282.70" y1="412.00" x2="288.20" y2="412.00" stroke="#6a6040" stroke-width="0.9" />
<line x1="282.70" y1="401.88" x2="288.20" y2="401.88" stroke="#6a6040" stroke-width="0.9" />
<line x1="282.70" y1="391.76" x2="288.20" y2="391.76" stroke="#6a6040" stroke-width="0.9" />
<text x="281.80" y="396.16" text-anchor="end" font-size="12.5" fill="#3a3a3a" letter-spacing="1.323" >700</text>
<line x1="282.70" y1="381.64" x2="288.20" y2="381.64" stroke="#6a6040" stroke-width="0.9" />
<line x1="282.70" y1="371.52" x2="288.20" y2="371.52" stroke="#6a6040" stroke-width="0.9" />
<line x1="282.70" y1="361.39" x2="288.20" y2="361.39" stroke="#6a6040" stroke-width="0.9" />
<line x1="282.70" y1="351.27" x2="288.20" y2="351.27" stroke="#6a6040" stroke-width="0.9" />
<line x1="282.70" y1="341.15" x2="288.20" y2="341.15" stroke="#6a6040" stroke-width="0.9" />
<line x1="282.70" y1="331.03" x2="288.20" y2="331.03" stroke="#6a6040" stroke-width="0.9" />
<line x1="282.70" y1="320.91" x2="288.20" y2="320.91" stroke="#6a6040" stroke-width="0.9" />
<line x1="282.70" y1="310.78" x2="288.20" y2="310.78" stroke="#6a6040" stroke-width="0.9" />
<line x1="282.70" y1="300.66" x2="288.20" y2="300.66" stroke="#6a6040" stroke-width="0.9" />
<line x1="282.70" y1="290.54" x2="288.20" y2="290.54" stroke="#6a6040" stroke-width="0.9" />
<text x="281.80" y="294.94" text-anchor="end" font-size="12.5" fill="#3a3a3a" letter-spacing="1.323" >800</text>
<line x1="282.70" y1="280.42" x2="288.20" y2="280.42" stroke="#6a6040" stroke-width="0.9" />
<line x1="282.70" y1="270.30" x2="288.20" y2="270.30" stroke="#6a6040" stroke-width="0.9" />
<line x1="282.70" y1="260.17" x2="288.20" y2="260.17" stroke="#6a6040" stroke-width="0.9" />
<line x1="282.70" y1="250.05" x2="288.20" y2="250.05" stroke="#6a6040" stroke-width="0.9" />
<line x1="282.70" y1="239.93" x2="288.20" y2="239.93" stroke="#6a6040" stroke-width="0.9" />
<line x1="282.70" y1="229.81" x2="288.20" y2="229.81" stroke="#6a6040" stroke-width="0.9" />
<line x1="282.70" y1="219.69" x2="288.20" y2="219.69" stroke="#6a6040" stroke-width="0.9" />
<line x1="282.70" y1="209.56" x2="288.20" y2="209.56" stroke="#6a6040" stroke-width="0.9" />
<line x1="282.70" y1="199.44" x2="288.20" y2="199.44" stroke="#6a6040" stroke-width="0.9" />
<line x1="282.70" y1="189.32" x2="288.20" y2="189.32" stroke="#6a6040" stroke-width="0.9" />
<text x="281.80" y="193.72" text-anchor="end" font-size="12.5" fill="#3a3a3a" letter-spacing="1.323" >900</text>
<line x1="282.70" y1="179.20" x2="288.20" y2="179.20" stroke="#6a6040" stroke-width="0.9" />
<line x1="282.70" y1="169.08" x2="288.20" y2="169.08" stroke="#6a6040" stroke-width="0.9" />
<line x1="282.70" y1="158.95" x2="288.20" y2="158.95" stroke="#6a6040" stroke-width="0.9" />
<line x1="287.20" y1="156.00" x2="287.20" y2="1100.30" stroke="#d9b27c" stroke-width="1.4" />
<line x1="283.80" y1="1100.30" x2="333.30" y2="1100.30" stroke="#262626" stroke-width="1.0" />
<text x="258.50" y="1107.20" text-anchor="start" font-size="13" fill="#3a3a3a" letter-spacing="-1.085" >0 m</text>
<line x1="336.00" y1="264.80" x2="440.50" y2="264.80" stroke="#262626" stroke-width="1.4" />
<line x1="336.00" y1="323.40" x2="440.50" y2="323.40" stroke="#262626" stroke-width="1.4" />
<polyline points="440.5,751.7 341.9,751.7 341.9,813.5 336,813.5" fill="none" stroke="#262626" stroke-width="1.2"/>
<line x1="336.00" y1="833.10" x2="440.50" y2="833.10" stroke="#262626" stroke-width="1.4" />
<line x1="336.00" y1="872.70" x2="440.50" y2="872.70" stroke="#262626" stroke-width="1.4" />
<line x1="336.00" y1="915.00" x2="440.50" y2="915.00" stroke="#262626" stroke-width="1.4" />
<line x1="336.00" y1="944.20" x2="440.50" y2="944.20" stroke="#262626" stroke-width="1.4" />
<line x1="336.00" y1="1011.25" x2="440.50" y2="1011.25" stroke="#262626" stroke-width="1.4" />
<line x1="336.00" y1="1035.20" x2="440.50" y2="1035.20" stroke="#262626" stroke-width="1.4" />
<line x1="336.00" y1="1067.50" x2="440.50" y2="1067.50" stroke="#262626" stroke-width="1.4" />
<line x1="336.00" y1="1099.90" x2="440.50" y2="1099.90" stroke="#262626" stroke-width="1.4" />
<text x="344.40" y="277.40" text-anchor="start" font-size="12.8" fill="#3a3a3a" letter-spacing="0.5" font-style="italic">Teridontus</text>
<text x="350.20" y="291.00" text-anchor="start" font-size="12.8" fill="#3a3a3a" letter-spacing="0.476" font-style="italic">nakamurai,</text>
<text x="344.40" y="305.00" text-anchor="start" font-size="12.8" fill="#3a3a3a" letter-spacing="0.27" font-style="italic">T. erctus,</text>
<text x="344.40" y="319.30" text-anchor="start" font-size="12.8" fill="#3a3a3a" letter-spacing="0.405" font-style="italic">T. reclinatus</text>
<text x="344.90" y="778.60" text-anchor="start" font-size="12.8" fill="#3a3a3a" letter-spacing="0.637" font-style="italic">Kunmingaspis</text>
<text x="352.30" y="792.60" text-anchor="start" font-size="12.8" fill="#3a3a3a" letter-spacing="0.56" font-style="italic">kalpingensis</text>
<text x="344.90" y="806.80" text-anchor="start" font-size="12.8" fill="#3a3a3a" letter-spacing="0.607" font-style="italic">Chittidilla</text>
<text x="352.30" y="821.00" text-anchor="start" font-size="12.8" fill="#3a3a3a" letter-spacing="0.56" font-style="italic">nanjiangensis</text>
<text x="341.5" y="884.8" font-size="12.8" fill="#3a3a3a" letter-spacing="0.45"><tspan font-style="italic">Redlichia</tspan> sp.,</text>
<text x="341.50" y="898.50" text-anchor="start" font-size="12.8" fill="#3a3a3a" letter-spacing="0.689" font-style="italic">Paokannia</text>
<text x="352.00" y="912.50" text-anchor="start" font-size="12.8" fill="#3a3a3a" letter-spacing="0.842" font-style="italic">anguleta</text>
<text x="346.00" y="967.20" text-anchor="start" font-size="12.8" fill="#3a3a3a" letter-spacing="0.519" font-style="italic">Kepingaspis,</text>
<text x="343.50" y="981.60" text-anchor="start" font-size="12.8" fill="#3a3a3a" letter-spacing="0.453" font-style="italic">Tianshano-</text>
<text x="367.50" y="995.60" text-anchor="start" font-size="12.8" fill="#3a3a3a" letter-spacing="0.609" font-style="italic">cephalus</text>
<text x="341.50" y="1026.80" text-anchor="start" font-size="12.8" fill="#3a3a3a" letter-spacing="0.53" font-style="italic">Ushbaspis</text>
<text x="341.50" y="1055.00" text-anchor="start" font-size="12.8" fill="#3a3a3a" letter-spacing="0.508" font-style="italic">Shizhudiscus</text>
<polyline points="710.5,163.7 709.8,164.8 704.5,166.0 710.5,167.1 712.0,168.2 707.2,169.7 706.8,171.2 705.8,172.3 709.0,173.4 703.6,174.7 694.9,176.0 712.0,176.9 726.8,177.8 720.6,179.3 712.7,180.8 715.1,182.3 719.4,183.8 719.6,185.3 718.7,186.8 716.6,187.9 713.5,189.0 706.8,190.1 699.3,191.2 707.3,191.9 718.7,192.7 716.5,193.8 715.0,195.0 712.6,196.1 711.2,197.2 716.4,197.9 719.4,198.7 724.5,199.4 724.6,200.1 724.6,201.6 720.1,203.1 723.3,204.2 726.1,205.4 724.3,206.9 723.1,208.3 719.0,209.8 717.2,211.3 718.6,212.4 724.6,213.5 717.8,214.7 715.7,215.8 719.6,216.5 723.9,217.2 716.6,218.3 711.2,219.5 714.4,221.0 718.7,222.5 715.1,223.9 707.5,225.4 710.2,226.6 712.7,227.7 708.2,228.4 703.0,229.1 710.2,229.7 720.1,230.3 714.8,231.8 714.2,233.2 717.4,234.1 722.4,235.1 721.3,236.6 723.9,238.1" fill="none" stroke="#b8407a" stroke-width="1.2" stroke-linejoin="round"/>
<polyline points="723.9,238.1 727.7,237.3 723.4,239.2 721.8,241.0 728.0,242.9 733.7,244.8 728.6,246.2 724.8,247.7 730.5,248.8 735.2,250.0 729.9,252.6 723.3,255.2 724.1,257.0 729.2,258.9 722.3,260.8 720.3,262.6 726.4,264.9 729.2,267.1 724.3,268.6 721.8,270.0 723.4,272.2 727.7,274.5 726.1,276.0 719.6,277.5 722.8,278.9 726.2,280.4 725.3,282.6 721.0,284.9 725.7,287.1 730.7,289.4 733.6,290.5 735.2,291.6 726.0,293.1 720.3,294.6 718.7,295.7 715.8,296.8" fill="none" stroke="#c73c4a" stroke-width="1.2" stroke-linejoin="round"/>
<polyline points="715.8,296.8 713.1,296.9 713.6,298.6 714.9,300.2 720.0,301.9 716.8,303.4 712.6,304.8 712.5,306.3 710.7,308.4 714.3,310.4 716.3,312.5 716.7,313.1 713.4,313.8 708.8,314.4 712.7,316.3 711.0,318.1 715.0,320.0 714.0,321.3 711.0,322.5 711.3,323.8 711.1,325.0 712.7,326.3 717.5,327.5 713.4,328.3 716.4,329.2 711.3,330.0 715.7,330.8 717.6,331.7 717.5,332.5 716.7,333.3 709.6,334.2 708.8,335.0 709.5,336.7 713.8,338.3 715.0,340.0 714.1,341.5 712.5,342.9 707.5,344.4 712.7,346.3 709.6,348.1 715.0,350.0 713.7,352.5 712.1,355.0 708.8,357.5 710.5,359.2 709.9,360.8 713.8,362.5 714.4,365.0 712.6,367.5 716.3,370.0 716.0,372.5 712.2,375.0 706.3,377.5 710.0,378.3 711.6,379.2 716.3,380.0 716.7,380.8 711.8,381.7 708.8,382.5 714.0,383.3 716.2,384.2 716.3,385.0 712.2,385.8 707.4,386.7 703.8,387.5 707.4,388.3 709.1,389.2 712.5,390.0 709.7,392.1 710.3,394.2 711.3,396.3 711.4,398.6 703.9,400.8 705.0,403.1 704.8,404.6 711.8,406.0 713.8,407.5 714.8,408.5 719.0,409.6 721.3,410.6 717.3,411.4 712.7,412.3 710.0,413.1 716.0,414.2 712.9,415.2 717.5,416.3 714.0,418.4 709.6,420.4 708.8,422.5 711.8,423.8 711.4,425.0 715.0,426.3 712.3,427.5 713.4,428.8 710.0,430.0 710.4,432.1 713.7,434.2 715.0,436.3 717.7,436.9 712.0,437.4 714.7,438.0 710.7,441.1 711.0,444.2 712.0,447.3 714.8,448.6 714.6,450.0 714.7,451.3 709.7,453.3 707.3,455.3 705.3,457.3 706.2,457.8 711.3,458.2 714.7,458.7 708.8,459.8 710.7,460.9 706.7,462.0 711.7,463.3 714.3,464.7 713.3,466.0 714.1,468.2 714.8,470.5 710.7,472.7 708.2,474.0 711.0,475.4 713.3,476.7 715.2,478.0 712.6,479.4 709.3,480.7 710.0,482.2 715.1,483.8 713.3,485.3 709.3,486.9 705.8,488.4 698.7,490.0 701.3,490.9 704.5,491.8 710.7,492.7 708.5,494.0 704.6,495.4 705.3,496.7 707.1,498.5 713.9,500.2 713.3,502.0 710.8,502.9 707.2,503.8 709.3,504.7 707.4,506.0 709.7,507.4 713.3,508.7 712.6,510.5 707.0,512.2 705.3,514.0 703.0,515.8 700.7,517.5 702.7,519.3 707.4,520.6 704.8,522.0 706.7,523.3 704.2,525.1 702.7,526.9 705.3,528.7 704.9,529.6 708.3,530.4 713.3,531.3 705.2,533.0 692.2,534.7 685.3,536.4 694.1,537.2 709.2,537.9 721.3,538.7 715.1,539.8 715.9,540.9 708.0,542.0 710.7,543.8 718.9,545.5 724.0,547.3 726.3,548.6 724.2,550.0 725.3,551.3 728.0,553.1 723.8,554.9 723.3,556.7 723.5,556.9 726.7,557.1 729.3,557.3 722.1,558.9 720.7,560.4 717.3,562.0 713.3,563.6 715.6,565.1 710.7,566.7 717.9,566.9 720.4,567.1 725.3,567.3 720.5,568.6 720.5,570.0 720.7,571.3 712.9,572.2 706.7,573.1 702.7,574.0 701.9,574.9 707.5,575.8 706.0,576.7 709.1,577.4 714.0,578.0 722.7,578.7 731.5,579.1 734.7,579.6 740.0,580.0 739.9,581.1 732.2,582.2 729.3,583.3" fill="none" stroke="#8f5a3e" stroke-width="0.9" stroke-linejoin="round"/>
<polyline points="729.3,583.3 728.2,585.0 705.8,589.3 684.2,590.9 678.0,593.4 682.3,595.5 708.3,596.7 713.3,601.7 705.8,606.0 681.7,607.9 717.0,609.1 725.0,610.4 700.9,612.5 705.2,614.7 720.7,616.6 733.1,620.9 741.8,625.8 713.3,627.7 731.9,633.3 725.7,637.6 754.2,637.6 746.7,640.7 719.5,642.6 734.3,644.4 752.3,646.7 738.1,650.0 746.7,653.1 731.9,654.3 749.8,656.6 717.0,656.8 720.7,660.3 712.0,664.9 682.3,666.7 731.9,669.5 702.1,671.4 712.0,673.6 679.8,676.4 714.5,678.0 692.2,679.9 683.5,681.8 702.1,683.4 735.6,685.1 709.6,686.7 726.9,689.2 718.2,691.1 723.2,692.9 730.6,696.0 707.1,701.0 725.7,702.5 735.6,703.7 717.0,707.2 722.0,709.4 712.0,711.5 725.7,713.4 734.3,714.4 695.9,720.8 709.6,723.0 749.2,726.4 726.9,728.2 705.8,731.0 720.7,731.3 745.5,733.8 739.3,736.9 744.3,741.2 740.5,743.1 726.9,745.6" fill="none" stroke="#8c7a52" stroke-width="0.7" stroke-linejoin="round"/>
<polyline points="726.9,745.6 702.1,747.4 733.8,748.9 709.0,750.3 701.1,752.3 715.0,754.3 699.1,755.9 720.9,758.8 714.0,761.8 719.9,764.8 714.0,766.2 728.9,769.3 702.1,770.7 707.1,772.7 728.9,774.7 720.9,775.7 717.0,779.7 693.2,781.6 707.1,782.6 736.8,782.6 702.1,785.2 722.9,785.6 715.0,789.6 697.1,792.5 725.9,793.1 738.8,794.5 697.1,795.9 632.7,797.1 677.3,797.5 691.2,799.5 689.2,803.0 667.4,804.4 686.2,807.8 710.0,807.0 616.9,809.0 671.4,811.4 732.8,815.0 672.4,817.3 681.3,820.3 617.8,821.9 453.6,828.5 474.2,827.3 490.8,826.0 499.5,829.2 507.4,825.3 680.3,821.1" fill="none" stroke="#7f8e80" stroke-width="0.7" stroke-linejoin="round"/>
<polyline points="680.3,821.1 687.0,835.2 700.0,833.4 712.6,839.6 723.1,837.4 727.1,841.2 765.1,841.2 723.8,843.4 691.5,844.1 716.0,847.9 702.6,855.7 697.0,859.7 690.3,863.5 698.1,865.7 699.3,869.1 691.5,874.7 695.9,879.1 719.3,886.9 700.4,891.4 708.2,892.5 690.3,895.4 712.6,896.3 722.2,897.6 727.6,898.5 736.1,900.3 727.1,903.0 731.6,908.1 720.5,916.4" fill="none" stroke="#8a8a5a" stroke-width="0.7" stroke-linejoin="round"/>
<polyline points="720.5,916.4 748.2,916.8 739.6,920.2 754.4,922.4 761.9,923.0 766.8,923.6 770.5,925.5 776.7,926.1 774.3,928.6 766.8,932.3 759.4,935.4 781.7,937.5 774.3,939.7 752.6,940.7 776.7,955.2 781.7,955.6 769.3,958.9 776.7,962.7 782.3,966.4 770.5,972.0 764.4,977.5 764.4,981.3 779.2,985.6 771.8,989.3 779.2,992.4 769.3,995.5 782.9,998.6 774.3,1002.3 782.9,1005.0 776.7,1006.8 781.7,1009.3 765.6,1011.8 776.7,1018.0 779.2,1021.1 786.7,1026.0 781.7,1029.1 774.3,1036.6 781.7,1041.5 774.3,1045.8 759.4,1050.8 775.5,1064.4 736.5,1066.9 760.6,1068.2 764.4,1070.6 753.2,1073.1 740.8,1075.0 718.5,1076.8 729.7,1075.0 742.0,1078.1 744.5,1081.2 735.8,1080.5 735.8,1085.5" fill="none" stroke="#8a4a30" stroke-width="1.1" stroke-linejoin="round"/>
<polyline points="735.8,1085.5 614.7,1086.2 699.0,1084.6 732.7,1084.2" fill="none" stroke="#3a5040" stroke-width="2.0" stroke-linejoin="round"/>
<polyline points="732.7,1088.5 592.9,1089.3 656.3,1090.1 668.2,1088.2 724.3,1091.1" fill="none" stroke="#3a5040" stroke-width="1.1" stroke-linejoin="round"/>
<polyline points="724.3,1091.1 756.9,1092.9 766.8,1094.8 774.3,1096.7" fill="none" stroke="#c84040" stroke-width="1.1" stroke-linejoin="round"/>
<polygon points="756.9,1091.1 758.7,1092.9 756.9,1094.7 755.1,1092.9" fill="#e05050" stroke="#c03030" stroke-width="0.8"/>
<polygon points="766.8,1093.0 768.6,1094.8 766.8,1096.6 765.0,1094.8" fill="#e05050" stroke="#c03030" stroke-width="0.8"/>
<polygon points="774.3,1094.9 776.1,1096.7 774.3,1098.5 772.5,1096.7" fill="#e05050" stroke="#c03030" stroke-width="0.8"/>
<polygon points="710.5,162.4 711.8,163.7 710.5,165.0 709.2,163.7" fill="#d070a0" stroke="#b03a70" stroke-width="0.6"/>
<polygon points="709.8,163.5 711.1,164.8 709.8,166.2 708.5,164.8" fill="#d070a0" stroke="#b03a70" stroke-width="0.6"/>
<polygon points="704.5,164.7 705.8,166.0 704.5,167.3 703.2,166.0" fill="#d070a0" stroke="#b03a70" stroke-width="0.6"/>
<polygon points="710.5,165.8 711.8,167.1 710.5,168.4 709.2,167.1" fill="#d070a0" stroke="#b03a70" stroke-width="0.6"/>
<polygon points="712.0,166.9 713.3,168.2 712.0,169.5 710.7,168.2" fill="#d070a0" stroke="#b03a70" stroke-width="0.6"/>
<polygon points="707.2,168.4 708.5,169.7 707.2,171.0 705.9,169.7" fill="#d070a0" stroke="#b03a70" stroke-width="0.6"/>
<polygon points="706.8,169.9 708.1,171.2 706.8,172.5 705.5,171.2" fill="#d070a0" stroke="#b03a70" stroke-width="0.6"/>
<polygon points="705.8,171.0 707.1,172.3 705.8,173.6 704.5,172.3" fill="#d070a0" stroke="#b03a70" stroke-width="0.6"/>
<polygon points="709.0,172.1 710.3,173.4 709.0,174.7 707.7,173.4" fill="#d070a0" stroke="#b03a70" stroke-width="0.6"/>
<polygon points="703.6,173.4 704.9,174.7 703.6,176.0 702.3,174.7" fill="#d070a0" stroke="#b03a70" stroke-width="0.6"/>
<polygon points="694.9,174.7 696.2,176.0 694.9,177.3 693.6,176.0" fill="#d070a0" stroke="#b03a70" stroke-width="0.6"/>
<polygon points="712.0,175.6 713.3,176.9 712.0,178.2 710.7,176.9" fill="#d070a0" stroke="#b03a70" stroke-width="0.6"/>
<polygon points="726.8,176.5 728.1,177.8 726.8,179.1 725.5,177.8" fill="#d070a0" stroke="#b03a70" stroke-width="0.6"/>
<polygon points="720.6,178.0 721.9,179.3 720.6,180.6 719.3,179.3" fill="#d070a0" stroke="#b03a70" stroke-width="0.6"/>
<polygon points="712.7,179.5 714.0,180.8 712.7,182.1 711.4,180.8" fill="#d070a0" stroke="#b03a70" stroke-width="0.6"/>
<polygon points="715.1,181.0 716.4,182.3 715.1,183.6 713.8,182.3" fill="#d070a0" stroke="#b03a70" stroke-width="0.6"/>
<polygon points="719.4,182.5 720.7,183.8 719.4,185.1 718.1,183.8" fill="#d070a0" stroke="#b03a70" stroke-width="0.6"/>
<polygon points="719.6,184.0 720.9,185.3 719.6,186.6 718.3,185.3" fill="#d070a0" stroke="#b03a70" stroke-width="0.6"/>
<polygon points="718.7,185.5 720.0,186.8 718.7,188.1 717.4,186.8" fill="#d070a0" stroke="#b03a70" stroke-width="0.6"/>
<polygon points="716.6,186.6 717.9,187.9 716.6,189.2 715.3,187.9" fill="#d070a0" stroke="#b03a70" stroke-width="0.6"/>
<polygon points="713.5,187.7 714.8,189.0 713.5,190.3 712.2,189.0" fill="#d070a0" stroke="#b03a70" stroke-width="0.6"/>
<polygon points="706.8,188.8 708.1,190.1 706.8,191.4 705.5,190.1" fill="#d070a0" stroke="#b03a70" stroke-width="0.6"/>
<polygon points="699.3,189.9 700.6,191.2 699.3,192.5 698.0,191.2" fill="#d070a0" stroke="#b03a70" stroke-width="0.6"/>
<polygon points="707.3,190.6 708.6,191.9 707.3,193.2 706.0,191.9" fill="#d070a0" stroke="#b03a70" stroke-width="0.6"/>
<polygon points="718.7,191.4 720.0,192.7 718.7,194.0 717.4,192.7" fill="#d070a0" stroke="#b03a70" stroke-width="0.6"/>
<polygon points="716.5,192.5 717.8,193.8 716.5,195.2 715.2,193.8" fill="#d070a0" stroke="#b03a70" stroke-width="0.6"/>
<polygon points="715.0,193.7 716.3,195.0 715.0,196.3 713.7,195.0" fill="#d070a0" stroke="#b03a70" stroke-width="0.6"/>
<polygon points="712.6,194.8 713.9,196.1 712.6,197.4 711.3,196.1" fill="#d070a0" stroke="#b03a70" stroke-width="0.6"/>
<polygon points="711.2,195.9 712.5,197.2 711.2,198.5 709.9,197.2" fill="#d070a0" stroke="#b03a70" stroke-width="0.6"/>
<polygon points="716.4,196.6 717.7,197.9 716.4,199.2 715.1,197.9" fill="#d070a0" stroke="#b03a70" stroke-width="0.6"/>
<polygon points="719.4,197.4 720.7,198.7 719.4,200.0 718.1,198.7" fill="#d070a0" stroke="#b03a70" stroke-width="0.6"/>
<polygon points="724.5,198.1 725.8,199.4 724.5,200.7 723.2,199.4" fill="#d070a0" stroke="#b03a70" stroke-width="0.6"/>
<polygon points="724.6,198.8 725.9,200.1 724.6,201.4 723.3,200.1" fill="#d070a0" stroke="#b03a70" stroke-width="0.6"/>
<polygon points="724.6,200.3 725.9,201.6 724.6,202.9 723.3,201.6" fill="#d070a0" stroke="#b03a70" stroke-width="0.6"/>
<polygon points="720.1,201.8 721.4,203.1 720.1,204.4 718.8,203.1" fill="#d070a0" stroke="#b03a70" stroke-width="0.6"/>
<polygon points="723.3,202.9 724.6,204.2 723.3,205.6 722.0,204.2" fill="#d070a0" stroke="#b03a70" stroke-width="0.6"/>
<polygon points="726.1,204.1 727.4,205.4 726.1,206.7 724.8,205.4" fill="#d070a0" stroke="#b03a70" stroke-width="0.6"/>
<polygon points="724.3,205.6 725.6,206.9 724.3,208.2 723.0,206.9" fill="#d070a0" stroke="#b03a70" stroke-width="0.6"/>
<polygon points="723.1,207.0 724.4,208.3 723.1,209.6 721.8,208.3" fill="#d070a0" stroke="#b03a70" stroke-width="0.6"/>
<polygon points="719.0,208.5 720.3,209.8 719.0,211.1 717.7,209.8" fill="#d070a0" stroke="#b03a70" stroke-width="0.6"/>
<polygon points="717.2,210.0 718.5,211.3 717.2,212.6 715.9,211.3" fill="#d070a0" stroke="#b03a70" stroke-width="0.6"/>
<polygon points="718.6,211.1 719.9,212.4 718.6,213.7 717.3,212.4" fill="#d070a0" stroke="#b03a70" stroke-width="0.6"/>
<polygon points="724.6,212.2 725.9,213.5 724.6,214.8 723.3,213.5" fill="#d070a0" stroke="#b03a70" stroke-width="0.6"/>
<polygon points="717.8,213.3 719.1,214.7 717.8,216.0 716.5,214.7" fill="#d070a0" stroke="#b03a70" stroke-width="0.6"/>
<polygon points="715.7,214.5 717.0,215.8 715.7,217.1 714.4,215.8" fill="#d070a0" stroke="#b03a70" stroke-width="0.6"/>
<polygon points="719.6,215.2 720.9,216.5 719.6,217.8 718.3,216.5" fill="#d070a0" stroke="#b03a70" stroke-width="0.6"/>
<polygon points="723.9,215.9 725.2,217.2 723.9,218.5 722.6,217.2" fill="#d070a0" stroke="#b03a70" stroke-width="0.6"/>
<polygon points="716.6,217.0 717.9,218.3 716.6,219.7 715.3,218.3" fill="#d070a0" stroke="#b03a70" stroke-width="0.6"/>
<polygon points="711.2,218.2 712.5,219.5 711.2,220.8 709.9,219.5" fill="#d070a0" stroke="#b03a70" stroke-width="0.6"/>
<polygon points="714.4,219.7 715.7,221.0 714.4,222.3 713.1,221.0" fill="#d070a0" stroke="#b03a70" stroke-width="0.6"/>
<polygon points="718.7,221.2 720.0,222.5 718.7,223.8 717.4,222.5" fill="#d070a0" stroke="#b03a70" stroke-width="0.6"/>
<polygon points="715.1,222.6 716.4,223.9 715.1,225.2 713.8,223.9" fill="#d070a0" stroke="#b03a70" stroke-width="0.6"/>
<polygon points="707.5,224.1 708.8,225.4 707.5,226.7 706.2,225.4" fill="#d070a0" stroke="#b03a70" stroke-width="0.6"/>
<polygon points="710.2,225.2 711.5,226.6 710.2,227.9 708.9,226.6" fill="#d070a0" stroke="#b03a70" stroke-width="0.6"/>
<polygon points="712.7,226.4 714.0,227.7 712.7,229.0 711.4,227.7" fill="#d070a0" stroke="#b03a70" stroke-width="0.6"/>
<polygon points="708.2,227.1 709.5,228.4 708.2,229.7 706.9,228.4" fill="#d070a0" stroke="#b03a70" stroke-width="0.6"/>
<polygon points="703.0,227.8 704.3,229.1 703.0,230.4 701.7,229.1" fill="#d070a0" stroke="#b03a70" stroke-width="0.6"/>
<polygon points="710.2,228.4 711.5,229.7 710.2,231.0 708.9,229.7" fill="#d070a0" stroke="#b03a70" stroke-width="0.6"/>
<polygon points="720.1,229.0 721.4,230.3 720.1,231.6 718.8,230.3" fill="#d070a0" stroke="#b03a70" stroke-width="0.6"/>
<polygon points="714.8,230.4 716.1,231.8 714.8,233.1 713.5,231.8" fill="#d070a0" stroke="#b03a70" stroke-width="0.6"/>
<polygon points="714.2,231.9 715.5,233.2 714.2,234.5 712.9,233.2" fill="#d070a0" stroke="#b03a70" stroke-width="0.6"/>
<polygon points="717.4,232.8 718.7,234.1 717.4,235.4 716.1,234.1" fill="#d070a0" stroke="#b03a70" stroke-width="0.6"/>
<polygon points="722.4,233.8 723.7,235.1 722.4,236.4 721.1,235.1" fill="#d070a0" stroke="#b03a70" stroke-width="0.6"/>
<polygon points="721.3,235.3 722.6,236.6 721.3,237.9 720.0,236.6" fill="#d070a0" stroke="#b03a70" stroke-width="0.6"/>
<polygon points="723.9,236.8 725.2,238.1 723.9,239.4 722.6,238.1" fill="#d070a0" stroke="#b03a70" stroke-width="0.6"/>
<polygon points="727.7,236.0 729.0,237.3 727.7,238.6 726.4,237.3" fill="#e05a48" stroke="#d03a30" stroke-width="0.6"/>
<polygon points="723.4,237.8 724.7,239.2 723.4,240.5 722.1,239.2" fill="#e05a48" stroke="#d03a30" stroke-width="0.6"/>
<polygon points="721.8,239.7 723.1,241.0 721.8,242.3 720.5,241.0" fill="#e05a48" stroke="#d03a30" stroke-width="0.6"/>
<polygon points="728.0,241.6 729.3,242.9 728.0,244.2 726.7,242.9" fill="#e05a48" stroke="#d03a30" stroke-width="0.6"/>
<polygon points="733.7,243.5 735.0,244.8 733.7,246.1 732.4,244.8" fill="#e05a48" stroke="#d03a30" stroke-width="0.6"/>
<polygon points="728.6,244.9 729.9,246.2 728.6,247.6 727.3,246.2" fill="#e05a48" stroke="#d03a30" stroke-width="0.6"/>
<polygon points="724.8,246.4 726.1,247.7 724.8,249.0 723.5,247.7" fill="#e05a48" stroke="#d03a30" stroke-width="0.6"/>
<polygon points="730.5,247.5 731.8,248.8 730.5,250.2 729.2,248.8" fill="#e05a48" stroke="#d03a30" stroke-width="0.6"/>
<polygon points="735.2,248.7 736.5,250.0 735.2,251.3 733.9,250.0" fill="#e05a48" stroke="#d03a30" stroke-width="0.6"/>
<polygon points="729.9,251.3 731.2,252.6 729.9,253.9 728.6,252.6" fill="#e05a48" stroke="#d03a30" stroke-width="0.6"/>
<polygon points="723.3,253.9 724.6,255.2 723.3,256.5 722.0,255.2" fill="#e05a48" stroke="#d03a30" stroke-width="0.6"/>
<polygon points="724.1,255.7 725.4,257.0 724.1,258.3 722.8,257.0" fill="#e05a48" stroke="#d03a30" stroke-width="0.6"/>
<polygon points="729.2,257.6 730.5,258.9 729.2,260.2 727.9,258.9" fill="#e05a48" stroke="#d03a30" stroke-width="0.6"/>
<polygon points="722.3,259.4 723.6,260.8 722.3,262.1 721.0,260.8" fill="#e05a48" stroke="#d03a30" stroke-width="0.6"/>
<polygon points="720.3,261.3 721.6,262.6 720.3,263.9 719.0,262.6" fill="#e05a48" stroke="#d03a30" stroke-width="0.6"/>
<polygon points="726.4,263.6 727.7,264.9 726.4,266.2 725.1,264.9" fill="#e05a48" stroke="#d03a30" stroke-width="0.6"/>
<polygon points="729.2,265.8 730.5,267.1 729.2,268.4 727.9,267.1" fill="#e05a48" stroke="#d03a30" stroke-width="0.6"/>
<polygon points="724.3,267.2 725.6,268.6 724.3,269.9 723.0,268.6" fill="#e05a48" stroke="#d03a30" stroke-width="0.6"/>
<polygon points="721.8,268.7 723.1,270.0 721.8,271.3 720.5,270.0" fill="#e05a48" stroke="#d03a30" stroke-width="0.6"/>
<polygon points="723.4,270.9 724.7,272.2 723.4,273.6 722.1,272.2" fill="#e05a48" stroke="#d03a30" stroke-width="0.6"/>
<polygon points="727.7,273.2 729.0,274.5 727.7,275.8 726.4,274.5" fill="#e05a48" stroke="#d03a30" stroke-width="0.6"/>
<polygon points="726.1,274.7 727.4,276.0 726.1,277.3 724.8,276.0" fill="#e05a48" stroke="#d03a30" stroke-width="0.6"/>
<polygon points="719.6,276.2 720.9,277.5 719.6,278.8 718.3,277.5" fill="#e05a48" stroke="#d03a30" stroke-width="0.6"/>
<polygon points="722.8,277.6 724.1,278.9 722.8,280.2 721.5,278.9" fill="#e05a48" stroke="#d03a30" stroke-width="0.6"/>
<polygon points="726.2,279.1 727.5,280.4 726.2,281.7 724.9,280.4" fill="#e05a48" stroke="#d03a30" stroke-width="0.6"/>
<polygon points="725.3,281.3 726.6,282.6 725.3,283.9 724.0,282.6" fill="#e05a48" stroke="#d03a30" stroke-width="0.6"/>
<polygon points="721.0,283.6 722.3,284.9 721.0,286.2 719.7,284.9" fill="#e05a48" stroke="#d03a30" stroke-width="0.6"/>
<polygon points="725.7,285.8 727.0,287.1 725.7,288.4 724.4,287.1" fill="#e05a48" stroke="#d03a30" stroke-width="0.6"/>
<polygon points="730.7,288.1 732.0,289.4 730.7,290.7 729.4,289.4" fill="#e05a48" stroke="#d03a30" stroke-width="0.6"/>
<polygon points="733.6,289.2 734.9,290.5 733.6,291.8 732.3,290.5" fill="#e05a48" stroke="#d03a30" stroke-width="0.6"/>
<polygon points="735.2,290.3 736.5,291.6 735.2,292.9 733.9,291.6" fill="#e05a48" stroke="#d03a30" stroke-width="0.6"/>
<polygon points="726.0,291.8 727.3,293.1 726.0,294.4 724.7,293.1" fill="#e05a48" stroke="#d03a30" stroke-width="0.6"/>
<polygon points="720.3,293.3 721.6,294.6 720.3,295.9 719.0,294.6" fill="#e05a48" stroke="#d03a30" stroke-width="0.6"/>
<polygon points="718.7,294.4 720.0,295.7 718.7,297.0 717.4,295.7" fill="#e05a48" stroke="#d03a30" stroke-width="0.6"/>
<polygon points="715.8,295.5 717.1,296.8 715.8,298.1 714.5,296.8" fill="#e05a48" stroke="#d03a30" stroke-width="0.6"/>
<polygon points="713.1,295.8 714.2,296.9 713.1,298.0 712.0,296.9" fill="#d07a5a" stroke="#c05a3a" stroke-width="0.5"/>
<polygon points="713.6,297.5 714.7,298.6 713.6,299.7 712.5,298.6" fill="#d07a5a" stroke="#c05a3a" stroke-width="0.5"/>
<polygon points="714.9,299.1 716.0,300.2 714.9,301.3 713.8,300.2" fill="#d07a5a" stroke="#c05a3a" stroke-width="0.5"/>
<polygon points="720.0,300.8 721.1,301.9 720.0,303.0 718.9,301.9" fill="#d07a5a" stroke="#c05a3a" stroke-width="0.5"/>
<polygon points="716.8,302.3 717.9,303.4 716.8,304.5 715.7,303.4" fill="#d07a5a" stroke="#c05a3a" stroke-width="0.5"/>
<polygon points="712.6,303.7 713.7,304.8 712.6,305.9 711.5,304.8" fill="#d07a5a" stroke="#c05a3a" stroke-width="0.5"/>
<polygon points="712.5,305.2 713.6,306.3 712.5,307.4 711.4,306.3" fill="#d07a5a" stroke="#c05a3a" stroke-width="0.5"/>
<polygon points="710.7,307.3 711.8,308.4 710.7,309.5 709.6,308.4" fill="#d07a5a" stroke="#c05a3a" stroke-width="0.5"/>
<polygon points="714.3,309.3 715.4,310.4 714.3,311.5 713.2,310.4" fill="#d07a5a" stroke="#c05a3a" stroke-width="0.5"/>
<polygon points="716.3,311.4 717.4,312.5 716.3,313.6 715.2,312.5" fill="#d07a5a" stroke="#c05a3a" stroke-width="0.5"/>
<polygon points="716.7,312.0 717.8,313.1 716.7,314.2 715.6,313.1" fill="#d07a5a" stroke="#c05a3a" stroke-width="0.5"/>
<polygon points="713.4,312.7 714.5,313.8 713.4,314.9 712.3,313.8" fill="#d07a5a" stroke="#c05a3a" stroke-width="0.5"/>
<polygon points="708.8,313.3 709.9,314.4 708.8,315.5 707.7,314.4" fill="#d07a5a" stroke="#c05a3a" stroke-width="0.5"/>
<polygon points="712.7,315.2 713.8,316.3 712.7,317.4 711.6,316.3" fill="#d07a5a" stroke="#c05a3a" stroke-width="0.5"/>
<polygon points="711.0,317.0 712.1,318.1 711.0,319.2 709.9,318.1" fill="#d07a5a" stroke="#c05a3a" stroke-width="0.5"/>
<polygon points="715.0,318.9 716.1,320.0 715.0,321.1 713.9,320.0" fill="#d07a5a" stroke="#c05a3a" stroke-width="0.5"/>
<polygon points="714.0,320.2 715.1,321.3 714.0,322.4 712.9,321.3" fill="#d07a5a" stroke="#c05a3a" stroke-width="0.5"/>
<polygon points="711.0,321.4 712.1,322.5 711.0,323.6 709.9,322.5" fill="#d07a5a" stroke="#c05a3a" stroke-width="0.5"/>
<polygon points="711.3,322.7 712.4,323.8 711.3,324.9 710.2,323.8" fill="#d07a5a" stroke="#c05a3a" stroke-width="0.5"/>
<polygon points="711.1,323.9 712.2,325.0 711.1,326.1 710.0,325.0" fill="#d07a5a" stroke="#c05a3a" stroke-width="0.5"/>
<polygon points="712.7,325.2 713.8,326.3 712.7,327.4 711.6,326.3" fill="#d07a5a" stroke="#c05a3a" stroke-width="0.5"/>
<polygon points="717.5,326.4 718.6,327.5 717.5,328.6 716.4,327.5" fill="#d07a5a" stroke="#c05a3a" stroke-width="0.5"/>
<polygon points="713.4,327.2 714.5,328.3 713.4,329.4 712.3,328.3" fill="#d07a5a" stroke="#c05a3a" stroke-width="0.5"/>
<polygon points="716.4,328.1 717.5,329.2 716.4,330.3 715.3,329.2" fill="#d07a5a" stroke="#c05a3a" stroke-width="0.5"/>
<polygon points="711.3,328.9 712.4,330.0 711.3,331.1 710.2,330.0" fill="#d07a5a" stroke="#c05a3a" stroke-width="0.5"/>
<polygon points="715.7,329.7 716.8,330.8 715.7,331.9 714.6,330.8" fill="#d07a5a" stroke="#c05a3a" stroke-width="0.5"/>
<polygon points="717.6,330.6 718.7,331.7 717.6,332.8 716.5,331.7" fill="#d07a5a" stroke="#c05a3a" stroke-width="0.5"/>
<polygon points="717.5,331.4 718.6,332.5 717.5,333.6 716.4,332.5" fill="#d07a5a" stroke="#c05a3a" stroke-width="0.5"/>
<polygon points="716.7,332.2 717.8,333.3 716.7,334.4 715.6,333.3" fill="#d07a5a" stroke="#c05a3a" stroke-width="0.5"/>
<polygon points="709.6,333.1 710.7,334.2 709.6,335.3 708.5,334.2" fill="#d07a5a" stroke="#c05a3a" stroke-width="0.5"/>
<polygon points="708.8,333.9 709.9,335.0 708.8,336.1 707.7,335.0" fill="#d07a5a" stroke="#c05a3a" stroke-width="0.5"/>
<polygon points="709.5,335.6 710.6,336.7 709.5,337.8 708.4,336.7" fill="#d07a5a" stroke="#c05a3a" stroke-width="0.5"/>
<polygon points="713.8,337.2 714.9,338.3 713.8,339.4 712.7,338.3" fill="#d07a5a" stroke="#c05a3a" stroke-width="0.5"/>
<polygon points="715.0,338.9 716.1,340.0 715.0,341.1 713.9,340.0" fill="#d07a5a" stroke="#c05a3a" stroke-width="0.5"/>
<polygon points="714.1,340.4 715.2,341.5 714.1,342.6 713.0,341.5" fill="#d07a5a" stroke="#c05a3a" stroke-width="0.5"/>
<polygon points="712.5,341.8 713.6,342.9 712.5,344.0 711.4,342.9" fill="#d07a5a" stroke="#c05a3a" stroke-width="0.5"/>
<polygon points="707.5,343.3 708.6,344.4 707.5,345.5 706.4,344.4" fill="#d07a5a" stroke="#c05a3a" stroke-width="0.5"/>
<polygon points="712.7,345.2 713.8,346.3 712.7,347.4 711.6,346.3" fill="#d07a5a" stroke="#c05a3a" stroke-width="0.5"/>
<polygon points="709.6,347.0 710.7,348.1 709.6,349.2 708.5,348.1" fill="#d07a5a" stroke="#c05a3a" stroke-width="0.5"/>
<polygon points="715.0,348.9 716.1,350.0 715.0,351.1 713.9,350.0" fill="#d07a5a" stroke="#c05a3a" stroke-width="0.5"/>
<polygon points="713.7,351.4 714.8,352.5 713.7,353.6 712.6,352.5" fill="#d07a5a" stroke="#c05a3a" stroke-width="0.5"/>
<polygon points="712.1,353.9 713.2,355.0 712.1,356.1 711.0,355.0" fill="#d07a5a" stroke="#c05a3a" stroke-width="0.5"/>
<polygon points="708.8,356.4 709.9,357.5 708.8,358.6 707.7,357.5" fill="#d07a5a" stroke="#c05a3a" stroke-width="0.5"/>
<polygon points="710.5,358.1 711.6,359.2 710.5,360.3 709.4,359.2" fill="#d07a5a" stroke="#c05a3a" stroke-width="0.5"/>
<polygon points="709.9,359.7 711.0,360.8 709.9,361.9 708.8,360.8" fill="#d07a5a" stroke="#c05a3a" stroke-width="0.5"/>
<polygon points="713.8,361.4 714.9,362.5 713.8,363.6 712.7,362.5" fill="#d07a5a" stroke="#c05a3a" stroke-width="0.5"/>
<polygon points="714.4,363.9 715.5,365.0 714.4,366.1 713.3,365.0" fill="#d07a5a" stroke="#c05a3a" stroke-width="0.5"/>
<polygon points="712.6,366.4 713.7,367.5 712.6,368.6 711.5,367.5" fill="#d07a5a" stroke="#c05a3a" stroke-width="0.5"/>
<polygon points="716.3,368.9 717.4,370.0 716.3,371.1 715.2,370.0" fill="#d07a5a" stroke="#c05a3a" stroke-width="0.5"/>
<polygon points="716.0,371.4 717.1,372.5 716.0,373.6 714.9,372.5" fill="#d07a5a" stroke="#c05a3a" stroke-width="0.5"/>
<polygon points="712.2,373.9 713.3,375.0 712.2,376.1 711.1,375.0" fill="#d07a5a" stroke="#c05a3a" stroke-width="0.5"/>
<polygon points="706.3,376.4 707.4,377.5 706.3,378.6 705.2,377.5" fill="#d07a5a" stroke="#c05a3a" stroke-width="0.5"/>
<polygon points="710.0,377.2 711.1,378.3 710.0,379.4 708.9,378.3" fill="#d07a5a" stroke="#c05a3a" stroke-width="0.5"/>
<polygon points="711.6,378.1 712.7,379.2 711.6,380.3 710.5,379.2" fill="#d07a5a" stroke="#c05a3a" stroke-width="0.5"/>
<polygon points="716.3,378.9 717.4,380.0 716.3,381.1 715.2,380.0" fill="#d07a5a" stroke="#c05a3a" stroke-width="0.5"/>
<polygon points="716.7,379.7 717.8,380.8 716.7,381.9 715.6,380.8" fill="#d07a5a" stroke="#c05a3a" stroke-width="0.5"/>
<polygon points="711.8,380.6 712.9,381.7 711.8,382.8 710.7,381.7" fill="#d07a5a" stroke="#c05a3a" stroke-width="0.5"/>
<polygon points="708.8,381.4 709.9,382.5 708.8,383.6 707.7,382.5" fill="#d07a5a" stroke="#c05a3a" stroke-width="0.5"/>
<polygon points="714.0,382.2 715.1,383.3 714.0,384.4 712.9,383.3" fill="#d07a5a" stroke="#c05a3a" stroke-width="0.5"/>
<polygon points="716.2,383.1 717.3,384.2 716.2,385.3 715.1,384.2" fill="#d07a5a" stroke="#c05a3a" stroke-width="0.5"/>
<polygon points="716.3,383.9 717.4,385.0 716.3,386.1 715.2,385.0" fill="#d07a5a" stroke="#c05a3a" stroke-width="0.5"/>
<polygon points="712.2,384.7 713.3,385.8 712.2,386.9 711.1,385.8" fill="#d07a5a" stroke="#c05a3a" stroke-width="0.5"/>
<polygon points="707.4,385.6 708.5,386.7 707.4,387.8 706.3,386.7" fill="#d07a5a" stroke="#c05a3a" stroke-width="0.5"/>
<polygon points="703.8,386.4 704.9,387.5 703.8,388.6 702.7,387.5" fill="#d07a5a" stroke="#c05a3a" stroke-width="0.5"/>
<polygon points="707.4,387.2 708.5,388.3 707.4,389.4 706.3,388.3" fill="#d07a5a" stroke="#c05a3a" stroke-width="0.5"/>
<polygon points="709.1,388.1 710.2,389.2 709.1,390.3 708.0,389.2" fill="#d07a5a" stroke="#c05a3a" stroke-width="0.5"/>
<polygon points="712.5,388.9 713.6,390.0 712.5,391.1 711.4,390.0" fill="#d07a5a" stroke="#c05a3a" stroke-width="0.5"/>
<polygon points="709.7,391.0 710.8,392.1 709.7,393.2 708.6,392.1" fill="#d07a5a" stroke="#c05a3a" stroke-width="0.5"/>
<polygon points="710.3,393.1 711.4,394.2 710.3,395.3 709.2,394.2" fill="#d07a5a" stroke="#c05a3a" stroke-width="0.5"/>
<polygon points="711.3,395.2 712.4,396.3 711.3,397.4 710.2,396.3" fill="#d07a5a" stroke="#c05a3a" stroke-width="0.5"/>
<polygon points="711.4,397.5 712.5,398.6 711.4,399.7 710.3,398.6" fill="#d07a5a" stroke="#c05a3a" stroke-width="0.5"/>
<polygon points="703.9,399.7 705.0,400.8 703.9,401.9 702.8,400.8" fill="#d07a5a" stroke="#c05a3a" stroke-width="0.5"/>
<polygon points="705.0,402.0 706.1,403.1 705.0,404.2 703.9,403.1" fill="#d07a5a" stroke="#c05a3a" stroke-width="0.5"/>
<polygon points="704.8,403.5 705.9,404.6 704.8,405.7 703.7,404.6" fill="#d07a5a" stroke="#c05a3a" stroke-width="0.5"/>
<polygon points="711.8,404.9 712.9,406.0 711.8,407.1 710.7,406.0" fill="#d07a5a" stroke="#c05a3a" stroke-width="0.5"/>
<polygon points="713.8,406.4 714.9,407.5 713.8,408.6 712.7,407.5" fill="#d07a5a" stroke="#c05a3a" stroke-width="0.5"/>
<polygon points="714.8,407.4 715.9,408.5 714.8,409.6 713.7,408.5" fill="#d07a5a" stroke="#c05a3a" stroke-width="0.5"/>
<polygon points="719.0,408.5 720.1,409.6 719.0,410.7 717.9,409.6" fill="#d07a5a" stroke="#c05a3a" stroke-width="0.5"/>
<polygon points="721.3,409.5 722.4,410.6 721.3,411.7 720.2,410.6" fill="#d07a5a" stroke="#c05a3a" stroke-width="0.5"/>
<polygon points="717.3,410.3 718.4,411.4 717.3,412.5 716.2,411.4" fill="#d07a5a" stroke="#c05a3a" stroke-width="0.5"/>
<polygon points="712.7,411.2 713.8,412.3 712.7,413.4 711.6,412.3" fill="#d07a5a" stroke="#c05a3a" stroke-width="0.5"/>
<polygon points="710.0,412.0 711.1,413.1 710.0,414.2 708.9,413.1" fill="#d07a5a" stroke="#c05a3a" stroke-width="0.5"/>
<polygon points="716.0,413.1 717.1,414.2 716.0,415.3 714.9,414.2" fill="#d07a5a" stroke="#c05a3a" stroke-width="0.5"/>
<polygon points="712.9,414.1 714.0,415.2 712.9,416.3 711.8,415.2" fill="#d07a5a" stroke="#c05a3a" stroke-width="0.5"/>
<polygon points="717.5,415.2 718.6,416.3 717.5,417.4 716.4,416.3" fill="#d07a5a" stroke="#c05a3a" stroke-width="0.5"/>
<polygon points="714.0,417.3 715.1,418.4 714.0,419.5 712.9,418.4" fill="#d07a5a" stroke="#c05a3a" stroke-width="0.5"/>
<polygon points="709.6,419.3 710.7,420.4 709.6,421.5 708.5,420.4" fill="#d07a5a" stroke="#c05a3a" stroke-width="0.5"/>
<polygon points="708.8,421.4 709.9,422.5 708.8,423.6 707.7,422.5" fill="#d07a5a" stroke="#c05a3a" stroke-width="0.5"/>
<polygon points="711.8,422.7 712.9,423.8 711.8,424.9 710.7,423.8" fill="#d07a5a" stroke="#c05a3a" stroke-width="0.5"/>
<polygon points="711.4,423.9 712.5,425.0 711.4,426.1 710.3,425.0" fill="#d07a5a" stroke="#c05a3a" stroke-width="0.5"/>
<polygon points="715.0,425.2 716.1,426.3 715.0,427.4 713.9,426.3" fill="#d07a5a" stroke="#c05a3a" stroke-width="0.5"/>
<polygon points="712.3,426.4 713.4,427.5 712.3,428.6 711.2,427.5" fill="#d07a5a" stroke="#c05a3a" stroke-width="0.5"/>
<polygon points="713.4,427.7 714.5,428.8 713.4,429.9 712.3,428.8" fill="#d07a5a" stroke="#c05a3a" stroke-width="0.5"/>
<polygon points="710.0,428.9 711.1,430.0 710.0,431.1 708.9,430.0" fill="#d07a5a" stroke="#c05a3a" stroke-width="0.5"/>
<polygon points="710.4,431.0 711.5,432.1 710.4,433.2 709.3,432.1" fill="#d07a5a" stroke="#c05a3a" stroke-width="0.5"/>
<polygon points="713.7,433.1 714.8,434.2 713.7,435.3 712.6,434.2" fill="#d07a5a" stroke="#c05a3a" stroke-width="0.5"/>
<polygon points="715.0,435.2 716.1,436.3 715.0,437.4 713.9,436.3" fill="#d07a5a" stroke="#c05a3a" stroke-width="0.5"/>
<polygon points="717.7,435.8 718.8,436.9 717.7,438.0 716.6,436.9" fill="#d07a5a" stroke="#c05a3a" stroke-width="0.5"/>
<polygon points="712.0,436.3 713.1,437.4 712.0,438.5 710.9,437.4" fill="#d07a5a" stroke="#c05a3a" stroke-width="0.5"/>
<polygon points="714.7,436.9 715.8,438.0 714.7,439.1 713.6,438.0" fill="#d07a5a" stroke="#c05a3a" stroke-width="0.5"/>
<polygon points="710.7,440.0 711.8,441.1 710.7,442.2 709.6,441.1" fill="#d07a5a" stroke="#c05a3a" stroke-width="0.5"/>
<polygon points="711.0,443.1 712.1,444.2 711.0,445.3 709.9,444.2" fill="#d07a5a" stroke="#c05a3a" stroke-width="0.5"/>
<polygon points="712.0,446.2 713.1,447.3 712.0,448.4 710.9,447.3" fill="#d07a5a" stroke="#c05a3a" stroke-width="0.5"/>
<polygon points="714.8,447.5 715.9,448.6 714.8,449.7 713.7,448.6" fill="#d07a5a" stroke="#c05a3a" stroke-width="0.5"/>
<polygon points="714.6,448.9 715.7,450.0 714.6,451.1 713.5,450.0" fill="#d07a5a" stroke="#c05a3a" stroke-width="0.5"/>
<polygon points="714.7,450.2 715.8,451.3 714.7,452.4 713.6,451.3" fill="#d07a5a" stroke="#c05a3a" stroke-width="0.5"/>
<polygon points="709.7,452.2 710.8,453.3 709.7,454.4 708.6,453.3" fill="#d07a5a" stroke="#c05a3a" stroke-width="0.5"/>
<polygon points="707.3,454.2 708.4,455.3 707.3,456.4 706.2,455.3" fill="#d07a5a" stroke="#c05a3a" stroke-width="0.5"/>
<polygon points="705.3,456.2 706.4,457.3 705.3,458.4 704.2,457.3" fill="#d07a5a" stroke="#c05a3a" stroke-width="0.5"/>
<polygon points="706.2,456.7 707.3,457.8 706.2,458.9 705.1,457.8" fill="#d07a5a" stroke="#c05a3a" stroke-width="0.5"/>
<polygon points="711.3,457.1 712.4,458.2 711.3,459.3 710.2,458.2" fill="#d07a5a" stroke="#c05a3a" stroke-width="0.5"/>
<polygon points="714.7,457.6 715.8,458.7 714.7,459.8 713.6,458.7" fill="#d07a5a" stroke="#c05a3a" stroke-width="0.5"/>
<polygon points="708.8,458.7 709.9,459.8 708.8,460.9 707.7,459.8" fill="#d07a5a" stroke="#c05a3a" stroke-width="0.5"/>
<polygon points="710.7,459.8 711.8,460.9 710.7,462.0 709.6,460.9" fill="#d07a5a" stroke="#c05a3a" stroke-width="0.5"/>
<polygon points="706.7,460.9 707.8,462.0 706.7,463.1 705.6,462.0" fill="#d07a5a" stroke="#c05a3a" stroke-width="0.5"/>
<polygon points="711.7,462.2 712.8,463.3 711.7,464.4 710.6,463.3" fill="#d07a5a" stroke="#c05a3a" stroke-width="0.5"/>
<polygon points="714.3,463.6 715.4,464.7 714.3,465.8 713.2,464.7" fill="#d07a5a" stroke="#c05a3a" stroke-width="0.5"/>
<polygon points="713.3,464.9 714.4,466.0 713.3,467.1 712.2,466.0" fill="#d07a5a" stroke="#c05a3a" stroke-width="0.5"/>
<polygon points="714.1,467.1 715.2,468.2 714.1,469.3 713.0,468.2" fill="#d07a5a" stroke="#c05a3a" stroke-width="0.5"/>
<polygon points="714.8,469.4 715.9,470.5 714.8,471.6 713.7,470.5" fill="#d07a5a" stroke="#c05a3a" stroke-width="0.5"/>
<polygon points="710.7,471.6 711.8,472.7 710.7,473.8 709.6,472.7" fill="#d07a5a" stroke="#c05a3a" stroke-width="0.5"/>
<polygon points="708.2,472.9 709.3,474.0 708.2,475.1 707.1,474.0" fill="#d07a5a" stroke="#c05a3a" stroke-width="0.5"/>
<polygon points="711.0,474.3 712.1,475.4 711.0,476.5 709.9,475.4" fill="#d07a5a" stroke="#c05a3a" stroke-width="0.5"/>
<polygon points="713.3,475.6 714.4,476.7 713.3,477.8 712.2,476.7" fill="#d07a5a" stroke="#c05a3a" stroke-width="0.5"/>
<polygon points="715.2,476.9 716.3,478.0 715.2,479.1 714.1,478.0" fill="#d07a5a" stroke="#c05a3a" stroke-width="0.5"/>
<polygon points="712.6,478.3 713.7,479.4 712.6,480.5 711.5,479.4" fill="#d07a5a" stroke="#c05a3a" stroke-width="0.5"/>
<polygon points="709.3,479.6 710.4,480.7 709.3,481.8 708.2,480.7" fill="#d07a5a" stroke="#c05a3a" stroke-width="0.5"/>
<polygon points="710.0,481.1 711.1,482.2 710.0,483.3 708.9,482.2" fill="#d07a5a" stroke="#c05a3a" stroke-width="0.5"/>
<polygon points="715.1,482.7 716.2,483.8 715.1,484.9 714.0,483.8" fill="#d07a5a" stroke="#c05a3a" stroke-width="0.5"/>
<polygon points="713.3,484.2 714.4,485.3 713.3,486.4 712.2,485.3" fill="#d07a5a" stroke="#c05a3a" stroke-width="0.5"/>
<polygon points="709.3,485.8 710.4,486.9 709.3,488.0 708.2,486.9" fill="#d07a5a" stroke="#c05a3a" stroke-width="0.5"/>
<polygon points="705.8,487.3 706.9,488.4 705.8,489.5 704.7,488.4" fill="#d07a5a" stroke="#c05a3a" stroke-width="0.5"/>
<polygon points="698.7,488.9 699.8,490.0 698.7,491.1 697.6,490.0" fill="#d07a5a" stroke="#c05a3a" stroke-width="0.5"/>
<polygon points="701.3,489.8 702.4,490.9 701.3,492.0 700.2,490.9" fill="#d07a5a" stroke="#c05a3a" stroke-width="0.5"/>
<polygon points="704.5,490.7 705.6,491.8 704.5,492.9 703.4,491.8" fill="#d07a5a" stroke="#c05a3a" stroke-width="0.5"/>
<polygon points="710.7,491.6 711.8,492.7 710.7,493.8 709.6,492.7" fill="#d07a5a" stroke="#c05a3a" stroke-width="0.5"/>
<polygon points="708.5,492.9 709.6,494.0 708.5,495.1 707.4,494.0" fill="#d07a5a" stroke="#c05a3a" stroke-width="0.5"/>
<polygon points="704.6,494.3 705.7,495.4 704.6,496.5 703.5,495.4" fill="#d07a5a" stroke="#c05a3a" stroke-width="0.5"/>
<polygon points="705.3,495.6 706.4,496.7 705.3,497.8 704.2,496.7" fill="#d07a5a" stroke="#c05a3a" stroke-width="0.5"/>
<polygon points="707.1,497.4 708.2,498.5 707.1,499.6 706.0,498.5" fill="#d07a5a" stroke="#c05a3a" stroke-width="0.5"/>
<polygon points="713.9,499.1 715.0,500.2 713.9,501.3 712.8,500.2" fill="#d07a5a" stroke="#c05a3a" stroke-width="0.5"/>
<polygon points="713.3,500.9 714.4,502.0 713.3,503.1 712.2,502.0" fill="#d07a5a" stroke="#c05a3a" stroke-width="0.5"/>
<polygon points="710.8,501.8 711.9,502.9 710.8,504.0 709.7,502.9" fill="#d07a5a" stroke="#c05a3a" stroke-width="0.5"/>
<polygon points="707.2,502.7 708.3,503.8 707.2,504.9 706.1,503.8" fill="#d07a5a" stroke="#c05a3a" stroke-width="0.5"/>
<polygon points="709.3,503.6 710.4,504.7 709.3,505.8 708.2,504.7" fill="#d07a5a" stroke="#c05a3a" stroke-width="0.5"/>
<polygon points="707.4,504.9 708.5,506.0 707.4,507.1 706.3,506.0" fill="#d07a5a" stroke="#c05a3a" stroke-width="0.5"/>
<polygon points="709.7,506.3 710.8,507.4 709.7,508.5 708.6,507.4" fill="#d07a5a" stroke="#c05a3a" stroke-width="0.5"/>
<polygon points="713.3,507.6 714.4,508.7 713.3,509.8 712.2,508.7" fill="#d07a5a" stroke="#c05a3a" stroke-width="0.5"/>
<polygon points="712.6,509.4 713.7,510.5 712.6,511.6 711.5,510.5" fill="#d07a5a" stroke="#c05a3a" stroke-width="0.5"/>
<polygon points="707.0,511.1 708.1,512.2 707.0,513.3 705.9,512.2" fill="#d07a5a" stroke="#c05a3a" stroke-width="0.5"/>
<polygon points="705.3,512.9 706.4,514.0 705.3,515.1 704.2,514.0" fill="#d07a5a" stroke="#c05a3a" stroke-width="0.5"/>
<polygon points="703.0,514.7 704.1,515.8 703.0,516.9 701.9,515.8" fill="#d07a5a" stroke="#c05a3a" stroke-width="0.5"/>
<polygon points="700.7,516.4 701.8,517.5 700.7,518.6 699.6,517.5" fill="#d07a5a" stroke="#c05a3a" stroke-width="0.5"/>
<polygon points="702.7,518.2 703.8,519.3 702.7,520.4 701.6,519.3" fill="#d07a5a" stroke="#c05a3a" stroke-width="0.5"/>
<polygon points="707.4,519.5 708.5,520.6 707.4,521.7 706.3,520.6" fill="#d07a5a" stroke="#c05a3a" stroke-width="0.5"/>
<polygon points="704.8,520.9 705.9,522.0 704.8,523.1 703.7,522.0" fill="#d07a5a" stroke="#c05a3a" stroke-width="0.5"/>
<polygon points="706.7,522.2 707.8,523.3 706.7,524.4 705.6,523.3" fill="#d07a5a" stroke="#c05a3a" stroke-width="0.5"/>
<polygon points="704.2,524.0 705.3,525.1 704.2,526.2 703.1,525.1" fill="#d07a5a" stroke="#c05a3a" stroke-width="0.5"/>
<polygon points="702.7,525.8 703.8,526.9 702.7,528.0 701.6,526.9" fill="#d07a5a" stroke="#c05a3a" stroke-width="0.5"/>
<polygon points="705.3,527.6 706.4,528.7 705.3,529.8 704.2,528.7" fill="#d07a5a" stroke="#c05a3a" stroke-width="0.5"/>
<polygon points="704.9,528.5 706.0,529.6 704.9,530.7 703.8,529.6" fill="#d07a5a" stroke="#c05a3a" stroke-width="0.5"/>
<polygon points="708.3,529.3 709.4,530.4 708.3,531.5 707.2,530.4" fill="#d07a5a" stroke="#c05a3a" stroke-width="0.5"/>
<polygon points="713.3,530.2 714.4,531.3 713.3,532.4 712.2,531.3" fill="#d07a5a" stroke="#c05a3a" stroke-width="0.5"/>
<polygon points="705.2,531.9 706.3,533.0 705.2,534.1 704.1,533.0" fill="#d07a5a" stroke="#c05a3a" stroke-width="0.5"/>
<polygon points="692.2,533.6 693.3,534.7 692.2,535.8 691.1,534.7" fill="#d07a5a" stroke="#c05a3a" stroke-width="0.5"/>
<polygon points="685.3,535.3 686.4,536.4 685.3,537.5 684.2,536.4" fill="#d07a5a" stroke="#c05a3a" stroke-width="0.5"/>
<polygon points="694.1,536.1 695.2,537.2 694.1,538.3 693.0,537.2" fill="#d07a5a" stroke="#c05a3a" stroke-width="0.5"/>
<polygon points="709.2,536.8 710.3,537.9 709.2,539.0 708.1,537.9" fill="#d07a5a" stroke="#c05a3a" stroke-width="0.5"/>
<polygon points="721.3,537.6 722.4,538.7 721.3,539.8 720.2,538.7" fill="#d07a5a" stroke="#c05a3a" stroke-width="0.5"/>
<polygon points="715.1,538.7 716.2,539.8 715.1,540.9 714.0,539.8" fill="#d07a5a" stroke="#c05a3a" stroke-width="0.5"/>
<polygon points="715.9,539.8 717.0,540.9 715.9,542.0 714.8,540.9" fill="#d07a5a" stroke="#c05a3a" stroke-width="0.5"/>
<polygon points="708.0,540.9 709.1,542.0 708.0,543.1 706.9,542.0" fill="#d07a5a" stroke="#c05a3a" stroke-width="0.5"/>
<polygon points="710.7,542.7 711.8,543.8 710.7,544.9 709.6,543.8" fill="#d07a5a" stroke="#c05a3a" stroke-width="0.5"/>
<polygon points="718.9,544.4 720.0,545.5 718.9,546.6 717.8,545.5" fill="#d07a5a" stroke="#c05a3a" stroke-width="0.5"/>
<polygon points="724.0,546.2 725.1,547.3 724.0,548.4 722.9,547.3" fill="#d07a5a" stroke="#c05a3a" stroke-width="0.5"/>
<polygon points="726.3,547.5 727.4,548.6 726.3,549.7 725.2,548.6" fill="#d07a5a" stroke="#c05a3a" stroke-width="0.5"/>
<polygon points="724.2,548.9 725.3,550.0 724.2,551.1 723.1,550.0" fill="#d07a5a" stroke="#c05a3a" stroke-width="0.5"/>
<polygon points="725.3,550.2 726.4,551.3 725.3,552.4 724.2,551.3" fill="#d07a5a" stroke="#c05a3a" stroke-width="0.5"/>
<polygon points="728.0,552.0 729.1,553.1 728.0,554.2 726.9,553.1" fill="#d07a5a" stroke="#c05a3a" stroke-width="0.5"/>
<polygon points="723.8,553.8 724.9,554.9 723.8,556.0 722.7,554.9" fill="#d07a5a" stroke="#c05a3a" stroke-width="0.5"/>
<polygon points="723.3,555.6 724.4,556.7 723.3,557.8 722.2,556.7" fill="#d07a5a" stroke="#c05a3a" stroke-width="0.5"/>
<polygon points="723.5,555.8 724.6,556.9 723.5,558.0 722.4,556.9" fill="#d07a5a" stroke="#c05a3a" stroke-width="0.5"/>
<polygon points="726.7,556.0 727.8,557.1 726.7,558.2 725.6,557.1" fill="#d07a5a" stroke="#c05a3a" stroke-width="0.5"/>
<polygon points="729.3,556.2 730.4,557.3 729.3,558.4 728.2,557.3" fill="#d07a5a" stroke="#c05a3a" stroke-width="0.5"/>
<polygon points="722.1,557.8 723.2,558.9 722.1,560.0 721.0,558.9" fill="#d07a5a" stroke="#c05a3a" stroke-width="0.5"/>
<polygon points="720.7,559.3 721.8,560.4 720.7,561.5 719.6,560.4" fill="#d07a5a" stroke="#c05a3a" stroke-width="0.5"/>
<polygon points="717.3,560.9 718.4,562.0 717.3,563.1 716.2,562.0" fill="#d07a5a" stroke="#c05a3a" stroke-width="0.5"/>
<polygon points="713.3,562.5 714.4,563.6 713.3,564.7 712.2,563.6" fill="#d07a5a" stroke="#c05a3a" stroke-width="0.5"/>
<polygon points="715.6,564.0 716.7,565.1 715.6,566.2 714.5,565.1" fill="#d07a5a" stroke="#c05a3a" stroke-width="0.5"/>
<polygon points="710.7,565.6 711.8,566.7 710.7,567.8 709.6,566.7" fill="#d07a5a" stroke="#c05a3a" stroke-width="0.5"/>
<polygon points="717.9,565.8 719.0,566.9 717.9,568.0 716.8,566.9" fill="#d07a5a" stroke="#c05a3a" stroke-width="0.5"/>
<polygon points="720.4,566.0 721.5,567.1 720.4,568.2 719.3,567.1" fill="#d07a5a" stroke="#c05a3a" stroke-width="0.5"/>
<polygon points="725.3,566.2 726.4,567.3 725.3,568.4 724.2,567.3" fill="#d07a5a" stroke="#c05a3a" stroke-width="0.5"/>
<polygon points="720.5,567.5 721.6,568.6 720.5,569.7 719.4,568.6" fill="#d07a5a" stroke="#c05a3a" stroke-width="0.5"/>
<polygon points="720.5,568.9 721.6,570.0 720.5,571.1 719.4,570.0" fill="#d07a5a" stroke="#c05a3a" stroke-width="0.5"/>
<polygon points="720.7,570.2 721.8,571.3 720.7,572.4 719.6,571.3" fill="#d07a5a" stroke="#c05a3a" stroke-width="0.5"/>
<polygon points="712.9,571.1 714.0,572.2 712.9,573.3 711.8,572.2" fill="#d07a5a" stroke="#c05a3a" stroke-width="0.5"/>
<polygon points="706.7,572.0 707.8,573.1 706.7,574.2 705.6,573.1" fill="#d07a5a" stroke="#c05a3a" stroke-width="0.5"/>
<polygon points="702.7,572.9 703.8,574.0 702.7,575.1 701.6,574.0" fill="#d07a5a" stroke="#c05a3a" stroke-width="0.5"/>
<polygon points="701.9,573.8 703.0,574.9 701.9,576.0 700.8,574.9" fill="#d07a5a" stroke="#c05a3a" stroke-width="0.5"/>
<polygon points="707.5,574.7 708.6,575.8 707.5,576.9 706.4,575.8" fill="#d07a5a" stroke="#c05a3a" stroke-width="0.5"/>
<polygon points="706.0,575.6 707.1,576.7 706.0,577.8 704.9,576.7" fill="#d07a5a" stroke="#c05a3a" stroke-width="0.5"/>
<polygon points="709.1,576.3 710.2,577.4 709.1,578.5 708.0,577.4" fill="#d07a5a" stroke="#c05a3a" stroke-width="0.5"/>
<polygon points="714.0,576.9 715.1,578.0 714.0,579.1 712.9,578.0" fill="#d07a5a" stroke="#c05a3a" stroke-width="0.5"/>
<polygon points="722.7,577.6 723.8,578.7 722.7,579.8 721.6,578.7" fill="#d07a5a" stroke="#c05a3a" stroke-width="0.5"/>
<polygon points="731.5,578.0 732.6,579.1 731.5,580.2 730.4,579.1" fill="#d07a5a" stroke="#c05a3a" stroke-width="0.5"/>
<polygon points="734.7,578.5 735.8,579.6 734.7,580.7 733.6,579.6" fill="#d07a5a" stroke="#c05a3a" stroke-width="0.5"/>
<polygon points="740.0,578.9 741.1,580.0 740.0,581.1 738.9,580.0" fill="#d07a5a" stroke="#c05a3a" stroke-width="0.5"/>
<polygon points="739.9,580.0 741.0,581.1 739.9,582.2 738.8,581.1" fill="#d07a5a" stroke="#c05a3a" stroke-width="0.5"/>
<polygon points="732.2,581.1 733.3,582.2 732.2,583.3 731.1,582.2" fill="#d07a5a" stroke="#c05a3a" stroke-width="0.5"/>
<polygon points="729.3,582.2 730.4,583.3 729.3,584.4 728.2,583.3" fill="#d07a5a" stroke="#c05a3a" stroke-width="0.5"/>
<polygon points="728.2,583.0 730.2,585.0 728.2,587.0 726.2,585.0" fill="#e9a060" stroke="#d4502c" stroke-width="0.8"/>
<polygon points="705.8,587.3 707.8,589.3 705.8,591.3 703.8,589.3" fill="#e9a060" stroke="#d4502c" stroke-width="0.8"/>
<polygon points="684.2,588.9 686.2,590.9 684.2,592.9 682.2,590.9" fill="#e9a060" stroke="#d4502c" stroke-width="0.8"/>
<polygon points="678.0,591.4 680.0,593.4 678.0,595.4 676.0,593.4" fill="#e9a060" stroke="#d4502c" stroke-width="0.8"/>
<polygon points="682.3,593.5 684.3,595.5 682.3,597.5 680.3,595.5" fill="#e9a060" stroke="#d4502c" stroke-width="0.8"/>
<polygon points="708.3,594.7 710.3,596.7 708.3,598.7 706.3,596.7" fill="#e9a060" stroke="#d4502c" stroke-width="0.8"/>
<polygon points="713.3,599.7 715.3,601.7 713.3,603.7 711.3,601.7" fill="#e9a060" stroke="#d4502c" stroke-width="0.8"/>
<polygon points="705.8,604.0 707.8,606.0 705.8,608.0 703.8,606.0" fill="#e9a060" stroke="#d4502c" stroke-width="0.8"/>
<polygon points="681.7,605.9 683.7,607.9 681.7,609.9 679.7,607.9" fill="#e9a060" stroke="#d4502c" stroke-width="0.8"/>
<polygon points="717.0,607.1 719.0,609.1 717.0,611.1 715.0,609.1" fill="#e9a060" stroke="#d4502c" stroke-width="0.8"/>
<polygon points="725.0,608.4 727.0,610.4 725.0,612.4 723.0,610.4" fill="#e9a060" stroke="#d4502c" stroke-width="0.8"/>
<polygon points="700.9,610.5 702.9,612.5 700.9,614.5 698.9,612.5" fill="#e9a060" stroke="#d4502c" stroke-width="0.8"/>
<polygon points="705.2,612.7 707.2,614.7 705.2,616.7 703.2,614.7" fill="#e9a060" stroke="#d4502c" stroke-width="0.8"/>
<polygon points="720.7,614.6 722.7,616.6 720.7,618.6 718.7,616.6" fill="#e9a060" stroke="#d4502c" stroke-width="0.8"/>
<polygon points="733.1,618.9 735.1,620.9 733.1,622.9 731.1,620.9" fill="#e9a060" stroke="#d4502c" stroke-width="0.8"/>
<polygon points="741.8,623.8 743.8,625.8 741.8,627.8 739.8,625.8" fill="#e9a060" stroke="#d4502c" stroke-width="0.8"/>
<polygon points="713.3,625.7 715.3,627.7 713.3,629.7 711.3,627.7" fill="#e9a060" stroke="#d4502c" stroke-width="0.8"/>
<polygon points="731.9,631.3 733.9,633.3 731.9,635.3 729.9,633.3" fill="#e9a060" stroke="#d4502c" stroke-width="0.8"/>
<polygon points="725.7,635.6 727.7,637.6 725.7,639.6 723.7,637.6" fill="#e9a060" stroke="#d4502c" stroke-width="0.8"/>
<polygon points="754.2,635.6 756.2,637.6 754.2,639.6 752.2,637.6" fill="#e9a060" stroke="#d4502c" stroke-width="0.8"/>
<polygon points="746.7,638.7 748.7,640.7 746.7,642.7 744.7,640.7" fill="#e9a060" stroke="#d4502c" stroke-width="0.8"/>
<polygon points="719.5,640.6 721.5,642.6 719.5,644.6 717.5,642.6" fill="#e9a060" stroke="#d4502c" stroke-width="0.8"/>
<polygon points="734.3,642.4 736.3,644.4 734.3,646.4 732.3,644.4" fill="#e9a060" stroke="#d4502c" stroke-width="0.8"/>
<polygon points="752.3,644.7 754.3,646.7 752.3,648.7 750.3,646.7" fill="#e9a060" stroke="#d4502c" stroke-width="0.8"/>
<polygon points="738.1,648.0 740.1,650.0 738.1,652.0 736.1,650.0" fill="#e9a060" stroke="#d4502c" stroke-width="0.8"/>
<polygon points="746.7,651.1 748.7,653.1 746.7,655.1 744.7,653.1" fill="#e9a060" stroke="#d4502c" stroke-width="0.8"/>
<polygon points="731.9,652.3 733.9,654.3 731.9,656.3 729.9,654.3" fill="#e9a060" stroke="#d4502c" stroke-width="0.8"/>
<polygon points="749.8,654.6 751.8,656.6 749.8,658.6 747.8,656.6" fill="#e9a060" stroke="#d4502c" stroke-width="0.8"/>
<polygon points="717.0,654.8 719.0,656.8 717.0,658.8 715.0,656.8" fill="#e9a060" stroke="#d4502c" stroke-width="0.8"/>
<polygon points="720.7,658.3 722.7,660.3 720.7,662.3 718.7,660.3" fill="#e9a060" stroke="#d4502c" stroke-width="0.8"/>
<polygon points="712.0,662.9 714.0,664.9 712.0,666.9 710.0,664.9" fill="#e9a060" stroke="#d4502c" stroke-width="0.8"/>
<polygon points="682.3,664.7 684.3,666.7 682.3,668.7 680.3,666.7" fill="#e9a060" stroke="#d4502c" stroke-width="0.8"/>
<polygon points="731.9,667.5 733.9,669.5 731.9,671.5 729.9,669.5" fill="#e9a060" stroke="#d4502c" stroke-width="0.8"/>
<polygon points="702.1,669.4 704.1,671.4 702.1,673.4 700.1,671.4" fill="#e9a060" stroke="#d4502c" stroke-width="0.8"/>
<polygon points="712.0,671.6 714.0,673.6 712.0,675.6 710.0,673.6" fill="#e9a060" stroke="#d4502c" stroke-width="0.8"/>
<polygon points="679.8,674.4 681.8,676.4 679.8,678.4 677.8,676.4" fill="#e9a060" stroke="#d4502c" stroke-width="0.8"/>
<polygon points="714.5,676.0 716.5,678.0 714.5,680.0 712.5,678.0" fill="#e9a060" stroke="#d4502c" stroke-width="0.8"/>
<polygon points="692.2,677.9 694.2,679.9 692.2,681.9 690.2,679.9" fill="#e9a060" stroke="#d4502c" stroke-width="0.8"/>
<polygon points="683.5,679.8 685.5,681.8 683.5,683.8 681.5,681.8" fill="#e9a060" stroke="#d4502c" stroke-width="0.8"/>
<polygon points="702.1,681.4 704.1,683.4 702.1,685.4 700.1,683.4" fill="#e9a060" stroke="#d4502c" stroke-width="0.8"/>
<polygon points="735.6,683.1 737.6,685.1 735.6,687.1 733.6,685.1" fill="#e9a060" stroke="#d4502c" stroke-width="0.8"/>
<polygon points="709.6,684.7 711.6,686.7 709.6,688.7 707.6,686.7" fill="#e9a060" stroke="#d4502c" stroke-width="0.8"/>
<polygon points="726.9,687.2 728.9,689.2 726.9,691.2 724.9,689.2" fill="#e9a060" stroke="#d4502c" stroke-width="0.8"/>
<polygon points="718.2,689.1 720.2,691.1 718.2,693.1 716.2,691.1" fill="#e9a060" stroke="#d4502c" stroke-width="0.8"/>
<polygon points="723.2,690.9 725.2,692.9 723.2,694.9 721.2,692.9" fill="#e9a060" stroke="#d4502c" stroke-width="0.8"/>
<polygon points="730.6,694.0 732.6,696.0 730.6,698.0 728.6,696.0" fill="#e9a060" stroke="#d4502c" stroke-width="0.8"/>
<polygon points="707.1,699.0 709.1,701.0 707.1,703.0 705.1,701.0" fill="#e9a060" stroke="#d4502c" stroke-width="0.8"/>
<polygon points="725.7,700.5 727.7,702.5 725.7,704.5 723.7,702.5" fill="#e9a060" stroke="#d4502c" stroke-width="0.8"/>
<polygon points="735.6,701.7 737.6,703.7 735.6,705.7 733.6,703.7" fill="#e9a060" stroke="#d4502c" stroke-width="0.8"/>
<polygon points="717.0,705.2 719.0,707.2 717.0,709.2 715.0,707.2" fill="#e9a060" stroke="#d4502c" stroke-width="0.8"/>
<polygon points="722.0,707.4 724.0,709.4 722.0,711.4 720.0,709.4" fill="#e9a060" stroke="#d4502c" stroke-width="0.8"/>
<polygon points="712.0,709.5 714.0,711.5 712.0,713.5 710.0,711.5" fill="#e9a060" stroke="#d4502c" stroke-width="0.8"/>
<polygon points="725.7,711.4 727.7,713.4 725.7,715.4 723.7,713.4" fill="#e9a060" stroke="#d4502c" stroke-width="0.8"/>
<polygon points="734.3,712.4 736.3,714.4 734.3,716.4 732.3,714.4" fill="#e9a060" stroke="#d4502c" stroke-width="0.8"/>
<polygon points="695.9,718.8 697.9,720.8 695.9,722.8 693.9,720.8" fill="#e9a060" stroke="#d4502c" stroke-width="0.8"/>
<polygon points="709.6,721.0 711.6,723.0 709.6,725.0 707.6,723.0" fill="#e9a060" stroke="#d4502c" stroke-width="0.8"/>
<polygon points="749.2,724.4 751.2,726.4 749.2,728.4 747.2,726.4" fill="#e9a060" stroke="#d4502c" stroke-width="0.8"/>
<polygon points="726.9,726.2 728.9,728.2 726.9,730.2 724.9,728.2" fill="#e9a060" stroke="#d4502c" stroke-width="0.8"/>
<polygon points="705.8,729.0 707.8,731.0 705.8,733.0 703.8,731.0" fill="#e9a060" stroke="#d4502c" stroke-width="0.8"/>
<polygon points="720.7,729.3 722.7,731.3 720.7,733.3 718.7,731.3" fill="#e9a060" stroke="#d4502c" stroke-width="0.8"/>
<polygon points="745.5,731.8 747.5,733.8 745.5,735.8 743.5,733.8" fill="#e9a060" stroke="#d4502c" stroke-width="0.8"/>
<polygon points="739.3,734.9 741.3,736.9 739.3,738.9 737.3,736.9" fill="#e9a060" stroke="#d4502c" stroke-width="0.8"/>
<polygon points="744.3,739.2 746.3,741.2 744.3,743.2 742.3,741.2" fill="#e9a060" stroke="#d4502c" stroke-width="0.8"/>
<polygon points="740.5,741.1 742.5,743.1 740.5,745.1 738.5,743.1" fill="#e9a060" stroke="#d4502c" stroke-width="0.8"/>
<polygon points="726.9,743.6 728.9,745.6 726.9,747.6 724.9,745.6" fill="#e9a060" stroke="#d4502c" stroke-width="0.8"/>
<polygon points="702.1,745.2 704.3,747.4 702.1,749.6 699.9,747.4" fill="#c9b0a0" stroke="#cc5a5a" stroke-width="0.8"/>
<polygon points="733.8,746.7 736.0,748.9 733.8,751.1 731.6,748.9" fill="#c9b0a0" stroke="#cc5a5a" stroke-width="0.8"/>
<polygon points="709.0,748.1 711.2,750.3 709.0,752.5 706.8,750.3" fill="#c9b0a0" stroke="#cc5a5a" stroke-width="0.8"/>
<polygon points="701.1,750.1 703.3,752.3 701.1,754.5 698.9,752.3" fill="#c9b0a0" stroke="#cc5a5a" stroke-width="0.8"/>
<polygon points="715.0,752.1 717.2,754.3 715.0,756.5 712.8,754.3" fill="#c9b0a0" stroke="#cc5a5a" stroke-width="0.8"/>
<polygon points="699.1,753.7 701.3,755.9 699.1,758.1 696.9,755.9" fill="#c9b0a0" stroke="#cc5a5a" stroke-width="0.8"/>
<polygon points="720.9,756.6 723.1,758.8 720.9,761.0 718.7,758.8" fill="#e2242a" stroke="#cc5a5a" stroke-width="0.8"/>
<polygon points="714.0,759.6 716.2,761.8 714.0,764.0 711.8,761.8" fill="#c9b0a0" stroke="#cc5a5a" stroke-width="0.8"/>
<polygon points="719.9,762.6 722.1,764.8 719.9,767.0 717.7,764.8" fill="#c9b0a0" stroke="#cc5a5a" stroke-width="0.8"/>
<polygon points="714.0,764.0 716.2,766.2 714.0,768.4 711.8,766.2" fill="#c9b0a0" stroke="#cc5a5a" stroke-width="0.8"/>
<polygon points="728.9,767.1 731.1,769.3 728.9,771.5 726.7,769.3" fill="#c9b0a0" stroke="#cc5a5a" stroke-width="0.8"/>
<polygon points="702.1,768.5 704.3,770.7 702.1,772.9 699.9,770.7" fill="#c9b0a0" stroke="#cc5a5a" stroke-width="0.8"/>
<polygon points="707.1,770.5 709.3,772.7 707.1,774.9 704.9,772.7" fill="#f0c040" stroke="#cc5a5a" stroke-width="0.8"/>
<polygon points="728.9,772.5 731.1,774.7 728.9,776.9 726.7,774.7" fill="#c9b0a0" stroke="#cc5a5a" stroke-width="0.8"/>
<polygon points="720.9,773.5 723.1,775.7 720.9,777.9 718.7,775.7" fill="#e2242a" stroke="#cc5a5a" stroke-width="0.8"/>
<polygon points="717.0,777.5 719.2,779.7 717.0,781.9 714.8,779.7" fill="#c9b0a0" stroke="#cc5a5a" stroke-width="0.8"/>
<polygon points="693.2,779.4 695.4,781.6 693.2,783.8 691.0,781.6" fill="#c9b0a0" stroke="#cc5a5a" stroke-width="0.8"/>
<polygon points="707.1,780.4 709.3,782.6 707.1,784.8 704.9,782.6" fill="#c9b0a0" stroke="#cc5a5a" stroke-width="0.8"/>
<polygon points="736.8,780.4 739.0,782.6 736.8,784.8 734.6,782.6" fill="#e2242a" stroke="#cc5a5a" stroke-width="0.8"/>
<polygon points="702.1,783.0 704.3,785.2 702.1,787.4 699.9,785.2" fill="#c9b0a0" stroke="#cc5a5a" stroke-width="0.8"/>
<polygon points="722.9,783.4 725.1,785.6 722.9,787.8 720.7,785.6" fill="#c9b0a0" stroke="#cc5a5a" stroke-width="0.8"/>
<polygon points="715.0,787.4 717.2,789.6 715.0,791.8 712.8,789.6" fill="#f0c040" stroke="#cc5a5a" stroke-width="0.8"/>
<polygon points="697.1,790.3 699.3,792.5 697.1,794.7 694.9,792.5" fill="#c9b0a0" stroke="#cc5a5a" stroke-width="0.8"/>
<polygon points="725.9,790.9 728.1,793.1 725.9,795.3 723.7,793.1" fill="#c9b0a0" stroke="#cc5a5a" stroke-width="0.8"/>
<polygon points="738.8,792.3 741.0,794.5 738.8,796.7 736.6,794.5" fill="#c9b0a0" stroke="#cc5a5a" stroke-width="0.8"/>
<polygon points="697.1,793.7 699.3,795.9 697.1,798.1 694.9,795.9" fill="#c9b0a0" stroke="#cc5a5a" stroke-width="0.8"/>
<polygon points="632.7,794.9 634.9,797.1 632.7,799.3 630.5,797.1" fill="#c9b0a0" stroke="#cc5a5a" stroke-width="0.8"/>
<polygon points="677.3,795.3 679.5,797.5 677.3,799.7 675.1,797.5" fill="#c9b0a0" stroke="#cc5a5a" stroke-width="0.8"/>
<polygon points="691.2,797.3 693.4,799.5 691.2,801.7 689.0,799.5" fill="#c9b0a0" stroke="#cc5a5a" stroke-width="0.8"/>
<polygon points="689.2,800.8 691.4,803.0 689.2,805.2 687.0,803.0" fill="#c9b0a0" stroke="#cc5a5a" stroke-width="0.8"/>
<polygon points="667.4,802.2 669.6,804.4 667.4,806.6 665.2,804.4" fill="#c9b0a0" stroke="#cc5a5a" stroke-width="0.8"/>
<polygon points="686.2,805.6 688.4,807.8 686.2,810.0 684.0,807.8" fill="#c9b0a0" stroke="#cc5a5a" stroke-width="0.8"/>
<polygon points="710.0,804.8 712.2,807.0 710.0,809.2 707.8,807.0" fill="#c9b0a0" stroke="#cc5a5a" stroke-width="0.8"/>
<polygon points="616.9,806.8 619.1,809.0 616.9,811.2 614.7,809.0" fill="#c9b0a0" stroke="#cc5a5a" stroke-width="0.8"/>
<polygon points="671.4,809.2 673.6,811.4 671.4,813.6 669.2,811.4" fill="#c9b0a0" stroke="#cc5a5a" stroke-width="0.8"/>
<polygon points="732.8,812.8 735.0,815.0 732.8,817.2 730.6,815.0" fill="#c9b0a0" stroke="#cc5a5a" stroke-width="0.8"/>
<polygon points="672.4,815.1 674.6,817.3 672.4,819.5 670.2,817.3" fill="#c9b0a0" stroke="#cc5a5a" stroke-width="0.8"/>
<polygon points="681.3,818.1 683.5,820.3 681.3,822.5 679.1,820.3" fill="#c9b0a0" stroke="#cc5a5a" stroke-width="0.8"/>
<polygon points="617.8,819.7 620.0,821.9 617.8,824.1 615.6,821.9" fill="#c9b0a0" stroke="#cc5a5a" stroke-width="0.8"/>
<polygon points="453.6,826.3 455.8,828.5 453.6,830.7 451.4,828.5" fill="#c9b0a0" stroke="#cc5a5a" stroke-width="0.8"/>
<polygon points="474.2,825.1 476.4,827.3 474.2,829.5 472.0,827.3" fill="#c9b0a0" stroke="#cc5a5a" stroke-width="0.8"/>
<polygon points="490.8,823.8 493.0,826.0 490.8,828.2 488.6,826.0" fill="#c9b0a0" stroke="#cc5a5a" stroke-width="0.8"/>
<polygon points="499.5,827.0 501.7,829.2 499.5,831.4 497.3,829.2" fill="#c9b0a0" stroke="#cc5a5a" stroke-width="0.8"/>
<polygon points="507.4,823.1 509.6,825.3 507.4,827.5 505.2,825.3" fill="#c9b0a0" stroke="#cc5a5a" stroke-width="0.8"/>
<polygon points="680.3,818.9 682.5,821.1 680.3,823.3 678.1,821.1" fill="#c9b0a0" stroke="#cc5a5a" stroke-width="0.8"/>
<polygon points="687.0,833.2 689.0,835.2 687.0,837.2 685.0,835.2" fill="#e8d090" stroke="#d8502a" stroke-width="0.8"/>
<polygon points="700.0,831.4 702.0,833.4 700.0,835.4 698.0,833.4" fill="#e8d090" stroke="#d8502a" stroke-width="0.8"/>
<polygon points="712.6,837.6 714.6,839.6 712.6,841.6 710.6,839.6" fill="#e8d090" stroke="#d8502a" stroke-width="0.8"/>
<polygon points="723.1,835.4 725.1,837.4 723.1,839.4 721.1,837.4" fill="#e8d090" stroke="#d8502a" stroke-width="0.8"/>
<polygon points="727.1,839.2 729.1,841.2 727.1,843.2 725.1,841.2" fill="#e8d090" stroke="#d8502a" stroke-width="0.8"/>
<polygon points="765.1,839.2 767.1,841.2 765.1,843.2 763.1,841.2" fill="#e8d090" stroke="#d8502a" stroke-width="0.8"/>
<polygon points="723.8,841.4 725.8,843.4 723.8,845.4 721.8,843.4" fill="#e8d090" stroke="#d8502a" stroke-width="0.8"/>
<polygon points="691.5,842.1 693.5,844.1 691.5,846.1 689.5,844.1" fill="#e8d090" stroke="#d8502a" stroke-width="0.8"/>
<polygon points="716.0,845.9 718.0,847.9 716.0,849.9 714.0,847.9" fill="#e8d090" stroke="#d8502a" stroke-width="0.8"/>
<polygon points="702.6,853.7 704.6,855.7 702.6,857.7 700.6,855.7" fill="#e8d090" stroke="#d8502a" stroke-width="0.8"/>
<polygon points="697.0,857.7 699.0,859.7 697.0,861.7 695.0,859.7" fill="#e8d090" stroke="#d8502a" stroke-width="0.8"/>
<polygon points="690.3,861.5 692.3,863.5 690.3,865.5 688.3,863.5" fill="#e8d090" stroke="#d8502a" stroke-width="0.8"/>
<polygon points="698.1,863.7 700.1,865.7 698.1,867.7 696.1,865.7" fill="#e8d090" stroke="#d8502a" stroke-width="0.8"/>
<polygon points="699.3,867.1 701.3,869.1 699.3,871.1 697.3,869.1" fill="#e8d090" stroke="#d8502a" stroke-width="0.8"/>
<polygon points="691.5,872.7 693.5,874.7 691.5,876.7 689.5,874.7" fill="#e8d090" stroke="#d8502a" stroke-width="0.8"/>
<polygon points="695.9,877.1 697.9,879.1 695.9,881.1 693.9,879.1" fill="#e8d090" stroke="#d8502a" stroke-width="0.8"/>
<polygon points="719.3,884.9 721.3,886.9 719.3,888.9 717.3,886.9" fill="#e8d090" stroke="#d8502a" stroke-width="0.8"/>
<polygon points="700.4,889.4 702.4,891.4 700.4,893.4 698.4,891.4" fill="#e8d090" stroke="#d8502a" stroke-width="0.8"/>
<polygon points="708.2,890.5 710.2,892.5 708.2,894.5 706.2,892.5" fill="#e8d090" stroke="#d8502a" stroke-width="0.8"/>
<polygon points="690.3,893.4 692.3,895.4 690.3,897.4 688.3,895.4" fill="#e8d090" stroke="#d8502a" stroke-width="0.8"/>
<polygon points="712.6,894.3 714.6,896.3 712.6,898.3 710.6,896.3" fill="#e8d090" stroke="#d8502a" stroke-width="0.8"/>
<polygon points="722.2,895.6 724.2,897.6 722.2,899.6 720.2,897.6" fill="#e8d090" stroke="#d8502a" stroke-width="0.8"/>
<polygon points="727.6,896.5 729.6,898.5 727.6,900.5 725.6,898.5" fill="#e8d090" stroke="#d8502a" stroke-width="0.8"/>
<polygon points="736.1,898.3 738.1,900.3 736.1,902.3 734.1,900.3" fill="#e8d090" stroke="#d8502a" stroke-width="0.8"/>
<polygon points="727.1,901.0 729.1,903.0 727.1,905.0 725.1,903.0" fill="#e8d090" stroke="#d8502a" stroke-width="0.8"/>
<polygon points="731.6,906.1 733.6,908.1 731.6,910.1 729.6,908.1" fill="#e8d090" stroke="#d8502a" stroke-width="0.8"/>
<polygon points="720.5,914.4 722.5,916.4 720.5,918.4 718.5,916.4" fill="#e8d090" stroke="#d8502a" stroke-width="0.8"/>
<polygon points="748.2,915.1 749.9,916.8 748.2,918.5 746.5,916.8" fill="#e87050" stroke="#c8402a" stroke-width="0.8"/>
<polygon points="739.6,918.5 741.3,920.2 739.6,921.9 737.9,920.2" fill="#e87050" stroke="#c8402a" stroke-width="0.8"/>
<polygon points="754.4,920.7 756.1,922.4 754.4,924.1 752.7,922.4" fill="#e87050" stroke="#c8402a" stroke-width="0.8"/>
<polygon points="761.9,921.3 763.6,923.0 761.9,924.7 760.2,923.0" fill="#e87050" stroke="#c8402a" stroke-width="0.8"/>
<polygon points="766.8,921.9 768.5,923.6 766.8,925.3 765.1,923.6" fill="#e87050" stroke="#c8402a" stroke-width="0.8"/>
<polygon points="770.5,923.8 772.2,925.5 770.5,927.2 768.8,925.5" fill="#e87050" stroke="#c8402a" stroke-width="0.8"/>
<polygon points="776.7,924.4 778.4,926.1 776.7,927.8 775.0,926.1" fill="#e87050" stroke="#c8402a" stroke-width="0.8"/>
<polygon points="774.3,926.9 776.0,928.6 774.3,930.3 772.6,928.6" fill="#e87050" stroke="#c8402a" stroke-width="0.8"/>
<polygon points="766.8,930.6 768.5,932.3 766.8,934.0 765.1,932.3" fill="#e87050" stroke="#c8402a" stroke-width="0.8"/>
<polygon points="759.4,933.7 761.1,935.4 759.4,937.1 757.7,935.4" fill="#e87050" stroke="#c8402a" stroke-width="0.8"/>
<polygon points="781.7,935.8 783.4,937.5 781.7,939.2 780.0,937.5" fill="#e87050" stroke="#c8402a" stroke-width="0.8"/>
<polygon points="774.3,938.0 776.0,939.7 774.3,941.4 772.6,939.7" fill="#e87050" stroke="#c8402a" stroke-width="0.8"/>
<polygon points="752.6,939.0 754.3,940.7 752.6,942.4 750.9,940.7" fill="#e87050" stroke="#c8402a" stroke-width="0.8"/>
<polygon points="776.7,953.5 778.4,955.2 776.7,956.9 775.0,955.2" fill="#e87050" stroke="#c8402a" stroke-width="0.8"/>
<polygon points="781.7,953.9 783.4,955.6 781.7,957.3 780.0,955.6" fill="#e87050" stroke="#c8402a" stroke-width="0.8"/>
<polygon points="769.3,957.2 771.0,958.9 769.3,960.6 767.6,958.9" fill="#e87050" stroke="#c8402a" stroke-width="0.8"/>
<polygon points="776.7,961.0 778.4,962.7 776.7,964.4 775.0,962.7" fill="#e87050" stroke="#c8402a" stroke-width="0.8"/>
<polygon points="782.3,964.7 784.0,966.4 782.3,968.1 780.6,966.4" fill="#e87050" stroke="#c8402a" stroke-width="0.8"/>
<polygon points="770.5,970.3 772.2,972.0 770.5,973.7 768.8,972.0" fill="#e87050" stroke="#c8402a" stroke-width="0.8"/>
<polygon points="764.4,975.8 766.1,977.5 764.4,979.2 762.7,977.5" fill="#e87050" stroke="#c8402a" stroke-width="0.8"/>
<polygon points="764.4,979.6 766.1,981.3 764.4,983.0 762.7,981.3" fill="#e87050" stroke="#c8402a" stroke-width="0.8"/>
<polygon points="779.2,983.9 780.9,985.6 779.2,987.3 777.5,985.6" fill="#e87050" stroke="#c8402a" stroke-width="0.8"/>
<polygon points="771.8,987.6 773.5,989.3 771.8,991.0 770.1,989.3" fill="#e87050" stroke="#c8402a" stroke-width="0.8"/>
<polygon points="779.2,990.7 780.9,992.4 779.2,994.1 777.5,992.4" fill="#e87050" stroke="#c8402a" stroke-width="0.8"/>
<polygon points="769.3,993.8 771.0,995.5 769.3,997.2 767.6,995.5" fill="#e87050" stroke="#c8402a" stroke-width="0.8"/>
<polygon points="782.9,996.9 784.6,998.6 782.9,1000.3 781.2,998.6" fill="#e87050" stroke="#c8402a" stroke-width="0.8"/>
<polygon points="774.3,1000.6 776.0,1002.3 774.3,1004.0 772.6,1002.3" fill="#e87050" stroke="#c8402a" stroke-width="0.8"/>
<polygon points="782.9,1003.3 784.6,1005.0 782.9,1006.7 781.2,1005.0" fill="#e87050" stroke="#c8402a" stroke-width="0.8"/>
<polygon points="776.7,1005.1 778.4,1006.8 776.7,1008.5 775.0,1006.8" fill="#e87050" stroke="#c8402a" stroke-width="0.8"/>
<polygon points="781.7,1007.6 783.4,1009.3 781.7,1011.0 780.0,1009.3" fill="#e87050" stroke="#c8402a" stroke-width="0.8"/>
<polygon points="765.6,1010.1 767.3,1011.8 765.6,1013.5 763.9,1011.8" fill="#e87050" stroke="#c8402a" stroke-width="0.8"/>
<polygon points="776.7,1016.3 778.4,1018.0 776.7,1019.7 775.0,1018.0" fill="#e87050" stroke="#c8402a" stroke-width="0.8"/>
<polygon points="779.2,1019.4 780.9,1021.1 779.2,1022.8 777.5,1021.1" fill="#e87050" stroke="#c8402a" stroke-width="0.8"/>
<polygon points="786.7,1024.3 788.4,1026.0 786.7,1027.7 785.0,1026.0" fill="#e87050" stroke="#c8402a" stroke-width="0.8"/>
<polygon points="781.7,1027.4 783.4,1029.1 781.7,1030.8 780.0,1029.1" fill="#e87050" stroke="#c8402a" stroke-width="0.8"/>
<polygon points="774.3,1034.9 776.0,1036.6 774.3,1038.3 772.6,1036.6" fill="#e87050" stroke="#c8402a" stroke-width="0.8"/>
<polygon points="781.7,1039.8 783.4,1041.5 781.7,1043.2 780.0,1041.5" fill="#e87050" stroke="#c8402a" stroke-width="0.8"/>
<polygon points="774.3,1044.1 776.0,1045.8 774.3,1047.5 772.6,1045.8" fill="#e87050" stroke="#c8402a" stroke-width="0.8"/>
<polygon points="759.4,1049.1 761.1,1050.8 759.4,1052.5 757.7,1050.8" fill="#e87050" stroke="#c8402a" stroke-width="0.8"/>
<polygon points="775.5,1062.7 777.2,1064.4 775.5,1066.1 773.8,1064.4" fill="#e87050" stroke="#c8402a" stroke-width="0.8"/>
<polygon points="736.5,1065.2 738.2,1066.9 736.5,1068.6 734.8,1066.9" fill="#e87050" stroke="#c8402a" stroke-width="0.8"/>
<polygon points="760.6,1066.5 762.3,1068.2 760.6,1069.9 758.9,1068.2" fill="#e87050" stroke="#c8402a" stroke-width="0.8"/>
<polygon points="764.4,1068.9 766.1,1070.6 764.4,1072.3 762.7,1070.6" fill="#e87050" stroke="#c8402a" stroke-width="0.8"/>
<polygon points="753.2,1071.4 754.9,1073.1 753.2,1074.8 751.5,1073.1" fill="#e87050" stroke="#c8402a" stroke-width="0.8"/>
<polygon points="740.8,1073.3 742.5,1075.0 740.8,1076.7 739.1,1075.0" fill="#e87050" stroke="#c8402a" stroke-width="0.8"/>
<polygon points="718.5,1075.1 720.2,1076.8 718.5,1078.5 716.8,1076.8" fill="#e87050" stroke="#c8402a" stroke-width="0.8"/>
<polygon points="729.7,1073.3 731.4,1075.0 729.7,1076.7 728.0,1075.0" fill="#e87050" stroke="#c8402a" stroke-width="0.8"/>
<polygon points="742.0,1076.4 743.7,1078.1 742.0,1079.8 740.3,1078.1" fill="#e87050" stroke="#c8402a" stroke-width="0.8"/>
<polygon points="744.5,1079.5 746.2,1081.2 744.5,1082.9 742.8,1081.2" fill="#e87050" stroke="#c8402a" stroke-width="0.8"/>
<polygon points="735.8,1078.8 737.5,1080.5 735.8,1082.2 734.1,1080.5" fill="#e87050" stroke="#c8402a" stroke-width="0.8"/>
<polygon points="735.8,1083.8 737.5,1085.5 735.8,1087.2 734.1,1085.5" fill="#e87050" stroke="#c8402a" stroke-width="0.8"/>
<polygon points="620.6,1084.6 622.8,1086.8 620.6,1089.0 618.4,1086.8" fill="#f0c040" stroke="#d0602a" stroke-width="0.7"/>
<polygon points="591.9,1087.3 593.9,1089.3 591.9,1091.3 589.9,1089.3" fill="#f0c040" stroke="#d0602a" stroke-width="0.7"/>
<polygon points="699.0,1082.6 701.0,1084.6 699.0,1086.6 697.0,1084.6" fill="#e9a7a0" stroke="#c0504a" stroke-width="0.7"/>
<polygon points="656.3,1088.1 658.3,1090.1 656.3,1092.1 654.3,1090.1" fill="#e9a7a0" stroke="#c0504a" stroke-width="0.7"/>
<polygon points="668.2,1086.2 670.2,1088.2 668.2,1090.2 666.2,1088.2" fill="#e9a7a0" stroke="#c0504a" stroke-width="0.7"/>
<polygon points="724.3,1089.1 726.3,1091.1 724.3,1093.1 722.3,1091.1" fill="#e9a7a0" stroke="#c0504a" stroke-width="0.7"/>
<line x1="489.40" y1="161.00" x2="800.60" y2="161.00" stroke="#444" stroke-width="1.0" />
<line x1="490.20" y1="153.40" x2="490.20" y2="161.00" stroke="#444" stroke-width="1.0" />
<text x="488.39" y="148.90" text-anchor="middle" font-size="12" fill="#3a3a3a" letter-spacing="0.029" >-14</text>
<line x1="498.83" y1="157.80" x2="498.83" y2="161.00" stroke="#444" stroke-width="0.8" />
<line x1="507.45" y1="157.80" x2="507.45" y2="161.00" stroke="#444" stroke-width="0.8" />
<line x1="516.08" y1="157.80" x2="516.08" y2="161.00" stroke="#444" stroke-width="0.8" />
<line x1="524.70" y1="153.40" x2="524.70" y2="161.00" stroke="#444" stroke-width="1.0" />
<text x="522.89" y="148.90" text-anchor="middle" font-size="12" fill="#3a3a3a" letter-spacing="0.029" >-12</text>
<line x1="533.33" y1="157.80" x2="533.33" y2="161.00" stroke="#444" stroke-width="0.8" />
<line x1="541.95" y1="157.80" x2="541.95" y2="161.00" stroke="#444" stroke-width="0.8" />
<line x1="550.58" y1="157.80" x2="550.58" y2="161.00" stroke="#444" stroke-width="0.8" />
<line x1="559.20" y1="153.40" x2="559.20" y2="161.00" stroke="#444" stroke-width="1.0" />
<text x="557.39" y="148.90" text-anchor="middle" font-size="12" fill="#3a3a3a" letter-spacing="0.029" >-10</text>
<line x1="567.83" y1="157.80" x2="567.83" y2="161.00" stroke="#444" stroke-width="0.8" />
<line x1="576.45" y1="157.80" x2="576.45" y2="161.00" stroke="#444" stroke-width="0.8" />
<line x1="585.08" y1="157.80" x2="585.08" y2="161.00" stroke="#444" stroke-width="0.8" />
<line x1="593.70" y1="153.40" x2="593.70" y2="161.00" stroke="#444" stroke-width="1.0" />
<text x="591.23" y="148.90" text-anchor="middle" font-size="12" fill="#3a3a3a" letter-spacing="1.331" >-8</text>
<line x1="602.33" y1="157.80" x2="602.33" y2="161.00" stroke="#444" stroke-width="0.8" />
<line x1="610.95" y1="157.80" x2="610.95" y2="161.00" stroke="#444" stroke-width="0.8" />
<line x1="619.58" y1="157.80" x2="619.58" y2="161.00" stroke="#444" stroke-width="0.8" />
<line x1="628.20" y1="153.40" x2="628.20" y2="161.00" stroke="#444" stroke-width="1.0" />
<text x="625.73" y="148.90" text-anchor="middle" font-size="12" fill="#3a3a3a" letter-spacing="1.331" >-6</text>
<line x1="636.83" y1="157.80" x2="636.83" y2="161.00" stroke="#444" stroke-width="0.8" />
<line x1="645.45" y1="157.80" x2="645.45" y2="161.00" stroke="#444" stroke-width="0.8" />
<line x1="654.08" y1="157.80" x2="654.08" y2="161.00" stroke="#444" stroke-width="0.8" />
<line x1="662.70" y1="153.40" x2="662.70" y2="161.00" stroke="#444" stroke-width="1.0" />
<text x="660.23" y="148.90" text-anchor="middle" font-size="12" fill="#3a3a3a" letter-spacing="1.331" >-4</text>
<line x1="671.33" y1="157.80" x2="671.33" y2="161.00" stroke="#444" stroke-width="0.8" />
<line x1="679.95" y1="157.80" x2="679.95" y2="161.00" stroke="#444" stroke-width="0.8" />
<line x1="688.58" y1="157.80" x2="688.58" y2="161.00" stroke="#444" stroke-width="0.8" />
<line x1="697.20" y1="153.40" x2="697.20" y2="161.00" stroke="#444" stroke-width="1.0" />
<text x="694.73" y="148.90" text-anchor="middle" font-size="12" fill="#3a3a3a" letter-spacing="1.331" >-2</text>
<line x1="705.83" y1="157.80" x2="705.83" y2="161.00" stroke="#444" stroke-width="0.8" />
<line x1="714.45" y1="157.80" x2="714.45" y2="161.00" stroke="#444" stroke-width="0.8" />
<line x1="723.08" y1="157.80" x2="723.08" y2="161.00" stroke="#444" stroke-width="0.8" />
<line x1="731.70" y1="153.40" x2="731.70" y2="161.00" stroke="#444" stroke-width="1.0" />
<text x="731.79" y="148.90" text-anchor="middle" font-size="12" fill="#3a3a3a" letter-spacing="-0.173" >0</text>
<line x1="740.33" y1="157.80" x2="740.33" y2="161.00" stroke="#444" stroke-width="0.8" />
<line x1="748.95" y1="157.80" x2="748.95" y2="161.00" stroke="#444" stroke-width="0.8" />
<line x1="757.58" y1="157.80" x2="757.58" y2="161.00" stroke="#444" stroke-width="0.8" />
<line x1="766.20" y1="153.40" x2="766.20" y2="161.00" stroke="#444" stroke-width="1.0" />
<text x="766.29" y="148.90" text-anchor="middle" font-size="12" fill="#3a3a3a" letter-spacing="-0.173" >2</text>
<line x1="774.83" y1="157.80" x2="774.83" y2="161.00" stroke="#444" stroke-width="0.8" />
<line x1="783.45" y1="157.80" x2="783.45" y2="161.00" stroke="#444" stroke-width="0.8" />
<line x1="792.08" y1="157.80" x2="792.08" y2="161.00" stroke="#444" stroke-width="0.8" />
<line x1="800.70" y1="153.40" x2="800.70" y2="161.00" stroke="#444" stroke-width="1.0" />
<text x="800.79" y="148.90" text-anchor="middle" font-size="12" fill="#3a3a3a" letter-spacing="-0.173" >4</text>
<line x1="731.70" y1="161.00" x2="731.70" y2="1102.00" stroke="#5a5a5a" stroke-width="0.8" />
<text x="733.50" y="166.50" text-anchor="start" font-size="4.5" fill="#777" letter-spacing="0" >100</text>
<text x="558.60" y="207.30" text-anchor="start" font-size="20" fill="#dc3540" letter-spacing="0.123" >Hillian</text>
<text x="556.20" y="239.90" text-anchor="start" font-size="20" fill="#dc3540" letter-spacing="-0.096" >Shelfian</text>
<text x="553.00" y="270.70" text-anchor="start" font-size="20" fill="#dc3540" letter-spacing="0.565" >Towrian</text>
<text transform="translate(571.20,421.96) rotate(-90)" text-anchor="middle" dominant-baseline="central" font-size="20.2" fill="#dc3540" letter-spacing="0.525" >Stickian</text>
<text transform="translate(571.20,653.31) rotate(-90)" text-anchor="middle" dominant-baseline="central" font-size="20.2" fill="#dc3540" letter-spacing="0.628" >Zigzagian</text>
<text transform="translate(571.20,779.97) rotate(-90)" text-anchor="middle" dominant-baseline="central" font-size="20.2" fill="#dc3540" letter-spacing="0.54" >Chairian</text>
<text transform="translate(571.50,879.79) rotate(-90)" text-anchor="middle" dominant-baseline="central" font-size="20.2" fill="#dc3540" letter-spacing="0.582" >Rabbitian</text>
<text transform="translate(571.50,999.82) rotate(-90)" text-anchor="middle" dominant-baseline="central" font-size="20.2" fill="#dc3540" letter-spacing="0.448" >Boxian</text>
<text x="475.30" y="1080.70" text-anchor="start" font-size="15" fill="#dc3540" letter-spacing="0.995" >Dampingian</text>
<text x="478.00" y="1096.00" text-anchor="start" font-size="15" fill="#dc3540" letter-spacing="0.81" >Angularian</text>
<line x1="541.60" y1="182.80" x2="541.60" y2="224.50" stroke="#333" stroke-width="0.9" />
<polygon points="536.6,188.8 546.6,188.8 541.6,179.8" fill="#1a1a1a"/>
<polygon points="536.6,218.5 546.6,218.5 541.6,227.5" fill="#1a1a1a"/>
<line x1="541.60" y1="242.80" x2="541.60" y2="292.40" stroke="#333" stroke-width="0.9" />
<polygon points="536.6,248.8 546.6,248.8 541.6,239.8" fill="#1a1a1a"/>
<polygon points="536.6,286.4 546.6,286.4 541.6,295.4" fill="#1a1a1a"/>
<line x1="541.60" y1="300.60" x2="541.60" y2="578.50" stroke="#333" stroke-width="0.9" />
<polygon points="536.6,306.6 546.6,306.6 541.6,297.6" fill="#1a1a1a"/>
<polygon points="536.6,572.5 546.6,572.5 541.6,581.5" fill="#1a1a1a"/>
<line x1="541.60" y1="586.60" x2="541.60" y2="743.80" stroke="#333" stroke-width="0.9" />
<polygon points="536.6,592.6 546.6,592.6 541.6,583.6" fill="#1a1a1a"/>
<polygon points="536.6,737.8 546.6,737.8 541.6,746.8" fill="#1a1a1a"/>
<line x1="541.60" y1="752.00" x2="541.60" y2="824.50" stroke="#333" stroke-width="0.9" />
<polygon points="536.6,758.0 546.6,758.0 541.6,749.0" fill="#1a1a1a"/>
<polygon points="536.6,818.5 546.6,818.5 541.6,827.5" fill="#1a1a1a"/>
<line x1="541.60" y1="833.00" x2="541.60" y2="913.00" stroke="#333" stroke-width="0.9" />
<polygon points="536.6,839.0 546.6,839.0 541.6,830.0" fill="#1a1a1a"/>
<polygon points="536.6,907 546.6,907 541.6,916" fill="#1a1a1a"/>
<line x1="541.60" y1="921.20" x2="541.60" y2="1076.60" stroke="#333" stroke-width="0.9" />
<polygon points="536.6,927.2 546.6,927.2 541.6,918.2" fill="#1a1a1a"/>
<polygon points="536.6,1070.6 546.6,1070.6 541.6,1079.6" fill="#1a1a1a"/>
<rect x="731.7" y="239.6" width="25.0" height="52.70000000000002" fill="none" stroke="#333" stroke-width="0.9" stroke-dasharray="1.3,1.3"/>
<text x="762.00" y="273.50" text-anchor="start" font-size="14" fill="#3a3a3a" letter-spacing="0" >c</text>
<rect x="696" y="225.4" width="12.299999999999955" height="10.799999999999983" fill="none" stroke="#333" stroke-width="0.9" stroke-dasharray="1.3,1.3"/>
<text x="684.00" y="236.00" text-anchor="start" font-size="14" fill="#3a3a3a" letter-spacing="0" >d</text>
<rect x="450.4" y="820.3" width="25.600000000000023" height="16.100000000000023" fill="none" stroke="#333" stroke-width="0.9" stroke-dasharray="1.3,1.3"/>
<text x="456.50" y="817.30" text-anchor="start" font-size="14" fill="#3a3a3a" letter-spacing="0" >b</text>
<rect x="583" y="1080.8" width="25.700000000000045" height="16.200000000000045" fill="none" stroke="#333" stroke-width="0.9" stroke-dasharray="1.3,1.3"/>
<text x="585.50" y="1075.50" text-anchor="start" font-size="14" fill="#3a3a3a" letter-spacing="0" >a</text>
<rect x="3.5" y="1135" width="33.7" height="10.299999999999955" fill="#d9d9db" stroke="#444" stroke-width="0.9"/>
<line x1="3.5" y1="1140.15" x2="37.2" y2="1140.15" stroke="#444" stroke-width="0.8"/>
<line x1="8.5" y1="1140.15" x2="12.5" y2="1135" stroke="#444" stroke-width="0.8"/>
<line x1="20.5" y1="1140.15" x2="24.5" y2="1135" stroke="#444" stroke-width="0.8"/>
<line x1="31.5" y1="1140.15" x2="35.5" y2="1135" stroke="#444" stroke-width="0.8"/>
<line x1="14.5" y1="1145.3" x2="18.5" y2="1140.15" stroke="#444" stroke-width="0.8"/>
<line x1="26.5" y1="1145.3" x2="30.5" y2="1140.15" stroke="#444" stroke-width="0.8"/>
<text x="49.60" y="1144.80" text-anchor="start" font-size="12.6" fill="#3a3a3a" letter-spacing="0.558" >Dolostone</text>
<rect x="123.2" y="1135" width="33.39999999999999" height="10.299999999999955" fill="#d9d9db" stroke="#444" stroke-width="0.9"/>
<line x1="123.2" y1="1140.15" x2="156.6" y2="1140.15" stroke="#444" stroke-width="0.8"/>
<line x1="135.2" y1="1135" x2="135.2" y2="1140.15" stroke="#444" stroke-width="0.8"/>
<line x1="148.2" y1="1135" x2="148.2" y2="1140.15" stroke="#444" stroke-width="0.8"/>
<line x1="129.2" y1="1140.15" x2="129.2" y2="1145.3" stroke="#444" stroke-width="0.8"/>
<line x1="142.2" y1="1140.15" x2="142.2" y2="1145.3" stroke="#444" stroke-width="0.8"/>
<text x="168.50" y="1144.80" text-anchor="start" font-size="12.6" fill="#3a3a3a" letter-spacing="0.621" >Limestone</text>
<rect x="243.9" y="1135" width="34.099999999999994" height="10.400000000000091" fill="#d4e07c" stroke="#444" stroke-width="0.9"/>
<line x1="243.9" y1="1140.2" x2="278" y2="1140.2" stroke="#444" stroke-width="0.8"/>
<line x1="255.9" y1="1135" x2="255.9" y2="1140.2" stroke="#444" stroke-width="0.8"/>
<line x1="268.9" y1="1135" x2="268.9" y2="1140.2" stroke="#444" stroke-width="0.8"/>
<line x1="249.9" y1="1140.2" x2="249.9" y2="1145.4" stroke="#444" stroke-width="0.8"/>
<line x1="262.9" y1="1140.2" x2="262.9" y2="1145.4" stroke="#444" stroke-width="0.8"/>
<text x="289.20" y="1144.80" text-anchor="start" font-size="12.6" fill="#3a3a3a" letter-spacing="0.809" >Dolomitic limestone</text>
<rect x="425" y="1135" width="34.5" height="10.400000000000091" fill="#d4e07c" stroke="#444" stroke-width="0.9"/>
<line x1="425" y1="1140.2" x2="459.5" y2="1140.2" stroke="#444" stroke-width="0.8"/>
<line x1="430" y1="1140.2" x2="434" y2="1135" stroke="#444" stroke-width="0.8"/>
<line x1="442" y1="1140.2" x2="446" y2="1135" stroke="#444" stroke-width="0.8"/>
<line x1="453" y1="1140.2" x2="457" y2="1135" stroke="#444" stroke-width="0.8"/>
<line x1="436" y1="1145.4" x2="440" y2="1140.2" stroke="#444" stroke-width="0.8"/>
<line x1="448" y1="1145.4" x2="452" y2="1140.2" stroke="#444" stroke-width="0.8"/>
<line x1="429" y1="1137.6" x2="433" y2="1137.6" stroke="#444" stroke-width="0.9"/>
<line x1="439" y1="1137.6" x2="444" y2="1137.6" stroke="#444" stroke-width="0.9"/>
<line x1="445" y1="1142.8000000000002" x2="451" y2="1142.8000000000002" stroke="#444" stroke-width="0.9"/>
<text x="471.40" y="1144.80" text-anchor="start" font-size="12.6" fill="#3a3a3a" letter-spacing="0.645" >Argillaceous dolomites</text>
<rect x="624.4" y="1135.3" width="33.5" height="9.5" fill="#e2e2e2" stroke="#444" stroke-width="0.9"/>
<line x1="624.4" y1="1140.05" x2="657.9" y2="1140.05" stroke="#444" stroke-width="0.8"/>
<line x1="636.4" y1="1135.3" x2="636.4" y2="1140.05" stroke="#444" stroke-width="0.8"/>
<line x1="649.4" y1="1135.3" x2="649.4" y2="1140.05" stroke="#444" stroke-width="0.8"/>
<line x1="630.4" y1="1140.05" x2="630.4" y2="1144.8" stroke="#444" stroke-width="0.8"/>
<line x1="643.4" y1="1140.05" x2="643.4" y2="1144.8" stroke="#444" stroke-width="0.8"/>
<text x="669.30" y="1144.80" text-anchor="start" font-size="12.6" fill="#3a3a3a" letter-spacing="0.614" >Breccia</text>
<rect x="4.5" y="1161.7" width="18.5" height="10.3" fill="#1e1e1e"/>
<line x1="5" y1="1164.3" x2="23" y2="1164.3" stroke="#e8e8e8" stroke-width="0.9" stroke-dasharray="1.1,1.1"/>
<line x1="5" y1="1169.2" x2="23" y2="1169.2" stroke="#e8e8e8" stroke-width="0.9" stroke-dasharray="1.1,1.1"/>
<text x="34.70" y="1170.40" text-anchor="start" font-size="12.6" fill="#3a3a3a" letter-spacing="0.556" >Black shale with silica and dolostone interlayers</text>
<rect x="338.7" y="1161" width="19.3" height="11.2" fill="#ec861f"/>
<line x1="338.7" y1="1166.6" x2="358" y2="1166.6" stroke="#6a4010" stroke-width="0.9"/>
<text x="368.40" y="1172.20" text-anchor="start" font-size="15" fill="#3a3a3a" letter-spacing="0.359" >Shale</text>
<polygon points="439.8,1159.6 446.8,1166.6 439.8,1173.6 432.8,1166.6" fill="#fff" stroke="#e0302f" stroke-width="1.6"/>
<text x="458.40" y="1170.00" text-anchor="start" font-size="12.6" fill="#3a3a3a" letter-spacing="0.63" >dolostone sample</text>
<polygon points="586.7,1158.5 594.2,1166 586.7,1173.5 579.2,1166" fill="#e2242a"/>
<text x="605.40" y="1170.00" text-anchor="start" font-size="12.6" fill="#3a3a3a" letter-spacing="0.61" >Limestone sample</text>
<text x="4.50" y="1195.60" text-anchor="start" font-size="12.6" fill="#3a3a3a" letter-spacing="0.623" >QF=Qigebulak Formation; YF=Yuertusi Formation</text>
</svg></body></html>
